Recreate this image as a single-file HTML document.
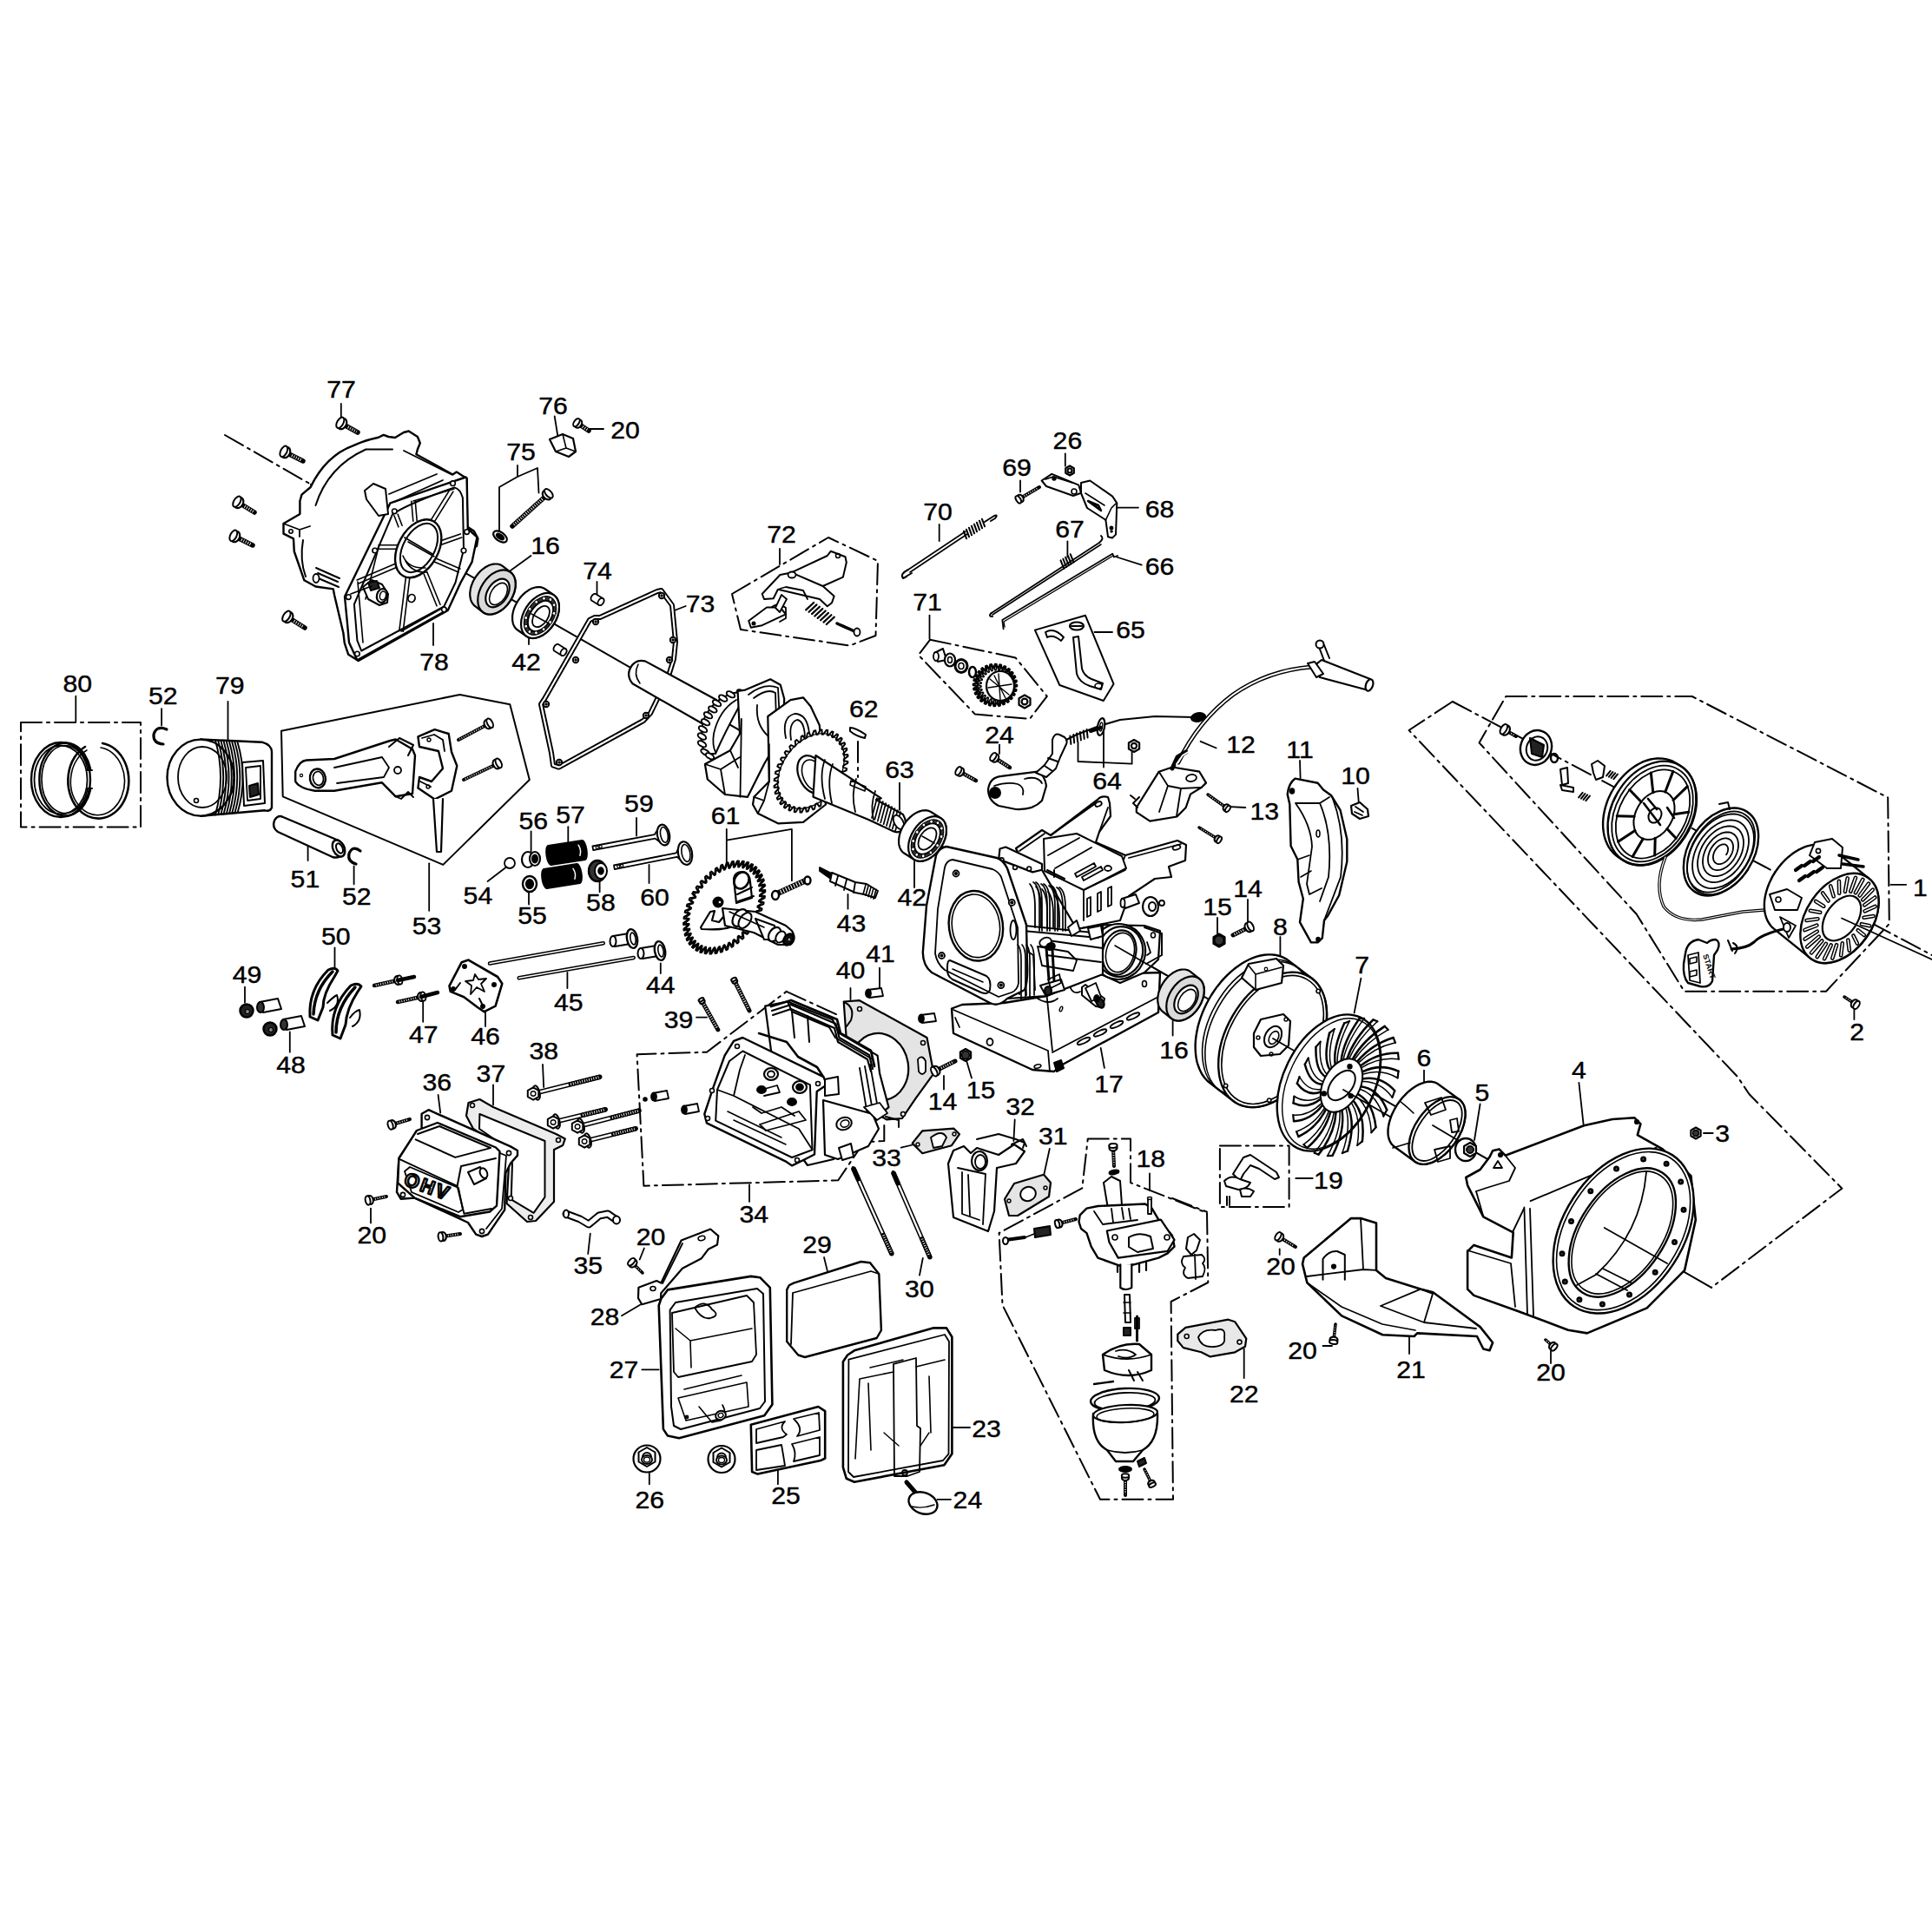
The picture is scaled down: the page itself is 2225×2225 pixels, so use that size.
<!DOCTYPE html>
<html><head><meta charset="utf-8"><style>
html,body{margin:0;padding:0;background:#fff;}
svg{display:block;}
text{font-family:"Liberation Sans",sans-serif;font-size:27px;text-anchor:middle;fill:#000;stroke:none;}
.dd{stroke-dasharray:24,6,3,6;}
.lb{stroke:#000;stroke-width:0.4px;}
</style></head><body>
<svg xmlns="http://www.w3.org/2000/svg" width="2225" height="2225" viewBox="0 0 2225 2225" stroke="#000" fill="none" stroke-linecap="round" stroke-linejoin="round">
<text class="lb" transform="translate(393,458.1) scale(1.12,1)">77</text>
<text class="lb" transform="translate(637,476.6) scale(1.12,1)">76</text>
<text class="lb" transform="translate(600,529.6) scale(1.12,1)">75</text>
<text class="lb" transform="translate(628,637.6) scale(1.12,1)">16</text>
<text class="lb" transform="translate(500,771.6) scale(1.12,1)">78</text>
<text class="lb" transform="translate(606,771.6) scale(1.12,1)">42</text>
<text class="lb" transform="translate(688,666.6) scale(1.12,1)">74</text>
<text class="lb" transform="translate(720,504.6) scale(1.12,1)">20</text>
<text class="lb" transform="translate(900,624.6) scale(1.12,1)">72</text>
<text class="lb" transform="translate(1080,598.6) scale(1.12,1)">70</text>
<text class="lb" transform="translate(806.6,705.2) scale(1.12,1)">73</text>
<text class="lb" transform="translate(1068,702.6) scale(1.12,1)">71</text>
<text class="lb" transform="translate(1229.4,516.6) scale(1.12,1)">26</text>
<text class="lb" transform="translate(1171,547.6) scale(1.12,1)">69</text>
<text class="lb" transform="translate(1335.5,595.6) scale(1.12,1)">68</text>
<text class="lb" transform="translate(1232,618.6) scale(1.12,1)">67</text>
<text class="lb" transform="translate(1335.5,661.6) scale(1.12,1)">66</text>
<text class="lb" transform="translate(1302,735.2) scale(1.12,1)">65</text>
<text class="lb" transform="translate(2211.4,1031.6) scale(1.12,1)">1</text>
<text class="lb" transform="translate(2138.6,1198.2) scale(1.12,1)">2</text>
<text class="lb" transform="translate(994.7,825.9) scale(1.12,1)">62</text>
<text class="lb" transform="translate(1036,895.6) scale(1.12,1)">63</text>
<text class="lb" transform="translate(1050.3,1043.3) scale(1.12,1)">42</text>
<text class="lb" transform="translate(980.4,1073.1) scale(1.12,1)">43</text>
<text class="lb" transform="translate(835.5,948.9) scale(1.12,1)">61</text>
<text class="lb" transform="translate(735.9,934.6) scale(1.12,1)">59</text>
<text class="lb" transform="translate(754,1043.3) scale(1.12,1)">60</text>
<text class="lb" transform="translate(657,947.6) scale(1.12,1)">57</text>
<text class="lb" transform="translate(614.2,955.3) scale(1.12,1)">56</text>
<text class="lb" transform="translate(613,1064) scale(1.12,1)">55</text>
<text class="lb" transform="translate(691.9,1048.6) scale(1.12,1)">58</text>
<text class="lb" transform="translate(1014,1108) scale(1.12,1)">41</text>
<text class="lb" transform="translate(979.5,1126.6) scale(1.12,1)">40</text>
<text class="lb" transform="translate(1151,855.6) scale(1.12,1)">24</text>
<text class="lb" transform="translate(1275,908.6) scale(1.12,1)">64</text>
<text class="lb" transform="translate(1429,867.2) scale(1.12,1)">12</text>
<text class="lb" transform="translate(1456.3,943.6) scale(1.12,1)">13</text>
<text class="lb" transform="translate(1497,872.6) scale(1.12,1)">11</text>
<text class="lb" transform="translate(1561,902.9) scale(1.12,1)">10</text>
<text class="lb" transform="translate(1437,1032.6) scale(1.12,1)">14</text>
<text class="lb" transform="translate(1402,1053.6) scale(1.12,1)">15</text>
<text class="lb" transform="translate(1474.4,1076.9) scale(1.12,1)">8</text>
<text class="lb" transform="translate(1568.7,1120.6) scale(1.12,1)">7</text>
<text class="lb" transform="translate(1640,1228.1) scale(1.12,1)">6</text>
<text class="lb" transform="translate(1707,1268.2) scale(1.12,1)">5</text>
<text class="lb" transform="translate(1818.4,1242.3) scale(1.12,1)">4</text>
<text class="lb" transform="translate(1529.9,1369.1) scale(1.12,1)">19</text>
<text class="lb" transform="translate(1983.6,1314.9) scale(1.12,1)">3</text>
<text class="lb" transform="translate(1625,1586.6) scale(1.12,1)">21</text>
<text class="lb" transform="translate(1500,1564.9) scale(1.12,1)">20</text>
<text class="lb" transform="translate(1786,1590.3) scale(1.12,1)">20</text>
<text class="lb" transform="translate(1475,1467.6) scale(1.12,1)">20</text>
<text class="lb" transform="translate(1325.3,1344.3) scale(1.12,1)">18</text>
<text class="lb" transform="translate(1212.7,1318.4) scale(1.12,1)">31</text>
<text class="lb" transform="translate(1175,1283.6) scale(1.12,1)">32</text>
<text class="lb" transform="translate(1432.7,1614.6) scale(1.12,1)">22</text>
<text class="lb" transform="translate(1136,1654.6) scale(1.12,1)">23</text>
<text class="lb" transform="translate(1114.4,1736.6) scale(1.12,1)">24</text>
<text class="lb" transform="translate(760.8,1143.6) scale(1.12,1)">44</text>
<text class="lb" transform="translate(781.5,1183.8) scale(1.12,1)">39</text>
<text class="lb" transform="translate(1085.6,1278.3) scale(1.12,1)">14</text>
<text class="lb" transform="translate(1129.6,1265.3) scale(1.12,1)">15</text>
<text class="lb" transform="translate(1021,1343) scale(1.12,1)">33</text>
<text class="lb" transform="translate(868.2,1407.6) scale(1.12,1)">34</text>
<text class="lb" transform="translate(491.6,1076.4) scale(1.12,1)">53</text>
<text class="lb" transform="translate(386.8,1088.1) scale(1.12,1)">50</text>
<text class="lb" transform="translate(284.6,1132.1) scale(1.12,1)">49</text>
<text class="lb" transform="translate(335,1235.6) scale(1.12,1)">48</text>
<text class="lb" transform="translate(487.7,1200.6) scale(1.12,1)">47</text>
<text class="lb" transform="translate(559,1203.2) scale(1.12,1)">46</text>
<text class="lb" transform="translate(654.7,1164.4) scale(1.12,1)">45</text>
<text class="lb" transform="translate(626.2,1220.1) scale(1.12,1)">38</text>
<text class="lb" transform="translate(503.3,1256.3) scale(1.12,1)">36</text>
<text class="lb" transform="translate(565.4,1245.9) scale(1.12,1)">37</text>
<text class="lb" transform="translate(428.2,1432.3) scale(1.12,1)">20</text>
<text class="lb" transform="translate(89.2,796.9) scale(1.12,1)">80</text>
<text class="lb" transform="translate(187.7,811.3) scale(1.12,1)">52</text>
<text class="lb" transform="translate(264.8,798.5) scale(1.12,1)">79</text>
<text class="lb" transform="translate(351.4,1021.6) scale(1.12,1)">51</text>
<text class="lb" transform="translate(410.8,1042.4) scale(1.12,1)">52</text>
<text class="lb" transform="translate(550.4,1040.8) scale(1.12,1)">54</text>
<text class="lb" transform="translate(677.2,1466.6) scale(1.12,1)">35</text>
<text class="lb" transform="translate(749.6,1434.2) scale(1.12,1)">20</text>
<text class="lb" transform="translate(696.6,1526.1) scale(1.12,1)">28</text>
<text class="lb" transform="translate(718.6,1586.9) scale(1.12,1)">27</text>
<text class="lb" transform="translate(941,1443.2) scale(1.12,1)">29</text>
<text class="lb" transform="translate(1058.9,1493.6) scale(1.12,1)">30</text>
<text class="lb" transform="translate(905,1731.8) scale(1.12,1)">25</text>
<text class="lb" transform="translate(748.3,1737) scale(1.12,1)">26</text>
<text class="lb" transform="translate(1277,1258.1) scale(1.12,1)">17</text>
<text class="lb" transform="translate(1352,1218.6) scale(1.12,1)">16</text>
<line x1="392.8" y1="465" x2="392.8" y2="482" stroke-width="1.8"/>
<line x1="638.7" y1="479.5" x2="642.5" y2="503" stroke-width="1.8"/>
<line x1="678.5" y1="494" x2="695" y2="494" stroke-width="1.8"/>
<line x1="611.5" y1="640" x2="588" y2="657" stroke-width="1.8"/>
<line x1="499" y1="718" x2="499" y2="743" stroke-width="1.8"/>
<line x1="609" y1="733" x2="609" y2="742" stroke-width="1.8"/>
<line x1="687.5" y1="670" x2="687.5" y2="686.6" stroke-width="1.8"/>
<line x1="898" y1="632" x2="898" y2="650" stroke-width="1.8"/>
<line x1="1081.7" y1="604" x2="1081.7" y2="623" stroke-width="1.8"/>
<line x1="789.7" y1="698" x2="776.8" y2="703" stroke-width="1.8"/>
<line x1="1070.5" y1="708.6" x2="1070.5" y2="735.7" stroke-width="1.8"/>
<line x1="1226.8" y1="522.5" x2="1226.8" y2="536.7" stroke-width="1.8"/>
<line x1="1175" y1="553.5" x2="1175" y2="566.5" stroke-width="1.8"/>
<line x1="1287.6" y1="584.6" x2="1311" y2="584.6" stroke-width="1.8"/>
<line x1="1229.4" y1="623.4" x2="1229.4" y2="641.5" stroke-width="1.8"/>
<line x1="1286" y1="641.5" x2="1314.8" y2="650.6" stroke-width="1.8"/>
<line x1="1260.5" y1="728" x2="1281" y2="728" stroke-width="1.8"/>
<line x1="2177.4" y1="1018.8" x2="2195.2" y2="1018.8" stroke-width="1.8"/>
<line x1="2135.4" y1="1161" x2="2135.4" y2="1174" stroke-width="1.8"/>
<line x1="1036" y1="901.7" x2="1036" y2="932.8" stroke-width="1.8"/>
<line x1="1053" y1="992" x2="1053" y2="1022" stroke-width="1.8"/>
<line x1="976.5" y1="1030" x2="976.5" y2="1046.7" stroke-width="1.8"/>
<line x1="733" y1="942" x2="733" y2="962.6" stroke-width="1.8"/>
<line x1="747.5" y1="996" x2="747.5" y2="1017" stroke-width="1.8"/>
<line x1="654.3" y1="952.2" x2="654.3" y2="970.3" stroke-width="1.8"/>
<line x1="611.6" y1="957.4" x2="611.6" y2="980.7" stroke-width="1.8"/>
<line x1="609" y1="1027" x2="609" y2="1041.5" stroke-width="1.8"/>
<line x1="690.6" y1="1014.3" x2="690.6" y2="1027.3" stroke-width="1.8"/>
<line x1="1151" y1="857.6" x2="1151" y2="868" stroke-width="1.8"/>
<line x1="1382.6" y1="853.8" x2="1400.7" y2="861.5" stroke-width="1.8"/>
<line x1="1412.3" y1="928.8" x2="1434.3" y2="930" stroke-width="1.8"/>
<line x1="1497" y1="876" x2="1497.6" y2="896" stroke-width="1.8"/>
<line x1="1563.5" y1="908" x2="1564.8" y2="924.4" stroke-width="1.8"/>
<line x1="1437" y1="1036" x2="1437" y2="1062" stroke-width="1.8"/>
<line x1="1402" y1="1057" x2="1402" y2="1075" stroke-width="1.8"/>
<line x1="1474.4" y1="1079" x2="1474.4" y2="1106" stroke-width="1.8"/>
<line x1="1567.4" y1="1126.6" x2="1559.6" y2="1166.7" stroke-width="1.8"/>
<line x1="1640" y1="1232.7" x2="1640" y2="1256" stroke-width="1.8"/>
<line x1="1704.6" y1="1271.5" x2="1698" y2="1313" stroke-width="1.8"/>
<line x1="1818.4" y1="1247" x2="1823.6" y2="1294.8" stroke-width="1.8"/>
<line x1="1492.3" y1="1357" x2="1511.7" y2="1357" stroke-width="1.8"/>
<line x1="1962" y1="1305" x2="1972.7" y2="1305" stroke-width="1.8"/>
<line x1="1623" y1="1539" x2="1623" y2="1559" stroke-width="1.8"/>
<line x1="1523.5" y1="1550" x2="1534" y2="1550" stroke-width="1.8"/>
<line x1="1786" y1="1555" x2="1786" y2="1570" stroke-width="1.8"/>
<line x1="1473.7" y1="1438.4" x2="1473.7" y2="1445" stroke-width="1.8"/>
<line x1="1324" y1="1351.5" x2="1324" y2="1371" stroke-width="1.8"/>
<line x1="1208.8" y1="1323" x2="1202.3" y2="1352.8" stroke-width="1.8"/>
<line x1="1168.7" y1="1289.4" x2="1167.4" y2="1314" stroke-width="1.8"/>
<line x1="1432.7" y1="1553.4" x2="1432.7" y2="1587" stroke-width="1.8"/>
<line x1="1097.5" y1="1644" x2="1117" y2="1644" stroke-width="1.8"/>
<line x1="1079.4" y1="1726.8" x2="1095" y2="1726.8" stroke-width="1.8"/>
<line x1="760.8" y1="1109.5" x2="760.8" y2="1121" stroke-width="1.8"/>
<line x1="802" y1="1171.6" x2="814" y2="1171.6" stroke-width="1.8"/>
<line x1="979.5" y1="1138" x2="979.5" y2="1151" stroke-width="1.8"/>
<line x1="1013" y1="1114.7" x2="1013" y2="1138" stroke-width="1.8"/>
<line x1="1087" y1="1239" x2="1087" y2="1254.5" stroke-width="1.8"/>
<line x1="1112.8" y1="1220.8" x2="1119" y2="1241.5" stroke-width="1.8"/>
<line x1="1037.7" y1="1321.7" x2="1053" y2="1318" stroke-width="1.8"/>
<line x1="863" y1="1364.4" x2="863" y2="1383.9" stroke-width="1.8"/>
<line x1="385.5" y1="1091.4" x2="385.5" y2="1113.4" stroke-width="1.8"/>
<line x1="282" y1="1136.7" x2="282" y2="1154.8" stroke-width="1.8"/>
<line x1="333.8" y1="1188.5" x2="333.8" y2="1211.7" stroke-width="1.8"/>
<line x1="487.2" y1="1148.3" x2="487.2" y2="1176.8" stroke-width="1.8"/>
<line x1="559" y1="1165.2" x2="559" y2="1182" stroke-width="1.8"/>
<line x1="653.4" y1="1119.9" x2="653.4" y2="1138" stroke-width="1.8"/>
<line x1="625" y1="1226" x2="626.2" y2="1252" stroke-width="1.8"/>
<line x1="504.6" y1="1261" x2="507.2" y2="1281.6" stroke-width="1.8"/>
<line x1="568" y1="1249.3" x2="568" y2="1272.6" stroke-width="1.8"/>
<line x1="427" y1="1391.6" x2="427" y2="1408.4" stroke-width="1.8"/>
<line x1="87.3" y1="801.7" x2="87.3" y2="831.2" stroke-width="1.8"/>
<line x1="186.1" y1="816.2" x2="186.1" y2="835.4" stroke-width="1.8"/>
<line x1="262.5" y1="808" x2="262.5" y2="851.5" stroke-width="1.8"/>
<line x1="494.2" y1="994.3" x2="494.2" y2="1048.8" stroke-width="1.8"/>
<line x1="354.6" y1="968.6" x2="354.6" y2="991" stroke-width="1.8"/>
<line x1="407.6" y1="997.5" x2="407.6" y2="1018.3" stroke-width="1.8"/>
<line x1="561.6" y1="1015" x2="582.5" y2="999" stroke-width="1.8"/>
<line x1="679.8" y1="1420.7" x2="677.2" y2="1444" stroke-width="1.8"/>
<line x1="741.9" y1="1437.5" x2="736.7" y2="1450.5" stroke-width="1.8"/>
<line x1="716" y1="1515.2" x2="738" y2="1502.2" stroke-width="1.8"/>
<line x1="739.3" y1="1577.3" x2="758.7" y2="1577.3" stroke-width="1.8"/>
<line x1="949" y1="1448" x2="952.8" y2="1463.4" stroke-width="1.8"/>
<line x1="1062.8" y1="1449" x2="1059" y2="1468.6" stroke-width="1.8"/>
<line x1="895.9" y1="1692.4" x2="895.9" y2="1709.3" stroke-width="1.8"/>
<line x1="747.8" y1="1695" x2="747.8" y2="1709.3" stroke-width="1.8"/>
<line x1="1267.7" y1="1207" x2="1271.9" y2="1229.9" stroke-width="1.8"/>
<line x1="1350.6" y1="1176" x2="1350.6" y2="1192.6" stroke-width="1.8"/>
<polyline points="575,611 575,561 596,549 619,539 620.5,567.5" stroke-width="1.8" fill="none"/>
<line x1="596" y1="536" x2="596" y2="549" stroke-width="1.8"/>
<polyline points="836.8,993.6 836.8,954.8" stroke-width="1.8" fill="none"/>
<polyline points="836.8,967.7 911.9,954.8 911.9,1014.3" stroke-width="1.8" fill="none"/>
<polyline points="1241.5,855 1241.5,877 1303.6,879.6 1303.6,865" stroke-width="1.8" fill="none"/>
<line x1="1271" y1="842" x2="1271" y2="883.5" stroke-width="1.8"/>
<polyline class="dd" points="259,501 358,557.8" stroke-width="2.0" fill="none"/>
<line x1="358" y1="557.8" x2="1971" y2="1482.8" stroke-width="2.0"/>
<polygon class="dd" points="24,832 162,832 162,952.6 24,952.6" stroke-width="2.0" fill="none"/>
<polygon points="324,841.8 529.5,800 587.3,811.3 609.8,898 510.3,995.9 325.7,917.3" stroke-width="2.0" fill="none"/>
<polygon class="dd" points="843,684 954,619 1011,646 1008.5,732 978.7,743.5 853,725" stroke-width="2.0" fill="none"/>
<polygon class="dd" points="1071.2,736.7 1169.5,757.4 1205.8,801.9 1186,827.8 1123,822.6 1057.7,754.3" stroke-width="2.0" fill="none"/>
<polygon points="1191.9,725.6 1250,708.8 1282.5,787.7 1270.8,807 1220.3,789" stroke-width="2.0" fill="none"/>
<polygon class="dd" points="1734.3,802 1948.7,802 2174.2,918.5 2175.8,1064 2103,1141.7 1939.7,1141.7 1884.7,1052.8 1703.5,855.4" stroke-width="2.0" fill="none"/>
<polyline class="dd" points="1672.8,808 1622.6,841 2001,1240 2014.4,1260 2121.3,1368.7 1971,1482.8" stroke-width="2.0" fill="none"/>
<polyline class="dd" points="1672.8,808 2225,1100" stroke-width="2.0" fill="none"/>
<polyline class="dd" points="905.7,1141.9 967.9,1170.3" stroke-width="2.0" fill="none"/>
<polyline class="dd" points="1018.3,1295.9 1018.3,1314 995,1315.3 965.3,1359.3 741.4,1365.7 733.6,1214.3 813.9,1211.7 905.7,1141.9" stroke-width="2.0" fill="none"/>
<polygon class="dd" points="1252.8,1311.4 1302,1311.4 1302,1362 1390,1396.8 1391.3,1477 1348.6,1499 1351,1726.8 1267,1726.8 1154.5,1503 1150.6,1420 1246.3,1368.3" stroke-width="2.0" fill="none"/>
<polygon class="dd" points="1404.9,1319.4 1484.6,1319.4 1484.6,1390 1404.9,1390" stroke-width="2.0" fill="none"/>
<polyline class="dd" points="1350,1380 1390,1395.7" stroke-width="2.0" fill="none"/>
<path d="M435.9,503.8 L441.7,500.9 L447.5,503 L455,504 L464.9,498 L470.7,496.5 L480.9,503 L483.8,510.3 L480.9,517.5 L479.4,523.3 L521.4,546.5 L525.8,543.6 L537.4,550.9 L537.4,606 L546,611.7 L550.4,620.4 L549,629 L540.3,633.5 L538.8,642.2 L530.1,661 L517,695.8 L515.7,703 L412.8,761 L401.2,753.8 L396.8,740.7 L395.4,729 L385.2,685.7 L383.8,678.4 L363.5,675.5 L350.4,668.3 L338.8,635 L338,620.4 L326.5,614.6 L326.5,603 L345.4,592 L345.4,577 L347.5,569.7 L357.7,561 Q375,525 407,513.2 Q420,507 435.9,503.8 Z" stroke-width="2.4" fill="#fff" />
<path d="M363.5,582 Q378,537 421.4,517.5 L452,517.5" stroke-width="2" fill="none" />
<path d="M349,622 Q345,645 352,664" stroke-width="2" fill="none" />
<path d="M326.5,603 L345,610 L357,606 M345,610 L345,618" stroke-width="1.8" fill="none" />
<circle cx="335" cy="612" r="2.2" stroke-width="1.6" fill="none"/>
<path d="M397,687 L449.5,579.3 L536.4,549.5 L537.6,550.7 L538.8,609 L549.5,618.6 L543.6,647.1 L530.5,671 L516.2,702 L411.4,760.2 L402,740 L400,718 Z" stroke-width="2.4" fill="#fff" />
<path d="M452,592.4 Q470,580 523.3,561.4 Q530,563 532.9,573.3 L534,632.9 L524.5,671 L511.4,698.3 L416.2,749.5 L411.4,737.6 L407.9,696 Z" stroke-width="2" fill="none" />
<path d="M420,565 L430,557 L444,563 L447,592 L436,594 L422,575 Z" stroke-width="2" fill="#fff" />
<path d="M465,519 L520,546.5 M448,569 L503,546 M454,578 L510,553" stroke-width="1.8" fill="none" />
<path d="M463.1,605.2 L458.1,592.2 M458.9,606.8 L453.9,593.8" stroke-width="1.6" fill="none" />
<path d="M480.2,599.8 L478.2,576.8 M475.8,600.2 L473.8,577.2" stroke-width="1.6" fill="none" />
<path d="M498.9,603.2 L521.9,566.2 M495.1,600.8 L518.1,563.8" stroke-width="1.6" fill="none" />
<path d="M505.7,628.1 L531.7,619.1 M504.3,623.9 L530.3,614.9" stroke-width="1.6" fill="none" />
<path d="M500.1,647.0 L528.1,659.0 M501.9,643.0 L529.9,655.0" stroke-width="1.6" fill="none" />
<path d="M488.0,660.8 L503.0,697.8 M492.0,659.2 L507.0,696.2" stroke-width="1.6" fill="none" />
<path d="M467.8,661.7 L459.8,726.7 M472.2,662.3 L464.2,727.3" stroke-width="1.6" fill="none" />
<path d="M458.1,648.0 L411.1,668.0 M459.9,652.0 L412.9,672.0" stroke-width="1.6" fill="none" />
<path d="M458.0,627.8 L436.0,627.8 M458.0,632.2 L436.0,632.2" stroke-width="1.6" fill="none" />
<path d="M462,727 L510,700 M412,670 L418,740 M436,630 L421,690 M476,577 L523,563" stroke-width="1.6" fill="none" />
<ellipse cx="481.7" cy="631.7" rx="23" ry="36" stroke-width="2.4" fill="#fff" transform="rotate(29 481.7 631.7)"/>
<ellipse cx="482.5" cy="631" rx="18" ry="30.5" stroke-width="2" fill="none" transform="rotate(29 482.5 631)"/>
<path d="M464,640 Q470,655 490,654 M467,646 Q475,660 492,659" stroke-width="1.6" fill="none" />
<line x1="470" y1="624" x2="500" y2="641" stroke-width="1.6"/>
<circle cx="454.3" cy="588.8" r="2.8" stroke-width="1.6" fill="#fff"/>
<circle cx="521.5" cy="556.7" r="2.8" stroke-width="1.6" fill="#fff"/>
<circle cx="537.6" cy="612.6" r="2.8" stroke-width="1.6" fill="#fff"/>
<circle cx="534" cy="634" r="2.8" stroke-width="1.6" fill="#fff"/>
<circle cx="511.4" cy="701.9" r="2.8" stroke-width="1.6" fill="#fff"/>
<circle cx="411.4" cy="753" r="2.8" stroke-width="1.6" fill="#fff"/>
<circle cx="401.3" cy="687.6" r="2.8" stroke-width="1.6" fill="#fff"/>
<circle cx="431.7" cy="634" r="2.8" stroke-width="1.6" fill="#fff"/>
<ellipse cx="474" cy="689" rx="4" ry="4.5" stroke-width="1.8" fill="none" transform="rotate(20 474 689)"/>
<path d="M364,654 L391,666 M362,664 L390,676 M366,660 L389,670" stroke-width="2" fill="none" />
<ellipse cx="364" cy="666" rx="3.5" ry="5" stroke-width="1.8" fill="#fff"/>
<path d="M418,676 L428,668 L440,673 L447,684 L446,694 L437,697 L424,690 Z" stroke-width="2" fill="#fff" />
<ellipse cx="440" cy="686" rx="6" ry="8" stroke-width="2.2" fill="#fff" transform="rotate(15 440 686)"/>
<ellipse cx="441" cy="686" rx="3.5" ry="5" stroke-width="1.6" fill="none" transform="rotate(15 441 686)"/>
<path d="M424,671 L434,669 L437,677 L427,680 Z" stroke-width="2" fill="#222" />
<path d="M404,684 L428,675" stroke-width="1.8" fill="none" />
<line x1="466" y1="619" x2="498" y2="638" stroke-width="1.8"/>
<line x1="394" y1="488" x2="412" y2="498" stroke-width="5.5"/>
<line x1="400.8" y1="491.8" x2="410.7" y2="497.3" stroke-width="3.3" stroke="#fff" stroke-linecap="butt" stroke-dasharray="0.9,1.8"/>
<ellipse cx="394" cy="488" rx="4.9" ry="6.5" stroke-width="2.2" fill="#fff" transform="rotate(29.1 394 488)"/>
<ellipse cx="391.8" cy="486.8" rx="3.6" ry="6.8" stroke-width="2.0" fill="#fff" transform="rotate(29.1 391.8 486.8)"/>
<line x1="329" y1="521" x2="349" y2="531" stroke-width="5.5"/>
<line x1="336" y1="524.5" x2="347.7" y2="530.3" stroke-width="3.3" stroke="#fff" stroke-linecap="butt" stroke-dasharray="0.9,1.8"/>
<ellipse cx="329" cy="521" rx="4.9" ry="6.5" stroke-width="2.2" fill="#fff" transform="rotate(26.6 329 521)"/>
<ellipse cx="326.8" cy="519.9" rx="3.6" ry="6.8" stroke-width="2.0" fill="#fff" transform="rotate(26.6 326.8 519.9)"/>
<line x1="275" y1="579" x2="293" y2="590" stroke-width="5.5"/>
<line x1="281.7" y1="583.1" x2="291.7" y2="589.2" stroke-width="3.3" stroke="#fff" stroke-linecap="butt" stroke-dasharray="0.9,1.8"/>
<ellipse cx="275" cy="579" rx="4.9" ry="6.5" stroke-width="2.2" fill="#fff" transform="rotate(31.4 275 579)"/>
<ellipse cx="272.9" cy="577.7" rx="3.6" ry="6.8" stroke-width="2.0" fill="#fff" transform="rotate(31.4 272.9 577.7)"/>
<line x1="271" y1="618" x2="291" y2="628" stroke-width="5.5"/>
<line x1="278" y1="621.5" x2="289.7" y2="627.3" stroke-width="3.3" stroke="#fff" stroke-linecap="butt" stroke-dasharray="0.9,1.8"/>
<ellipse cx="271" cy="618" rx="4.9" ry="6.5" stroke-width="2.2" fill="#fff" transform="rotate(26.6 271 618)"/>
<ellipse cx="268.8" cy="616.9" rx="3.6" ry="6.8" stroke-width="2.0" fill="#fff" transform="rotate(26.6 268.8 616.9)"/>
<line x1="332" y1="711" x2="351" y2="723" stroke-width="5.5"/>
<line x1="338.6" y1="715.2" x2="349.7" y2="722.2" stroke-width="3.3" stroke="#fff" stroke-linecap="butt" stroke-dasharray="0.9,1.8"/>
<ellipse cx="332" cy="711" rx="4.9" ry="6.5" stroke-width="2.2" fill="#fff" transform="rotate(32.3 332 711)"/>
<ellipse cx="329.9" cy="709.7" rx="3.6" ry="6.8" stroke-width="2.0" fill="#fff" transform="rotate(32.3 329.9 709.7)"/>
<line x1="630" y1="570" x2="590" y2="606" stroke-width="5.5"/>
<line x1="624.6" y1="574.8" x2="591.1" y2="605" stroke-width="3.3" stroke="#fff" stroke-linecap="butt" stroke-dasharray="0.9,1.8"/>
<ellipse cx="630" cy="570" rx="4.5" ry="6" stroke-width="2.2" fill="#fff" transform="rotate(138 630 570)"/>
<ellipse cx="631.9" cy="568.3" rx="3.3" ry="6.3" stroke-width="2.0" fill="#fff" transform="rotate(138 631.9 568.3)"/>
<ellipse cx="576" cy="618" rx="9" ry="5" stroke-width="2.2" fill="#fff" transform="rotate(35 576 618)"/>
<ellipse cx="576" cy="618" rx="5" ry="2.5" stroke-width="1.6" fill="#000" transform="rotate(35 576 618)"/>
<path d="M633,506 L648,500 L660,505 L663,520 L655,526 L640,520 Z" stroke-width="2.2" fill="#fff" />
<path d="M648,500 L652,516 L663,520 M640,520 L652,516" stroke-width="1.6" fill="none" />
<line x1="666" y1="488" x2="678" y2="496" stroke-width="5.5"/>
<line x1="671" y1="491.3" x2="676.8" y2="495.2" stroke-width="3.3" stroke="#fff" stroke-linecap="butt" stroke-dasharray="0.9,1.8"/>
<ellipse cx="666" cy="488" rx="3.8" ry="5" stroke-width="2.2" fill="#fff" transform="rotate(33.7 666 488)"/>
<ellipse cx="663.9" cy="486.6" rx="2.8" ry="5.2" stroke-width="2.0" fill="#fff" transform="rotate(33.7 663.9 486.6)"/>
<polygon points="541.2,684.1 541.3,682.4 541.5,680.6 541.8,678.9 542.1,677.1 542.6,675.4 543.2,673.6 543.9,671.8 544.6,670 545.5,668.3 546.5,666.6 547.5,664.9 548.6,663.3 549.8,661.8 551,660.3 552.3,658.8 553.6,657.5 555,656.2 556.5,655.1 557.9,654 559.4,653 560.9,652.2 562.4,651.4 564,650.8 565.5,650.3 567,649.9 568.5,649.6 569.9,649.5 571.3,649.5 572.7,649.5 574,649.8 575.3,650.1 576.5,650.6 577.7,651.2 578.8,651.9 587.8,658.9 588.8,659.7 589.7,660.6 590.5,661.6 591.3,662.8 592,664 592.5,665.3 593,666.7 593.3,668.2 593.6,669.7 593.7,671.3 593.8,672.9 593.7,674.6 593.5,676.4 593.2,678.1 592.9,679.9 592.4,681.6 591.8,683.4 591.1,685.2 590.4,687 589.5,688.7 588.5,690.4 587.5,692.1 586.4,693.7 585.2,695.2 584,696.7 582.7,698.2 581.4,699.5 580,700.8 578.5,701.9 577.1,703 575.6,704 574.1,704.8 572.6,705.6 571,706.2 569.5,706.7 568,707.1 566.5,707.4 565.1,707.5 563.7,707.5 562.3,707.5 561,707.2 559.7,706.9 558.5,706.4 557.3,705.8 556.2,705.1 547.2,698.1 546.2,697.3 545.3,696.4 544.5,695.4 543.7,694.2 543,693 542.5,691.7 542,690.3 541.7,688.8 541.4,687.3 541.3,685.7" stroke-width="2.2" fill="#e4e4e4"/>
<ellipse cx="572" cy="682" rx="18.5" ry="28" stroke-width="2.2" fill="#dadada" transform="rotate(33 572 682)"/>
<ellipse cx="573" cy="683" rx="11.5" ry="18" stroke-width="2.2" fill="#fff" transform="rotate(33 573 683)"/>
<ellipse cx="574" cy="684" rx="8.5" ry="14" stroke-width="1.6" fill="none" transform="rotate(33 574 684)"/>
<polygon points="590.1,711.4 590.1,709.6 590.3,707.9 590.6,706.1 591,704.3 591.5,702.5 592.1,700.7 592.8,698.9 593.6,697.1 594.5,695.4 595.4,693.6 596.5,691.9 597.6,690.3 598.8,688.7 600,687.2 601.4,685.7 602.7,684.4 604.1,683.1 605.6,681.9 607.1,680.8 608.6,679.8 610.1,678.9 611.6,678.1 613.1,677.5 614.7,677 616.2,676.5 617.7,676.3 619.1,676.1 620.6,676.1 622,676.1 623.3,676.4 624.6,676.7 625.8,677.2 627,677.8 628,678.5 638,685.5 639.1,686.3 640,687.2 640.8,688.2 641.6,689.4 642.2,690.6 642.8,691.9 643.2,693.3 643.5,694.8 643.8,696.4 643.9,698 643.9,699.6 643.9,701.4 643.7,703.1 643.4,704.9 643,706.7 642.5,708.5 641.9,710.3 641.2,712.1 640.4,713.9 639.5,715.6 638.6,717.4 637.5,719.1 636.4,720.7 635.2,722.3 634,723.8 632.6,725.3 631.3,726.6 629.9,727.9 628.4,729.1 626.9,730.2 625.4,731.2 623.9,732.1 622.4,732.9 620.9,733.5 619.3,734 617.8,734.5 616.3,734.7 614.9,734.9 613.4,734.9 612,734.9 610.7,734.6 609.4,734.3 608.2,733.8 607,733.2 606,732.5 596,725.5 594.9,724.7 594,723.8 593.2,722.8 592.4,721.6 591.8,720.4 591.2,719.1 590.8,717.7 590.5,716.2 590.2,714.6 590.1,713" stroke-width="2.2" fill="#fff"/>
<ellipse cx="622" cy="709" rx="18.5" ry="28.5" stroke-width="2.2" fill="#fff" transform="rotate(33 622 709)"/>
<ellipse cx="622" cy="709" rx="15.5" ry="24.5" stroke-width="1.2" fill="#333" transform="rotate(33 622 709)"/>
<ellipse cx="622.5" cy="709.5" rx="12" ry="19.5" stroke-width="2" fill="#fff" transform="rotate(33 622.5 709.5)"/>
<ellipse cx="623" cy="710" rx="8" ry="13.5" stroke-width="1.8" fill="none" transform="rotate(33 623 710)"/>
<circle cx="633.7" cy="716.6" r="2" stroke-width="1" fill="#fff"/>
<circle cx="626.2" cy="724.8" r="2" stroke-width="1" fill="#fff"/>
<circle cx="617.5" cy="728.8" r="2" stroke-width="1" fill="#fff"/>
<circle cx="610" cy="727.5" r="2" stroke-width="1" fill="#fff"/>
<circle cx="605.8" cy="721.2" r="2" stroke-width="1" fill="#fff"/>
<circle cx="605.8" cy="711.6" r="2" stroke-width="1" fill="#fff"/>
<circle cx="610.3" cy="701.4" r="2" stroke-width="1" fill="#fff"/>
<circle cx="617.8" cy="693.2" r="2" stroke-width="1" fill="#fff"/>
<circle cx="626.5" cy="689.2" r="2" stroke-width="1" fill="#fff"/>
<circle cx="634" cy="690.5" r="2" stroke-width="1" fill="#fff"/>
<circle cx="638.2" cy="696.8" r="2" stroke-width="1" fill="#fff"/>
<circle cx="638.2" cy="706.4" r="2" stroke-width="1" fill="#fff"/>
<line x1="612" y1="707" x2="632" y2="718" stroke-width="1.6"/>
<polygon points="680.5,689.5 680.5,689.2 680.5,688.9 680.6,688.6 680.6,688.3 680.7,688 680.8,687.8 680.9,687.5 681,687.2 681.2,686.9 681.3,686.6 681.5,686.4 681.7,686.1 681.9,685.9 682,685.6 682.3,685.4 682.5,685.2 682.7,685 682.9,684.8 683.2,684.6 683.4,684.5 683.6,684.3 683.9,684.2 684.1,684.1 684.4,684 684.6,684 684.9,683.9 685.1,683.9 685.3,683.9 685.5,683.9 685.8,683.9 686,684 686.2,684.1 686.4,684.2 694.4,689.2 694.5,689.3 694.7,689.4 694.9,689.6 695,689.7 695.1,689.9 695.2,690.1 695.3,690.3 695.4,690.5 695.4,690.8 695.5,691 695.5,691.3 695.5,691.5 695.5,691.8 695.5,692.1 695.4,692.4 695.4,692.7 695.3,693 695.2,693.2 695.1,693.5 695,693.8 694.8,694.1 694.7,694.4 694.5,694.6 694.3,694.9 694.1,695.1 694,695.4 693.7,695.6 693.5,695.8 693.3,696 693.1,696.2 692.8,696.4 692.6,696.5 692.4,696.7 692.1,696.8 691.9,696.9 691.6,697 691.4,697 691.1,697.1 690.9,697.1 690.7,697.1 690.5,697.1 690.2,697.1 690,697 689.8,696.9 689.6,696.8 681.6,691.8 681.5,691.7 681.3,691.6 681.1,691.4 681,691.3 680.9,691.1 680.8,690.9 680.7,690.7 680.6,690.5 680.6,690.2 680.5,690 680.5,689.7" stroke-width="1.8" fill="#fff"/>
<ellipse cx="692" cy="693" rx="3" ry="4.5" stroke-width="1.8" fill="#fff" transform="rotate(33 692 693)"/>
<polygon points="637.5,747.5 637.5,747.2 637.5,746.9 637.6,746.6 637.6,746.3 637.7,746 637.8,745.8 637.9,745.5 638,745.2 638.2,744.9 638.3,744.6 638.5,744.4 638.7,744.1 638.9,743.9 639,743.6 639.3,743.4 639.5,743.2 639.7,743 639.9,742.8 640.2,742.6 640.4,742.5 640.6,742.3 640.9,742.2 641.1,742.1 641.4,742 641.6,742 641.9,741.9 642.1,741.9 642.3,741.9 642.5,741.9 642.8,741.9 643,742 643.2,742.1 643.4,742.2 651.4,747.2 651.5,747.3 651.7,747.4 651.9,747.6 652,747.7 652.1,747.9 652.2,748.1 652.3,748.3 652.4,748.5 652.4,748.8 652.5,749 652.5,749.3 652.5,749.5 652.5,749.8 652.5,750.1 652.4,750.4 652.4,750.7 652.3,751 652.2,751.2 652.1,751.5 652,751.8 651.8,752.1 651.7,752.4 651.5,752.6 651.3,752.9 651.1,753.1 651,753.4 650.7,753.6 650.5,753.8 650.3,754 650.1,754.2 649.8,754.4 649.6,754.5 649.4,754.7 649.1,754.8 648.9,754.9 648.6,755 648.4,755 648.1,755.1 647.9,755.1 647.7,755.1 647.5,755.1 647.2,755.1 647,755 646.8,754.9 646.6,754.8 638.6,749.8 638.5,749.7 638.3,749.6 638.1,749.4 638,749.3 637.9,749.1 637.8,748.9 637.7,748.7 637.6,748.5 637.6,748.2 637.5,748 637.5,747.7" stroke-width="1.8" fill="#fff"/>
<ellipse cx="649" cy="751" rx="3" ry="4.5" stroke-width="1.8" fill="#fff" transform="rotate(33 649 751)"/>
<polygon points="761.5,680 774,697 778,739 776,759 771,775 766,790 757,805 749,821.5 741,830 643.5,883.6 637,881.5 635,867 623,811 627,805 679,714 685,711 691,711 757,681" stroke-width="6" fill="none"/>
<polygon points="761.5,680 774,697 778,739 776,759 771,775 766,790 757,805 749,821.5 741,830 643.5,883.6 637,881.5 635,867 623,811 627,805 679,714 685,711 691,711 757,681" stroke-width="2.2" stroke="#fff" fill="none" stroke-dasharray="5,1.2"/>
<circle cx="762" cy="686" r="3.2" stroke-width="2" fill="#fff"/>
<circle cx="762" cy="686" r="1.2" stroke-width="1" fill="#000"/>
<circle cx="775" cy="737" r="3.2" stroke-width="2" fill="#fff"/>
<circle cx="775" cy="737" r="1.2" stroke-width="1" fill="#000"/>
<circle cx="771" cy="760" r="3.2" stroke-width="2" fill="#fff"/>
<circle cx="771" cy="760" r="1.2" stroke-width="1" fill="#000"/>
<circle cx="744" cy="824" r="3.2" stroke-width="2" fill="#fff"/>
<circle cx="744" cy="824" r="1.2" stroke-width="1" fill="#000"/>
<circle cx="644" cy="878" r="3.2" stroke-width="2" fill="#fff"/>
<circle cx="644" cy="878" r="1.2" stroke-width="1" fill="#000"/>
<circle cx="629" cy="811" r="3.2" stroke-width="2" fill="#fff"/>
<circle cx="629" cy="811" r="1.2" stroke-width="1" fill="#000"/>
<circle cx="686" cy="716" r="3.2" stroke-width="2" fill="#fff"/>
<circle cx="686" cy="716" r="1.2" stroke-width="1" fill="#000"/>
<circle cx="663" cy="760" r="3.2" stroke-width="2" fill="#fff"/>
<circle cx="663" cy="760" r="1.2" stroke-width="1" fill="#000"/>
<path d="M742.9,761.4 L825,806 L810,834 L728.4,787.3 Q720,777 728,766 Q734,759 742.9,761.4 Z" stroke-width="2.2" fill="#fff" stroke-dasharray="0"/>
<path d="M735,765 Q729,777 737,787" stroke-width="1.6" fill="none" />
<path d="M852,797 Q826,800 812,825 Q803,848 812,868 L824,868 Q834,845 852,812 Z" stroke-width="2" fill="#fff" />
<path d="M848,806 Q828,818 822,845 Q820,858 824,866" stroke-width="1.8" fill="none" />
<ellipse cx="853.5" cy="797.8" rx="5.2" ry="2.8" stroke-width="2" fill="#fff" transform="rotate(30 853.5 797.8)"/>
<ellipse cx="841.5" cy="799.8" rx="5.2" ry="2.8" stroke-width="2" fill="#fff" transform="rotate(30 841.5 799.8)"/>
<ellipse cx="832.7" cy="804.1" rx="5.2" ry="2.8" stroke-width="2" fill="#fff" transform="rotate(30 832.7 804.1)"/>
<ellipse cx="825.5" cy="809.8" rx="5.2" ry="2.8" stroke-width="2" fill="#fff" transform="rotate(30 825.5 809.8)"/>
<ellipse cx="820.8" cy="817" rx="5.2" ry="2.8" stroke-width="2" fill="#fff" transform="rotate(30 820.8 817)"/>
<ellipse cx="815.5" cy="823.8" rx="5.2" ry="2.8" stroke-width="2" fill="#fff" transform="rotate(30 815.5 823.8)"/>
<ellipse cx="812.5" cy="831.8" rx="5.2" ry="2.8" stroke-width="2" fill="#fff" transform="rotate(30 812.5 831.8)"/>
<ellipse cx="809.5" cy="839.8" rx="5.2" ry="2.8" stroke-width="2" fill="#fff" transform="rotate(30 809.5 839.8)"/>
<ellipse cx="808.4" cy="848.1" rx="5.2" ry="2.8" stroke-width="2" fill="#fff" transform="rotate(30 808.4 848.1)"/>
<ellipse cx="808.5" cy="856.8" rx="5.2" ry="2.8" stroke-width="2" fill="#fff" transform="rotate(30 808.5 856.8)"/>
<ellipse cx="812" cy="866.2" rx="5.2" ry="2.8" stroke-width="2" fill="#fff" transform="rotate(30 812 866.2)"/>
<ellipse cx="817.5" cy="870.8" rx="5.2" ry="2.8" stroke-width="2" fill="#fff" transform="rotate(30 817.5 870.8)"/>
<path d="M849.6,796 L858.3,794.6 L887.2,782.3 L898.8,788.8 L903.2,804.8 L901.7,842.5 L880,880 L861,917.8 L835,915 L814.8,897.5 L811.9,880 L840.9,864.2 L852,845 Z" stroke-width="2.2" fill="#fff" />
<path d="M811.9,880 L830,886 L852,872 M830,886 L835,915 M840.9,864.2 L850,884 M853.9,828 L852.5,917.8" stroke-width="1.8" fill="none" />
<path d="M862,800 Q880,786 896,792 L898,830 M868,804 Q884,792 893,798 L894,830 M872,812 Q870,835 885,848" stroke-width="1.8" fill="none" />
<path d="M884.3,825 L910.4,806.2 L925,803.3 L933.6,813.5 L943.8,835.2 L951,926.5 L925,946.8 L896,948.3 L872.8,936.7 L867,926.5 L868.4,917.8 L885.8,900 Z" stroke-width="2.2" fill="#fff" />
<path d="M868.4,917.8 L880,922 L885.8,900 M880,922 L872.8,936.7 M885.8,857 L885.8,900" stroke-width="1.8" fill="none" />
<path d="M905,850 Q900,826 915,822 Q930,822 932,845 M911,852 Q908,832 918,829 Q926,830 927,848" stroke-width="1.8" fill="none" />
<polygon points="964.3,909.2 963,911.1 958.6,910.1 957.3,911.7 958.7,916.3 957.1,917.9 953.2,916.1 951.7,917.4 952.3,922.5 950.6,923.9 947.2,921.1 945.7,922.3 945.3,927.7 943.5,928.8 940.9,925.2 939.2,926.1 938,931.6 936.2,932.4 934.3,928.2 932.7,928.7 930.6,934.3 928.8,934.7 927.7,929.9 926.1,930.1 923.3,935.5 921.5,935.6 921.3,930.3 919.8,930.3 916.3,935.3 914.7,935 915.3,929.5 913.9,929.1 909.9,933.6 908.4,933 909.9,927.4 908.7,926.7 904.2,930.6 902.9,929.6 905.2,924.1 904.2,923.1 899.4,926.3 898.3,925 901.4,919.7 900.6,918.5 895.6,920.8 894.8,919.2 898.5,914.4 898,912.9 893,914.3 892.6,912.5 896.8,908.2 896.5,906.6 891.7,907 891.5,905.1 896.2,901.5 896.2,899.7 891.6,899.1 891.8,897.1 896.7,894.3 897,892.4 892.8,890.9 893.3,888.8 898.3,886.9 898.9,885.1 895.3,882.6 896.1,880.6 901.1,879.6 901.9,877.8 899,874.5 900.1,872.5 904.8,872.5 905.9,870.8 903.7,866.8 905,864.9 909.4,865.9 910.7,864.3 909.3,859.7 910.9,858.1 914.8,859.9 916.3,858.6 915.7,853.5 917.4,852.1 920.8,854.9 922.3,853.7 922.7,848.3 924.5,847.2 927.1,850.8 928.8,849.9 930,844.4 931.8,843.6 933.7,847.8 935.3,847.3 937.4,841.7 939.2,841.3 940.3,846.1 941.9,845.9 944.7,840.5 946.5,840.4 946.7,845.7 948.2,845.7 951.7,840.7 953.3,841 952.7,846.5 954.1,846.9 958.1,842.4 959.6,843 958.1,848.6 959.3,849.3 963.8,845.4 965.1,846.4 962.8,851.9 963.8,852.9 968.6,849.7 969.7,851 966.6,856.3 967.4,857.5 972.4,855.2 973.2,856.8 969.5,861.6 970,863.1 975,861.7 975.4,863.5 971.2,867.8 971.5,869.4 976.3,869 976.5,870.9 971.8,874.5 971.8,876.3 976.4,876.9 976.2,878.9 971.3,881.7 971,883.6 975.2,885.1 974.7,887.2 969.7,889.1 969.1,890.9 972.7,893.4 971.9,895.4 966.9,896.4 966.1,898.2 969,901.5 967.9,903.5 963.2,903.5 962.1,905.2" stroke-width="2" fill="#fff"/>
<ellipse cx="934" cy="888" rx="33" ry="47.5" stroke-width="1.3" fill="none" transform="rotate(35 934 888)"/>
<ellipse cx="935" cy="892" rx="15" ry="23" stroke-width="2.2" fill="#fff" transform="rotate(-25 935 892)"/>
<ellipse cx="937" cy="893" rx="12" ry="19" stroke-width="1.6" fill="#fff" transform="rotate(-25 937 893)"/>
<path d="M939.4,870 L1014.8,919.3 L1009,921 L1040,938 Q1046,948 1040,956 Q1034,960 1028,957 L1000.3,944 L936.5,917.8 Z" stroke-width="2.2" fill="#fff" />
<path d="M950,875 Q943,893 950,920 M959,880 Q952,898 958,925 M986,897 Q980,915 985,935 M1008,911 Q1002,928 1006,944" stroke-width="1.8" fill="none" />
<path d="M1010.0,919.0 L1004.0,942.0" stroke-width="1.7" fill="none" />
<path d="M1013.4,921.0 L1007.4,943.8" stroke-width="1.7" fill="none" />
<path d="M1016.8,923.0 L1010.8,945.6" stroke-width="1.7" fill="none" />
<path d="M1020.2,925.0 L1014.2,947.4" stroke-width="1.7" fill="none" />
<path d="M1023.6,927.0 L1017.6,949.2" stroke-width="1.7" fill="none" />
<path d="M1027.0,929.0 L1021.0,951.0" stroke-width="1.7" fill="none" />
<path d="M1030.4,931.0 L1024.4,952.8" stroke-width="1.7" fill="none" />
<path d="M1033.8,933.0 L1027.8,954.6" stroke-width="1.7" fill="none" />
<path d="M1037.2,935.0 L1031.2,956.4" stroke-width="1.7" fill="none" />
<ellipse cx="1035" cy="947" rx="5" ry="9" stroke-width="1.8" fill="#fff" transform="rotate(-30 1035 947)"/>
<path d="M980,899 L997,906 L996,911 L979,904 Z" stroke-width="1.6" fill="none" />
<path d="M979,838 Q985,838 997,846 L996,850 Q986,848 979,842 Z" stroke-width="2" fill="#fff" />
<polyline class="dd" points="988,854 988,895" stroke-width="2.0" fill="none"/>
<polygon points="683.2,979.1 754.6,965.7 764,972.6 760,951.4 753.7,961.2 682.4,974.5" stroke-width="1.8" fill="#fff"/>
<ellipse cx="764" cy="961.6" rx="7" ry="12" stroke-width="2.2" fill="#fff" transform="rotate(-10.6 764 961.6)"/>
<ellipse cx="764.9" cy="961.4" rx="4.2" ry="9" stroke-width="1.6" fill="none" transform="rotate(-10.6 764.9 961.4)"/>
<circle cx="687.7" cy="975.9" r="1.6" stroke-width="1.2" fill="none"/>
<circle cx="691.6" cy="975.1" r="1.6" stroke-width="1.2" fill="none"/>
<polygon points="707.8,1001.1 779.6,986.8 789.4,994.9 784.6,971.1 778.7,982.3 707,996.5" stroke-width="1.8" fill="#fff"/>
<ellipse cx="789" cy="982.6" rx="8" ry="13.5" stroke-width="2.2" fill="#fff" transform="rotate(-11.2 789 982.6)"/>
<ellipse cx="789.9" cy="982.4" rx="4.8" ry="10.1" stroke-width="1.6" fill="none" transform="rotate(-11.2 789.9 982.4)"/>
<circle cx="712.3" cy="997.8" r="1.6" stroke-width="1.2" fill="none"/>
<circle cx="716.2" cy="997" r="1.6" stroke-width="1.2" fill="none"/>
<polygon points="634.7,995.9 673.7,989.9 670.3,968.1 631.3,974.1" stroke-width="2" fill="#000"/>
<ellipse cx="633" cy="985" rx="3.5" ry="11" stroke-width="2" fill="#000" transform="rotate(-8.7 633 985)"/>
<ellipse cx="672" cy="979" rx="3.5" ry="11" stroke-width="2" fill="#000" transform="rotate(-8.7 672 979)"/>
<path d="M666.1,973.2 Q670.0,979.3 667.9,985.2" stroke-width="1.5" fill="none" stroke="#fff"/>
<polygon points="629.7,1022.9 667.7,1016.9 664.3,995.1 626.3,1001.1" stroke-width="2" fill="#000"/>
<ellipse cx="628" cy="1012" rx="3.5" ry="11" stroke-width="2" fill="#000" transform="rotate(-9 628 1012)"/>
<ellipse cx="666" cy="1006" rx="3.5" ry="11" stroke-width="2" fill="#000" transform="rotate(-9 666 1006)"/>
<path d="M660.0,1000.3 Q664.0,1006.3 661.9,1012.2" stroke-width="1.5" fill="none" stroke="#fff"/>
<ellipse cx="608" cy="990" rx="7" ry="9" stroke-width="2.2" fill="#fff"/>
<ellipse cx="616" cy="989" rx="6" ry="8" stroke-width="2.2" fill="#fff"/>
<ellipse cx="616" cy="989" rx="3" ry="4.5" stroke-width="2" fill="#000"/>
<ellipse cx="610" cy="1018" rx="8" ry="9" stroke-width="2.4" fill="#fff"/>
<ellipse cx="610" cy="1018" rx="4" ry="5" stroke-width="2.2" fill="#000"/>
<ellipse cx="688" cy="1003" rx="10" ry="12" stroke-width="2.4" fill="#333"/>
<ellipse cx="692" cy="1003" rx="7" ry="9" stroke-width="2" fill="#fff"/>
<ellipse cx="692" cy="1003" rx="3" ry="4" stroke-width="1.6" fill="#000"/>
<circle cx="587" cy="994" r="6" stroke-width="1.8" fill="#fff"/>
<polygon points="866.6,1067.7 865.5,1069.4 861.2,1068.4 860.1,1069.8 861.7,1074.1 860.4,1075.6 856.6,1073.9 855.4,1075.2 856.3,1079.9 854.9,1081.3 851.5,1078.8 850.2,1080 850.5,1085.1 849,1086.3 846.1,1083.2 844.7,1084.1 844.3,1089.5 842.8,1090.5 840.5,1086.8 839.1,1087.6 838,1093.1 836.4,1093.9 834.7,1089.6 833.3,1090.2 831.6,1095.8 830,1096.4 829,1091.6 827.6,1092 825.3,1097.6 823.7,1097.9 823.3,1092.8 822,1092.9 819.1,1098.4 817.6,1098.4 817.9,1093 816.6,1093 813.2,1098.1 811.8,1097.9 812.7,1092.4 811.5,1092.1 807.7,1096.9 806.4,1096.5 808,1090.9 806.9,1090.4 802.7,1094.8 801.5,1094.1 803.7,1088.5 802.8,1087.8 798.2,1091.7 797.2,1090.8 800.1,1085.3 799.2,1084.4 794.5,1087.7 793.6,1086.6 797,1081.4 796.3,1080.3 791.4,1082.9 790.8,1081.6 794.6,1076.8 794.2,1075.5 789.2,1077.5 788.8,1076 793,1071.5 792.7,1070.2 787.8,1071.4 787.6,1069.8 792.1,1065.8 792.1,1064.3 787.3,1064.8 787.3,1063.1 792.1,1059.7 792.2,1058.2 787.7,1057.9 787.9,1056.1 792.8,1053.4 793.1,1051.8 788.9,1050.7 789.3,1048.9 794.3,1046.9 794.8,1045.2 791,1043.4 791.6,1041.6 796.5,1040.3 797.2,1038.7 793.8,1036.2 794.7,1034.4 799.4,1033.8 800.3,1032.2 797.5,1029.1 798.5,1027.3 803,1027.6 804,1026.1 801.8,1022.3 802.9,1020.6 807.2,1021.6 808.3,1020.2 806.7,1015.9 808,1014.4 811.8,1016.1 813,1014.8 812.1,1010.1 813.5,1008.7 816.9,1011.2 818.2,1010 817.9,1004.9 819.4,1003.7 822.3,1006.8 823.7,1005.9 824.1,1000.5 825.6,999.5 827.9,1003.2 829.3,1002.4 830.4,996.9 832,996.1 833.7,1000.4 835.1,999.8 836.8,994.2 838.4,993.6 839.4,998.4 840.8,998 843.1,992.4 844.7,992.1 845.1,997.2 846.4,997.1 849.3,991.6 850.8,991.6 850.5,997 851.8,997 855.2,991.9 856.6,992.1 855.7,997.6 856.9,997.9 860.7,993.1 862,993.5 860.4,999.1 861.5,999.6 865.7,995.2 866.9,995.9 864.7,1001.5 865.6,1002.2 870.2,998.3 871.2,999.2 868.3,1004.7 869.2,1005.6 873.9,1002.3 874.8,1003.4 871.4,1008.6 872.1,1009.7 877,1007.1 877.6,1008.4 873.8,1013.2 874.2,1014.5 879.2,1012.5 879.6,1014 875.4,1018.5 875.7,1019.8 880.6,1018.6 880.8,1020.2 876.3,1024.2 876.3,1025.7 881.1,1025.2 881.1,1026.9 876.3,1030.3 876.2,1031.8 880.7,1032.1 880.5,1033.9 875.6,1036.6 875.3,1038.2 879.5,1039.3 879.1,1041.1 874.1,1043.1 873.6,1044.8 877.4,1046.6 876.8,1048.4 871.9,1049.7 871.2,1051.3 874.6,1053.8 873.7,1055.6 869,1056.2 868.1,1057.8 870.9,1060.9 869.9,1062.7 865.4,1062.4 864.4,1063.9" stroke-width="2.4" fill="#fff"/>
<polygon points="864.5,1066.2 863.4,1067.8 860,1067.3 858.9,1068.7 859.9,1072.2 858.7,1073.6 855.5,1072.6 854.4,1073.9 854.8,1077.7 853.5,1079 850.7,1077.4 849.4,1078.5 849.3,1082.6 847.9,1083.7 845.5,1081.6 844.2,1082.5 843.6,1086.8 842.1,1087.7 840.1,1085.1 838.7,1085.8 837.6,1090.2 836.1,1090.9 834.6,1087.8 833.2,1088.4 831.6,1092.7 830.1,1093.2 829.1,1089.8 827.7,1090.1 825.7,1094.4 824.2,1094.7 823.7,1090.9 822.3,1091 819.9,1095.1 818.5,1095.2 818.4,1091.1 817.2,1091.1 814.4,1094.9 813,1094.8 813.5,1090.5 812.3,1090.3 809.2,1093.8 808,1093.4 809,1089.1 807.9,1088.6 804.5,1091.8 803.4,1091.2 804.9,1086.8 804,1086.1 800.4,1088.9 799.4,1088.1 801.4,1083.8 800.6,1082.9 796.9,1085.2 796.1,1084.1 798.5,1080 797.9,1079 794.1,1080.7 793.5,1079.5 796.2,1075.6 795.8,1074.4 792,1075.6 791.6,1074.2 794.7,1070.6 794.4,1069.3 790.7,1069.9 790.5,1068.4 793.9,1065.1 793.8,1063.7 790.2,1063.7 790.3,1062.1 793.8,1059.3 793.9,1057.8 790.6,1057.2 790.8,1055.6 794.5,1053.2 794.8,1051.6 791.8,1050.5 792.2,1048.8 796,1046.9 796.4,1045.3 793.7,1043.6 794.3,1041.9 798.1,1040.6 798.8,1039 796.4,1036.8 797.2,1035.1 800.9,1034.4 801.7,1032.9 799.8,1030.2 800.8,1028.5 804.4,1028.4 805.3,1026.9 803.9,1023.8 805,1022.2 808.4,1022.7 809.5,1021.3 808.5,1017.8 809.7,1016.4 812.9,1017.4 814,1016.1 813.6,1012.3 814.9,1011 817.7,1012.6 819,1011.5 819.1,1007.4 820.5,1006.3 822.9,1008.4 824.2,1007.5 824.8,1003.2 826.3,1002.3 828.3,1004.9 829.7,1004.2 830.8,999.8 832.3,999.1 833.8,1002.2 835.2,1001.6 836.8,997.3 838.3,996.8 839.3,1000.2 840.7,999.9 842.7,995.6 844.2,995.3 844.7,999.1 846.1,999 848.5,994.9 849.9,994.8 850,998.9 851.2,998.9 854,995.1 855.4,995.2 854.9,999.5 856.1,999.7 859.2,996.2 860.4,996.6 859.4,1000.9 860.5,1001.4 863.9,998.2 865,998.8 863.5,1003.2 864.4,1003.9 868,1001.1 869,1001.9 867,1006.2 867.8,1007.1 871.5,1004.8 872.3,1005.9 869.9,1010 870.5,1011 874.3,1009.3 874.9,1010.5 872.2,1014.4 872.6,1015.6 876.4,1014.4 876.8,1015.8 873.7,1019.4 874,1020.7 877.7,1020.1 877.9,1021.6 874.5,1024.9 874.6,1026.3 878.2,1026.3 878.1,1027.9 874.6,1030.7 874.5,1032.2 877.8,1032.8 877.6,1034.4 873.9,1036.8 873.6,1038.4 876.6,1039.5 876.2,1041.2 872.4,1043.1 872,1044.7 874.7,1046.4 874.1,1048.1 870.3,1049.4 869.6,1051 872,1053.2 871.2,1054.9 867.5,1055.6 866.7,1057.1 868.6,1059.8 867.6,1061.5 864,1061.6 863.1,1063.1" stroke-width="1.4" fill="none"/>
<path d="M845,1012 Q846,1004 855,1004 Q864,1006 864,1016 L866,1034 L848,1040 Z" stroke-width="2.2" fill="#fff" />
<ellipse cx="854" cy="1014" rx="8" ry="10" stroke-width="2.6" fill="#fff" transform="rotate(30 854 1014)"/>
<path d="M849,1030 L866,1022 M850,1038 L868,1032" stroke-width="2" fill="none" />
<ellipse cx="827" cy="1039" rx="5" ry="5" stroke-width="3" fill="#000"/>
<circle cx="829" cy="1039" r="1.8" stroke-width="0.8" fill="#fff"/>
<path d="M807,1068 L818,1050 L823,1049 L820,1060 L828,1062 L833,1056 L846,1064 Q840,1072 808,1070 Z" stroke-width="2.2" fill="#fff" />
<path d="M832,1046 L870,1050 L905,1066 L912,1072 Q918,1082 910,1088 L896,1088 L868,1074 L835,1066 Z" stroke-width="2.2" fill="#fff" />
<ellipse cx="852" cy="1057" rx="7" ry="11" stroke-width="2.2" fill="#fff" transform="rotate(35 852 1057)"/>
<ellipse cx="858" cy="1060" rx="6" ry="10" stroke-width="2" fill="#fff" transform="rotate(35 858 1060)"/>
<path d="M870,1058 L892,1066 L896,1082 L880,1082 Z" stroke-width="2" fill="#fff" />
<ellipse cx="892" cy="1076" rx="6" ry="9" stroke-width="2.2" fill="#fff" transform="rotate(35 892 1076)"/>
<ellipse cx="899" cy="1079" rx="5" ry="7" stroke-width="2" fill="#fff" transform="rotate(35 899 1079)"/>
<ellipse cx="908" cy="1082" rx="5" ry="7" stroke-width="2.6" fill="#111" transform="rotate(35 908 1082)"/>
<circle cx="909" cy="1082" r="1.5" stroke-width="0.8" fill="#fff"/>
<path d="M840,1050 L880,1068" stroke-width="1.6" fill="none" />
<path d="M893,1030 L928,1014" stroke-width="6.5" fill="none" />
<path d="M893,1030 L928,1014" stroke-width="5" fill="none" stroke="#fff" stroke-dasharray="1.1,2.2" stroke-linecap="butt"/>
<ellipse cx="893" cy="1031" rx="4" ry="5" stroke-width="2.4" fill="#fff"/>
<ellipse cx="930" cy="1014" rx="3.5" ry="4.5" stroke-width="2.4" fill="#fff"/>
<path d="M944,999 L960,1007 L958,1013 L944,1003 Z" stroke-width="1.8" fill="#000" />
<path d="M958,1005 L985,1016 L998,1018 L1011,1026 L1008,1034 L995,1030 L985,1028 L956,1015 Z" stroke-width="2" fill="#fff" />
<path d="M965,1009 L962,1020 M975,1013 L972,1025 M985,1016 L983,1028" stroke-width="1.8" fill="none" />
<path d="M997,1019.0 L994,1030.0" stroke-width="1.6" fill="none" />
<path d="M1000,1020.3 L997,1031.3" stroke-width="1.6" fill="none" />
<path d="M1003,1021.6 L1000,1032.6" stroke-width="1.6" fill="none" />
<path d="M1006,1022.9 L1003,1033.9" stroke-width="1.6" fill="none" />
<path d="M1009,1024.2 L1006,1035.2" stroke-width="1.6" fill="none" />
<polygon points="1035.1,968.1 1035.2,966.4 1035.4,964.7 1035.7,962.9 1036.1,961.1 1036.6,959.4 1037.2,957.6 1037.9,955.8 1038.7,954 1039.6,952.2 1040.6,950.5 1041.7,948.8 1042.8,947.2 1044,945.6 1045.2,944.1 1046.6,942.7 1047.9,941.4 1049.4,940.1 1050.8,938.9 1052.3,937.8 1053.8,936.9 1055.3,936 1056.8,935.2 1058.4,934.6 1059.9,934.1 1061.4,933.7 1062.9,933.4 1064.4,933.3 1065.8,933.2 1067.2,933.3 1068.5,933.6 1069.8,933.9 1071,934.4 1072.1,935 1083.1,942 1084.2,942.7 1085.2,943.5 1086.1,944.4 1086.9,945.5 1087.7,946.6 1088.3,947.9 1088.8,949.2 1089.2,950.6 1089.6,952 1089.8,953.6 1089.9,955.2 1089.9,956.9 1089.8,958.6 1089.6,960.3 1089.3,962.1 1088.9,963.9 1088.4,965.6 1087.8,967.4 1087.1,969.2 1086.3,971 1085.4,972.8 1084.4,974.5 1083.3,976.2 1082.2,977.8 1081,979.4 1079.8,980.9 1078.4,982.3 1077.1,983.6 1075.6,984.9 1074.2,986.1 1072.7,987.2 1071.2,988.1 1069.7,989 1068.2,989.8 1066.6,990.4 1065.1,990.9 1063.6,991.3 1062.1,991.6 1060.6,991.7 1059.2,991.8 1057.8,991.7 1056.5,991.4 1055.2,991.1 1054,990.6 1052.9,990 1041.9,983 1040.8,982.3 1039.8,981.5 1038.9,980.6 1038.1,979.5 1037.3,978.4 1036.7,977.1 1036.2,975.8 1035.8,974.4 1035.4,973 1035.2,971.4 1035.1,969.8" stroke-width="2.2" fill="#fff"/>
<ellipse cx="1068" cy="966" rx="18.4" ry="28.4" stroke-width="2.2" fill="#fff" transform="rotate(33.5 1068 966)"/>
<ellipse cx="1068" cy="966" rx="15.5" ry="24.5" stroke-width="1.2" fill="#333" transform="rotate(33.5 1068 966)"/>
<ellipse cx="1068" cy="966" rx="12.3" ry="19.5" stroke-width="2" fill="#fff" transform="rotate(33.5 1068 966)"/>
<ellipse cx="1068" cy="966" rx="8.5" ry="14" stroke-width="1.8" fill="none" transform="rotate(33.5 1068 966)"/>
<circle cx="1079.7" cy="973.7" r="2" stroke-width="1" fill="#fff"/>
<circle cx="1072" cy="981.9" r="2" stroke-width="1" fill="#fff"/>
<circle cx="1063.3" cy="985.8" r="2" stroke-width="1" fill="#fff"/>
<circle cx="1055.9" cy="984.3" r="2" stroke-width="1" fill="#fff"/>
<circle cx="1051.6" cy="978" r="2" stroke-width="1" fill="#fff"/>
<circle cx="1051.8" cy="968.5" r="2" stroke-width="1" fill="#fff"/>
<circle cx="1056.3" cy="958.3" r="2" stroke-width="1" fill="#fff"/>
<circle cx="1064" cy="950.1" r="2" stroke-width="1" fill="#fff"/>
<circle cx="1072.7" cy="946.2" r="2" stroke-width="1" fill="#fff"/>
<circle cx="1080.1" cy="947.7" r="2" stroke-width="1" fill="#fff"/>
<circle cx="1084.4" cy="954" r="2" stroke-width="1" fill="#fff"/>
<circle cx="1084.2" cy="963.5" r="2" stroke-width="1" fill="#fff"/>
<line x1="1062" y1="963" x2="1076" y2="971" stroke-width="1.6"/>
<path d="M564,1109.5 L694.8,1086.2" stroke-width="4.5" fill="none" />
<path d="M564,1109.5 L694.8,1086.2" stroke-width="1.5" fill="none" stroke="#fff"/>
<path d="M597.7,1126.3 L729.7,1103" stroke-width="4.5" fill="none" />
<path d="M597.7,1126.3 L729.7,1103" stroke-width="1.5" fill="none" stroke="#fff"/>
<path d="M706,1078 L724,1075 L726,1087 L708,1090 Z" stroke-width="2" fill="#fff" />
<ellipse cx="706" cy="1084" rx="3.5" ry="6" stroke-width="2" fill="#fff"/>
<ellipse cx="728" cy="1081" rx="6" ry="11" stroke-width="2.4" fill="#fff" transform="rotate(-10 728 1081)"/>
<ellipse cx="729" cy="1081" rx="3" ry="7" stroke-width="1.6" fill="none" transform="rotate(-10 729 1081)"/>
<path d="M738,1092 L756,1089 L758,1101 L740,1104 Z" stroke-width="2" fill="#fff" />
<ellipse cx="738" cy="1098" rx="3.5" ry="6" stroke-width="2" fill="#fff"/>
<ellipse cx="760" cy="1095" rx="6" ry="11" stroke-width="2.4" fill="#fff" transform="rotate(-10 760 1095)"/>
<ellipse cx="761" cy="1095" rx="3" ry="7" stroke-width="1.6" fill="none" transform="rotate(-10 761 1095)"/>
<path d="M911.4,659.4 L952.8,640 L956.7,634.8 L973.5,641.3 L974.8,647.7 L970.9,664.6 L947.6,675" stroke-width="2" fill="none" />
<path d="M877.7,684 L898.4,662 L911.4,659.4 L947.6,675 L960.6,686.6 L958,694.3 L952.8,698.2 L944,690 L895.9,678.8 L890.7,689.2 L880,690 Z" stroke-width="2" fill="#fff" />
<circle cx="965" cy="640" r="2.5" stroke-width="1.6" fill="none"/>
<ellipse cx="912" cy="662" rx="4.5" ry="3.5" stroke-width="1.8" fill="#fff"/>
<path d="M898,678 L905,676 L925,680 L930,690 M888,700 Q895,693 905,700 L905,712 L898,716" stroke-width="1.8" fill="none" />
<path d="M862.2,715 L883,699.5 L898.4,699.5 L905,707.3 L877.7,720.2 L864.8,722.8 Z" stroke-width="2" fill="#fff" />
<circle cx="868" cy="718" r="1.8" stroke-width="1.4" fill="#000"/>
<path d="M893,700 L900,685 L906,690 L898,705 Z" stroke-width="1.8" fill="#fff" />
<path d="M928.2,702.4L937.2,694M931.6,704.8L940.5,696.4M935,707.1L943.9,698.7M938.3,709.5L947.3,701.1M941.7,711.9L950.7,703.5M945.1,714.3L954,705.9M948.5,716.6L957.4,708.2M951.8,719L960.8,710.6" stroke-width="2.2" fill="none" />
<path d="M964,718 L984,727" stroke-width="3.5" fill="none" stroke-dasharray="1.5,1.5"/>
<ellipse cx="987" cy="728" rx="3.5" ry="4.5" stroke-width="1.8" fill="#fff"/>
<path d="M1046,656 L1112,612" stroke-width="1.6" fill="none" />
<path d="M1048,659 L1114,615" stroke-width="1.6" fill="none" />
<path d="M1046,656 Q1036,661 1040,666 L1044,664 M1040,666 L1050,660" stroke-width="2" fill="none" />
<path d="M1113.1,620.3L1109.9,611.7M1116.1,618.3L1112.9,609.7M1119.1,616.3L1115.9,607.7M1122.1,614.3L1118.9,605.7M1125.1,612.3L1121.9,603.7M1128.1,610.3L1124.9,601.7M1131.1,608.3L1127.9,599.7M1134.1,606.3L1130.9,597.7" stroke-width="2" fill="none" />
<path d="M1134,601 L1145,594 Q1150,592 1146,597 L1141,600" stroke-width="2" fill="none" />
<line x1="1175" y1="574" x2="1197" y2="561" stroke-width="4"/>
<line x1="1179.6" y1="571.3" x2="1195.7" y2="561.8" stroke-width="1.7999999999999998" stroke="#fff" stroke-linecap="butt" stroke-dasharray="0.9,1.8"/>
<ellipse cx="1175" cy="574" rx="3.4" ry="4.5" stroke-width="2.2" fill="#fff" transform="rotate(-30.6 1175 574)"/>
<ellipse cx="1172.8" cy="575.3" rx="2.5" ry="4.7" stroke-width="2.0" fill="#fff" transform="rotate(-30.6 1172.8 575.3)"/>
<polygon points="1236.8,544.8 1232,547.5 1227.2,544.8 1227.2,539.2 1232,536.5 1236.8,539.2" stroke-width="2.2" fill="#fff"/>
<circle cx="1232" cy="542" r="2.5" stroke-width="2.2" fill="none"/>
<path d="M1199.6,553.5 L1211.3,545.8 L1242.3,558.7 L1245,567.8 L1236,571 L1205,560 Z" stroke-width="2" fill="#fff" />
<path d="M1204,552 L1213,549 L1235,556" stroke-width="1.6" fill="none" />
<circle cx="1214" cy="551" r="2" stroke-width="1.4" fill="#000"/>
<circle cx="1237" cy="566" r="3" stroke-width="1.6" fill="#fff"/>
<path d="M1245,556 L1255.3,553.5 L1281.2,571.6 L1286.3,579.4 L1285,615.6 L1281,619.5 L1276,618.2 L1273.4,598.8 L1252,585 L1245,568 Z" stroke-width="2" fill="#fff" />
<path d="M1273.4,598.8 L1280,585 L1285,580 M1250,568 L1272,582" stroke-width="1.6" fill="none" />
<circle cx="1280" cy="608" r="1.8" stroke-width="1.4" fill="#000"/>
<circle cx="1280" cy="612" r="1.2" stroke-width="1" fill="#000"/>
<path d="M1253,577 L1268,588 L1265,582 Z" stroke-width="2.5" fill="none" />
<path d="M1141.4,706.2 L1266,625" stroke-width="1.8" fill="none" />
<path d="M1143,708 L1268,627" stroke-width="1.5" fill="none" />
<path d="M1141.4,706.2 Q1138,710 1143,710 M1266,625 Q1272,620 1268,617" stroke-width="2" fill="none" />
<path d="M1225.3,654.8L1221.5,645.4M1228.1,653L1224.3,643.6M1230.9,651.2L1227.1,641.8M1233.7,649.4L1229.9,640M1236.5,647.6L1232.7,638.2" stroke-width="2" fill="none" />
<path d="M1155.6,724.3 L1154.3,714 L1281.2,637.7 L1283,641.5 L1287,640" stroke-width="1.8" fill="none" />
<path d="M1157,722 L1156,716 L1282,640" stroke-width="1.4" fill="none" />
<path d="M1236,734 L1240,776 Q1243,786 1255,790 L1268,794 L1270,787 L1257,782 Q1248,778 1246,770 L1242,733 Z" stroke-width="2" fill="#fff" />
<ellipse cx="1265" cy="790" rx="4" ry="3" stroke-width="1.6" fill="none"/>
<path d="M1204,728 Q1214,722 1225,734 L1222,738 Q1213,730 1206,734 Z" stroke-width="2" fill="#fff" />
<ellipse cx="1240" cy="721" rx="8" ry="4.5" stroke-width="2.2" fill="#fff"/>
<line x1="1234" y1="721" x2="1246" y2="721" stroke-width="2"/>
<path d="M1076,752 L1086,747 L1090,760 L1080,762 Z" stroke-width="2" fill="#fff" />
<ellipse cx="1078" cy="756" rx="3" ry="5" stroke-width="1.8" fill="#fff"/>
<ellipse cx="1094" cy="760" rx="6" ry="7.5" stroke-width="2.2" fill="#fff"/>
<ellipse cx="1094" cy="760" rx="2.5" ry="3.5" stroke-width="1.6" fill="none"/>
<ellipse cx="1107" cy="767" rx="7" ry="7.5" stroke-width="3" fill="#fff"/>
<ellipse cx="1107" cy="767" rx="3" ry="3.5" stroke-width="1.6" fill="none"/>
<ellipse cx="1120" cy="774" rx="4" ry="6" stroke-width="2.5" fill="#fff"/>
<polygon points="1171,789 1171,790.3 1166.4,791.2 1166.2,792.3 1170.4,794.3 1170,795.6 1165.3,795.5 1164.9,796.5 1168.5,799.4 1167.9,800.6 1163.4,799.5 1162.7,800.4 1165.5,804 1164.6,805 1160.5,802.9 1159.7,803.7 1161.6,807.8 1160.5,808.6 1156.9,805.7 1155.9,806.2 1156.8,810.6 1155.6,811.2 1152.8,807.6 1151.7,807.9 1151.6,812.4 1150.2,812.7 1148.3,808.6 1147.1,808.6 1146,813 1144.6,813 1143.7,808.6 1142.6,808.4 1140.4,812.4 1139.1,812.1 1139.2,807.6 1138.2,807.2 1135.2,810.6 1133.9,810 1135.1,805.7 1134.1,805.1 1130.4,807.8 1129.3,806.9 1131.5,802.9 1130.7,802.1 1126.5,804 1125.6,802.9 1128.6,799.5 1128.1,798.5 1123.5,799.4 1122.9,798.2 1126.7,795.5 1126.3,794.4 1121.6,794.3 1121.4,793 1125.6,791.2 1125.5,790.1 1121,789 1121,787.7 1125.6,786.8 1125.8,785.7 1121.6,783.7 1122,782.4 1126.7,782.5 1127.1,781.5 1123.5,778.6 1124.1,777.4 1128.6,778.5 1129.3,777.6 1126.5,774 1127.4,773 1131.5,775.1 1132.3,774.3 1130.4,770.2 1131.5,769.4 1135.1,772.3 1136.1,771.8 1135.2,767.4 1136.4,766.8 1139.2,770.4 1140.3,770.1 1140.4,765.6 1141.8,765.3 1143.7,769.4 1144.9,769.4 1146,765 1147.4,765 1148.3,769.4 1149.4,769.6 1151.6,765.6 1152.9,765.9 1152.8,770.4 1153.8,770.8 1156.8,767.4 1158.1,768 1156.9,772.3 1157.9,772.9 1161.6,770.2 1162.7,771.1 1160.5,775.1 1161.3,775.9 1165.5,774 1166.4,775.1 1163.4,778.5 1163.9,779.5 1168.5,778.6 1169.1,779.8 1165.3,782.5 1165.7,783.6 1170.4,783.7 1170.6,785 1166.4,786.8 1166.5,787.9" stroke-width="2.6" fill="#fff"/>
<polygon points="1170,789 1170,790.2 1165.9,790.9 1165.8,791.9 1169.4,793.7 1169.1,794.8 1165,794.7 1164.7,795.6 1167.8,798.1 1167.3,799.2 1163.3,798.2 1162.7,799 1165.2,802.1 1164.4,803 1160.8,801.2 1160,801.8 1161.7,805.4 1160.7,806.1 1157.6,803.6 1156.7,804.1 1157.5,807.9 1156.4,808.4 1154,805.3 1153,805.5 1152.9,809.5 1151.7,809.7 1150,806.1 1149,806.2 1148,810 1146.8,810 1146,806.1 1145,806 1143.1,809.5 1141.9,809.2 1142,805.3 1141.1,804.9 1138.5,807.9 1137.4,807.4 1138.4,803.6 1137.6,803 1134.3,805.4 1133.3,804.7 1135.2,801.2 1134.5,800.5 1130.8,802.1 1130.1,801.2 1132.7,798.2 1132.2,797.3 1128.2,798.1 1127.7,797 1131,794.7 1130.7,793.8 1126.6,793.7 1126.3,792.5 1130.1,790.9 1130,790 1126,789 1126,787.8 1130.1,787.1 1130.2,786.1 1126.6,784.3 1126.9,783.2 1131,783.3 1131.3,782.4 1128.2,779.9 1128.7,778.8 1132.7,779.8 1133.3,779 1130.8,775.9 1131.6,775 1135.2,776.8 1136,776.2 1134.3,772.6 1135.3,771.9 1138.4,774.4 1139.3,773.9 1138.5,770.1 1139.6,769.6 1142,772.7 1143,772.5 1143.1,768.5 1144.3,768.3 1146,771.9 1147,771.8 1148,768 1149.2,768 1150,771.9 1151,772 1152.9,768.5 1154.1,768.8 1154,772.7 1154.9,773.1 1157.5,770.1 1158.6,770.6 1157.6,774.4 1158.4,775 1161.7,772.6 1162.7,773.3 1160.8,776.8 1161.5,777.5 1165.2,775.9 1165.9,776.8 1163.3,779.8 1163.8,780.7 1167.8,779.9 1168.3,781 1165,783.3 1165.3,784.2 1169.4,784.3 1169.7,785.5 1165.9,787.1 1166,788" stroke-width="1.6" fill="#fff"/>
<ellipse cx="1152" cy="790" rx="16" ry="17" stroke-width="2.2" fill="#fff"/>
<path d="M1140,782 L1162,800 M1145,778 L1158,804 M1138,792 L1165,788 M1150,776 L1152,806" stroke-width="1.4" fill="none" />
<polygon points="1186.5,811.8 1180,815.5 1173.5,811.8 1173.5,804.2 1180,800.5 1186.5,804.2" stroke-width="2.2" fill="#fff"/>
<circle cx="1180" cy="808" r="3.4" stroke-width="2.2" fill="none"/>
<line x1="1146" y1="873" x2="1163" y2="884" stroke-width="4.5"/>
<line x1="1151" y1="876.3" x2="1161.7" y2="883.2" stroke-width="2.3" stroke="#fff" stroke-linecap="butt" stroke-dasharray="0.9,1.8"/>
<ellipse cx="1146" cy="873" rx="3.8" ry="5" stroke-width="2.2" fill="#fff" transform="rotate(32.9 1146 873)"/>
<ellipse cx="1143.9" cy="871.6" rx="2.8" ry="5.2" stroke-width="2.0" fill="#fff" transform="rotate(32.9 1143.9 871.6)"/>
<line x1="1106" y1="889" x2="1124" y2="899" stroke-width="4.5"/>
<line x1="1111.2" y1="891.9" x2="1122.7" y2="898.3" stroke-width="2.3" stroke="#fff" stroke-linecap="butt" stroke-dasharray="0.9,1.8"/>
<ellipse cx="1106" cy="889" rx="3.8" ry="5" stroke-width="2.2" fill="#fff" transform="rotate(29.1 1106 889)"/>
<ellipse cx="1103.8" cy="887.8" rx="2.8" ry="5.2" stroke-width="2.0" fill="#fff" transform="rotate(29.1 1103.8 887.8)"/>
<path d="M1138,909 Q1140,895 1153.5,893.9 L1195,888.7 Q1203,892 1205,905 L1200,922 Q1190,933 1170,932 L1150,928 Q1138,922 1138,909 Z" stroke-width="2.2" fill="#fff" />
<path d="M1145,905 Q1160,900 1172,903 Q1180,906 1178,915 M1180,897 Q1195,893 1200,902" stroke-width="1.8" fill="none" />
<ellipse cx="1146" cy="913" rx="6" ry="6" stroke-width="2" fill="#000"/>
<path d="M1193,890 L1203,881 L1212,868 L1212,852 Q1214,844 1220,846 L1226,849 Q1230,853 1228,857 L1221,872 L1216,885 L1205,895 Z" stroke-width="2" fill="#fff" />
<path d="M1207,873 L1218,877 M1203,882 L1212,888" stroke-width="2" fill="none" />
<path d="M1228,852 L1240,846 L1266,836 L1290,829 L1330,825 L1376,826" stroke-width="2.2" fill="none" />
<path d="M1233.4,856.9L1232.4,847.6M1237.2,855.4L1236.3,846.1M1241.1,853.9L1240.1,844.6M1244.9,852.4L1243.9,843.1M1248.7,850.9L1247.8,841.6M1252.6,849.4L1251.6,840.1" stroke-width="2" fill="none" />
<ellipse cx="1268" cy="837" rx="4" ry="10" stroke-width="2.2" fill="#fff" transform="rotate(10 1268 837)"/>
<ellipse cx="1268" cy="837" rx="1.5" ry="5" stroke-width="1.4" fill="none" transform="rotate(10 1268 837)"/>
<path d="M1256,842 L1268,838" stroke-width="4" fill="none" />
<ellipse cx="1380" cy="826" rx="8" ry="4.5" stroke-width="2.5" fill="#000" transform="rotate(-10 1380 826)"/>
<polygon points="1312.1,862.5 1306,866 1299.9,862.5 1299.9,855.5 1306,852 1312.1,855.5" stroke-width="2.2" fill="#fff"/>
<circle cx="1306" cy="859" r="3.1" stroke-width="2.2" fill="none"/>
<path d="M1357,878 Q1380,830 1420,800 Q1460,772 1511,768" stroke-width="5" fill="none" />
<path d="M1357,878 Q1380,830 1420,800 Q1460,772 1511,768" stroke-width="2" fill="none" stroke="#fff"/>
<path d="M1308.8,930 L1321.7,909.4 L1334.7,888.7 L1350.2,883.5 L1381.3,888.7 L1389,901.6 L1383.8,906.8 L1371,914.6 L1365.7,930 L1355.4,940.5 L1324.3,945.6 L1308.8,935.3 Z" stroke-width="2.2" fill="#fff" />
<path d="M1334.7,888.7 L1345,905 L1360,908 L1383.8,906.8 M1345,905 L1335,935 M1360,908 L1355,940" stroke-width="1.8" fill="none" />
<ellipse cx="1372" cy="896" rx="6" ry="4" stroke-width="1.8" fill="none" transform="rotate(-10 1372 896)"/>
<path d="M1350,885 L1356,872 L1366,866" stroke-width="5" fill="none" />
<path d="M1355,880 L1362,870 L1370,865" stroke-width="2" fill="none" stroke="#fff"/>
<path d="M1312,918 L1305,925 L1310,930 M1307,920 L1302,916" stroke-width="2" fill="none" />
<path d="M1511.5,768.3 L1522,760 L1578,782 Q1582,790 1576,795 L1520,780 Z" stroke-width="2.2" fill="#fff" />
<ellipse cx="1577" cy="789" rx="4" ry="7" stroke-width="2.2" fill="#fff" transform="rotate(20 1577 789)"/>
<path d="M1525,761 L1519,745 M1531,758 L1525,743" stroke-width="2" fill="none" />
<circle cx="1520" cy="742" r="4.5" stroke-width="2" fill="#fff"/>
<path d="M1506,764 L1516,780 L1524,776 L1514,762 Z" stroke-width="2" fill="#fff" />
<line x1="1412" y1="930" x2="1391" y2="915" stroke-width="3.5"/>
<line x1="1408.1" y1="927.2" x2="1392.2" y2="915.9" stroke-width="1.2999999999999998" stroke="#fff" stroke-linecap="butt" stroke-dasharray="0.9,1.8"/>
<ellipse cx="1412" cy="930" rx="3" ry="4" stroke-width="2.2" fill="#fff" transform="rotate(-144.5 1412 930)"/>
<ellipse cx="1414" cy="931.5" rx="2.2" ry="4.2" stroke-width="2.0" fill="#fff" transform="rotate(-144.5 1414 931.5)"/>
<line x1="1402" y1="966" x2="1381" y2="953" stroke-width="3.5"/>
<line x1="1397.9" y1="963.5" x2="1382.3" y2="953.8" stroke-width="1.2999999999999998" stroke="#fff" stroke-linecap="butt" stroke-dasharray="0.9,1.8"/>
<ellipse cx="1402" cy="966" rx="3" ry="4" stroke-width="2.2" fill="#fff" transform="rotate(-148.2 1402 966)"/>
<ellipse cx="1404.1" cy="967.3" rx="2.2" ry="4.2" stroke-width="2.0" fill="#fff" transform="rotate(-148.2 1404.1 967.3)"/>
<path d="M1482.7,914.7 Q1484,902 1491.7,896.6 L1517.6,901.7 L1524,909.5 L1533,916 L1543.5,932.8 L1551.3,966.4 L1551.3,992.3 L1542.2,1031 L1529.3,1054.4 L1525,1060 L1522.8,1080.3 L1517.6,1085.4 L1509.9,1085.4 L1497,1062.2 L1498,1055 L1500.8,1035 L1495.6,1015.6 L1494.3,989.7 L1486.6,974.2 L1485.3,926.3 Z" stroke-width="2.4" fill="#fff" />
<path d="M1492,925 L1520,925 L1531,918 M1492,925 Q1510,950 1511,975 L1505,1018 L1508,1030 L1522,1023 M1520,925 Q1535,960 1530,1010 L1520,1038 M1535,920 Q1550,960 1544,1010 L1525,1060" stroke-width="1.8" fill="none" />
<path d="M1494,990 L1508,985 M1498,1010 L1510,1003" stroke-width="1.6" fill="none" />
<ellipse cx="1488" cy="911" rx="2.5" ry="3" stroke-width="1.6" fill="#000"/>
<ellipse cx="1518" cy="1082" rx="2" ry="2.5" stroke-width="1.6" fill="#000"/>
<ellipse cx="1518" cy="960" rx="2" ry="4" stroke-width="1.6" fill="none"/>
<path d="M1556,928 L1566,924 L1575,932 L1576,940 L1566,943 L1557,937 Z" stroke-width="2.2" fill="#fff" />
<path d="M1561,929 L1570,935 M1560,935 L1569,939" stroke-width="1.8" fill="none" />
<path d="M1170,977 L1200,956 L1210,962 L1264,921 Q1268,916 1276,918 L1278,925 L1279,940 L1266,958 L1262,970 L1296,985 L1356,968 L1366,973 L1365,991 L1346,998 L1349,1010 L1330,1012 L1300,1032 L1290,1060 L1240,1070 L1200,1060 L1185,1010 Z" stroke-width="2.2" fill="#fff" />
<path d="M1174,980 L1203,960 M1210,962 L1262,925 M1266,958 L1276,930 M1296,985 L1290,1000 M1300,988 L1360,972" stroke-width="1.8" fill="none" />
<ellipse cx="1265" cy="926" rx="4" ry="2.5" stroke-width="1.8" fill="none" transform="rotate(-25 1265 926)"/>
<ellipse cx="1355" cy="976" rx="4.5" ry="2.5" stroke-width="1.8" fill="none" transform="rotate(-15 1355 976)"/>
<path d="M1202,966 L1240,960 L1292,986 L1297,1000 L1248,1025 L1203,1003 Z" stroke-width="2" fill="#fff" />
<path d="M1207,985 L1243,965 M1215,1000 L1257,976 M1248,1025 L1248,1060 M1250,1024 L1296,1002" stroke-width="1.8" fill="none" />
<path d="M1238,1006 L1260,994 L1262,998 L1240,1010 Z M1246,1010 L1268,998 L1270,1002 L1248,1014 Z" stroke-width="1.8" fill="#fff" />
<path d="M1252,1035 L1252,1056 L1256,1054 L1256,1033 Z" stroke-width="1.8" fill="none" />
<path d="M1264,1029 L1264,1050 L1268,1048 L1268,1027 Z" stroke-width="1.8" fill="none" />
<path d="M1276,1023 L1276,1044 L1280,1042 L1280,1021 Z" stroke-width="1.8" fill="none" />
<ellipse cx="1276" cy="1000" rx="4" ry="3" stroke-width="1.8" fill="#fff"/>
<path d="M1292,1035 L1308,1030 L1312,1040 L1296,1046 Z" stroke-width="2" fill="#fff" />
<ellipse cx="1293" cy="1040" rx="2.5" ry="5" stroke-width="1.8" fill="#fff"/>
<ellipse cx="1325" cy="1044" rx="9" ry="11" stroke-width="2.2" fill="#fff"/>
<ellipse cx="1327" cy="1044" rx="4" ry="5" stroke-width="2" fill="#fff"/>
<circle cx="1338" cy="1040" r="3" stroke-width="1.8" fill="#fff"/>
<path d="M1096,1161.5 L1108,1157 L1156,1155 L1205.6,1147 L1268,1122 L1336,1120 L1334,1166 L1220,1228 L1214,1234 L1189,1232 L1098,1190 Z" stroke-width="2.4" fill="#fff" />
<path d="M1098,1163 L1207,1210 L1209,1234 M1205.6,1147 L1212,1210 M1100,1172 L1105,1183 M1212,1212 L1334,1148" stroke-width="1.8" fill="none" />
<ellipse cx="1248" cy="1199" rx="8" ry="2.5" stroke-width="1.8" fill="none" transform="rotate(-25 1248 1199)"/>
<ellipse cx="1267" cy="1189.5" rx="8" ry="2.5" stroke-width="1.8" fill="none" transform="rotate(-25 1267 1189.5)"/>
<ellipse cx="1286" cy="1180" rx="8" ry="2.5" stroke-width="1.8" fill="none" transform="rotate(-25 1286 1180)"/>
<ellipse cx="1305" cy="1170.5" rx="8" ry="2.5" stroke-width="1.8" fill="none" transform="rotate(-25 1305 1170.5)"/>
<ellipse cx="1140" cy="1200" rx="3.5" ry="4" stroke-width="1.8" fill="none"/>
<ellipse cx="1195" cy="1228" rx="4" ry="2" stroke-width="1.6" fill="none" transform="rotate(-15 1195 1228)"/>
<path d="M1246,1137 L1250,1134 L1272,1150 L1270,1160 L1262,1159 L1246,1146 Z" stroke-width="2" fill="#fff" />
<ellipse cx="1267" cy="1155" rx="4" ry="6" stroke-width="2.2" fill="#222" transform="rotate(-30 1267 1155)"/>
<path d="M1232,1136 Q1236,1146 1244,1142" stroke-width="1.8" fill="none" />
<path d="M1214,1224 L1222,1221 L1225,1230 L1217,1234 Z" stroke-width="2" fill="#000" />
<path d="M1250,1138 L1262,1132 L1268,1148 L1257,1153 Z" stroke-width="1.8" fill="#fff" />
<ellipse cx="1263" cy="1150" rx="3" ry="4" stroke-width="1.8" fill="#000"/>
<ellipse cx="1318" cy="1133" rx="2.5" ry="3.5" stroke-width="1.6" fill="none"/>
<ellipse cx="1222" cy="1162" rx="1.5" ry="3" stroke-width="1.4" fill="none" transform="rotate(20 1222 1162)"/>
<path d="M1195,1150 Q1208,1158 1218,1150" stroke-width="1.8" fill="none" />
<path d="M1268,1065 L1318,1066 L1336,1072 L1334,1105 L1318,1120 L1290,1132 L1268,1122 Z" stroke-width="2.2" fill="#fff" />
<ellipse cx="1288" cy="1096" rx="31" ry="32" stroke-width="2.2" fill="#fff" transform="rotate(15 1288 1096)"/>
<ellipse cx="1290" cy="1096" rx="26" ry="29" stroke-width="2.2" fill="#fff" transform="rotate(15 1290 1096)"/>
<ellipse cx="1289" cy="1097" rx="19" ry="26" stroke-width="2.2" fill="#fff" transform="rotate(15 1289 1097)"/>
<ellipse cx="1290" cy="1097" rx="16" ry="23" stroke-width="1.6" fill="none" transform="rotate(15 1290 1097)"/>
<path d="M1318,1068 L1338,1075 L1338,1100 L1320,1110" stroke-width="2" fill="none" />
<ellipse cx="1328" cy="1077" rx="2.5" ry="3" stroke-width="1.6" fill="none"/>
<path d="M1321,1085 L1325,1097 L1321,1100" stroke-width="1.8" fill="none" />
<line x1="1284" y1="1089" x2="1343" y2="1123" stroke-width="1.6"/>
<path d="M1150,990 L1200,1002 L1240,1070 L1270,1065 L1270,1122 L1205,1147 L1160,1150 L1150,1100 Z" stroke-width="2.2" fill="#fff" />
<path d="M1186,1018 Q1192,1025 1192,1045 L1192,1068" stroke-width="1.8" fill="none" />
<path d="M1193,1021 Q1199,1028 1199,1048 L1199,1068" stroke-width="1.8" fill="none" />
<path d="M1200,1024 Q1206,1031 1206,1051 L1206,1068" stroke-width="1.8" fill="none" />
<path d="M1207,1027 Q1213,1034 1213,1054 L1213,1068" stroke-width="1.8" fill="none" />
<path d="M1214,1030 Q1220,1037 1220,1057 L1220,1068" stroke-width="1.8" fill="none" />
<path d="M1180,1066 L1268,1075 M1178,1072 L1265,1080 M1200,1082 L1270,1092 M1205,1100 L1268,1108" stroke-width="1.8" fill="none" />
<path d="M1160,1100 L1175,1090 L1190,1100 L1192,1140 M1172,1092 L1174,1145 M1180,1094 L1182,1146" stroke-width="1.8" fill="none" />
<ellipse cx="1204" cy="1085" rx="7" ry="5" stroke-width="1.8" fill="#fff" transform="rotate(-20 1204 1085)"/>
<ellipse cx="1210" cy="1090" rx="5" ry="4" stroke-width="1.8" fill="#000" transform="rotate(-20 1210 1090)"/>
<path d="M1195,1090 L1230,1096 L1240,1106 L1236,1118 L1200,1112 Z" stroke-width="1.8" fill="none" />
<path d="M1205,1092 L1208,1128 M1212,1094 L1214,1130" stroke-width="3" fill="none" />
<path d="M1198,1135 L1222,1128 L1226,1140 L1204,1146 Z" stroke-width="2" fill="#fff" />
<ellipse cx="1207" cy="1141" rx="4" ry="5" stroke-width="2" fill="#222"/>
<path d="M1207,1128 L1220,1122 L1222,1132 L1210,1138 Z" stroke-width="1.8" fill="none" />
<path d="M1151.5,977.5 L1158.3,975.5 L1200,995 L1200,1001.7 L1189.2,1004.4 L1150.2,989.6 Z" stroke-width="2.2" fill="#fff" />
<circle cx="1153.6" cy="990.3" r="2.4" stroke-width="1.6" fill="#fff"/>
<circle cx="1169" cy="999" r="2.4" stroke-width="1.6" fill="#fff"/>
<circle cx="1185.2" cy="1000.4" r="2.4" stroke-width="1.6" fill="#fff"/>
<path d="M1090,975 Q1082,976 1078,985 L1067,1043 L1062.8,1097 Q1063,1112 1073,1120 L1140,1155 Q1150,1160 1160,1150 L1180,1140 Q1184,1130 1183,1110 L1182,1065 L1160,1000 Q1155,990 1148,988 Z" stroke-width="2.4" fill="#fff" />
<path d="M1097,990 L1143,1001 Q1150,1004 1153,1010 L1172,1068 L1173,1132 Q1172,1140 1165,1143 L1150,1148 L1088,1117 Q1079,1110 1077,1098 L1080,1047 L1088,999 Q1090,991 1097,990 Z" stroke-width="1.8" fill="none" />
<ellipse cx="1123.9" cy="1066.3" rx="31" ry="40.4" stroke-width="2.4" fill="#fff" transform="rotate(-8 1123.9 1066.3)"/>
<ellipse cx="1123.9" cy="1066.3" rx="27.5" ry="36.5" stroke-width="1.6" fill="none" transform="rotate(-8 1123.9 1066.3)"/>
<circle cx="1101" cy="1006" r="3.5" stroke-width="1.8" fill="#fff"/>
<circle cx="1101" cy="1006" r="1.5" stroke-width="1.2" fill="#000"/>
<circle cx="1165.3" cy="1039.4" r="3.5" stroke-width="1.8" fill="#fff"/>
<circle cx="1165.3" cy="1039.4" r="1.5" stroke-width="1.2" fill="#000"/>
<circle cx="1152.8" cy="1134.6" r="3.5" stroke-width="1.8" fill="#fff"/>
<circle cx="1152.8" cy="1134.6" r="1.5" stroke-width="1.2" fill="#000"/>
<circle cx="1084.5" cy="1100.5" r="3.5" stroke-width="1.8" fill="#fff"/>
<circle cx="1084.5" cy="1100.5" r="1.5" stroke-width="1.2" fill="#000"/>
<path d="M1094,1106 L1136,1124 Q1142,1128 1140,1140 Q1138,1146 1130,1143 L1097,1128 Q1090,1124 1091,1114 Q1091,1106 1094,1106 Z" stroke-width="2" fill="none" />
<line x1="1097" y1="1116" x2="1132" y2="1131" stroke-width="1.6"/>
<ellipse cx="1167" cy="1071" rx="3.5" ry="11" stroke-width="1.8" fill="none"/>
<polygon points="1333.2,1151.1 1333.3,1149.4 1333.5,1147.7 1333.8,1145.9 1334.1,1144.1 1334.6,1142.3 1335.2,1140.6 1335.9,1138.8 1336.7,1137 1337.5,1135.3 1338.5,1133.6 1339.5,1131.9 1340.6,1130.3 1341.8,1128.8 1343,1127.3 1344.3,1125.8 1345.6,1124.5 1347,1123.2 1348.5,1122.1 1349.9,1121 1351.4,1120 1352.9,1119.2 1354.4,1118.4 1356,1117.8 1357.5,1117.3 1359,1116.9 1360.5,1116.6 1361.9,1116.5 1363.3,1116.5 1364.7,1116.5 1366,1116.8 1367.3,1117.1 1368.5,1117.6 1369.7,1118.2 1370.8,1118.9 1380.8,1126.9 1381.8,1127.7 1382.7,1128.6 1383.5,1129.7 1384.3,1130.8 1385,1132 1385.5,1133.3 1386,1134.7 1386.3,1136.2 1386.6,1137.7 1386.7,1139.3 1386.8,1140.9 1386.7,1142.6 1386.5,1144.3 1386.2,1146.1 1385.9,1147.9 1385.4,1149.7 1384.8,1151.4 1384.1,1153.2 1383.3,1155 1382.5,1156.7 1381.5,1158.4 1380.5,1160.1 1379.4,1161.7 1378.2,1163.2 1377,1164.7 1375.7,1166.2 1374.4,1167.5 1373,1168.8 1371.5,1169.9 1370.1,1171 1368.6,1172 1367.1,1172.8 1365.6,1173.6 1364,1174.2 1362.5,1174.7 1361,1175.1 1359.5,1175.4 1358.1,1175.5 1356.7,1175.5 1355.3,1175.5 1354,1175.2 1352.7,1174.9 1351.5,1174.4 1350.3,1173.8 1349.2,1173.1 1339.2,1165.1 1338.2,1164.3 1337.3,1163.4 1336.5,1162.3 1335.7,1161.2 1335,1160 1334.5,1158.7 1334,1157.3 1333.7,1155.8 1333.4,1154.3 1333.3,1152.7" stroke-width="2.2" fill="#e4e4e4"/>
<ellipse cx="1365" cy="1150" rx="18.5" ry="28" stroke-width="2.2" fill="#dadada" transform="rotate(33 1365 1150)"/>
<ellipse cx="1366" cy="1151" rx="11.5" ry="18" stroke-width="2.2" fill="#fff" transform="rotate(33 1366 1151)"/>
<ellipse cx="1367" cy="1152" rx="8.5" ry="14" stroke-width="1.6" fill="none" transform="rotate(33 1367 1152)"/>
<polygon points="1410.5,1086.8 1404,1090.5 1397.5,1086.8 1397.5,1079.2 1404,1075.5 1410.5,1079.2" stroke-width="2.2" fill="#fff"/>
<circle cx="1404" cy="1083" r="3.4" stroke-width="2.2" fill="none"/>
<circle cx="1404" cy="1083" r="5.5" stroke-width="2" fill="#333"/>
<line x1="1438" y1="1068" x2="1420" y2="1077" stroke-width="5"/>
<line x1="1432.1" y1="1071" x2="1421.3" y2="1076.3" stroke-width="2.8" stroke="#fff" stroke-linecap="butt" stroke-dasharray="0.9,1.8"/>
<ellipse cx="1438" cy="1068" rx="4.1" ry="5.5" stroke-width="2.2" fill="#fff" transform="rotate(153.4 1438 1068)"/>
<ellipse cx="1440.2" cy="1066.9" rx="3" ry="5.8" stroke-width="2.0" fill="#fff" transform="rotate(153.4 1440.2 1066.9)"/>
<path d="M971.7,1153.5 L989.9,1152.2 L1067.5,1195 L1075.3,1236.3 L1054.6,1264.8 L1039,1288 L1020.9,1289.4 L990,1270 L975,1200 Z" stroke-width="2.2" fill="#e4e4e4" />
<ellipse cx="1013" cy="1228.6" rx="33" ry="38.8" stroke-width="2.2" fill="#fff" transform="rotate(-10 1013 1228.6)"/>
<path d="M1057,1220 Q1062,1214 1066,1222 L1066,1234 Q1062,1240 1058,1234 Z" stroke-width="1.8" fill="#fff" />
<circle cx="990" cy="1162" r="2.5" stroke-width="1.6" fill="#fff"/>
<circle cx="1063" cy="1201" r="2.5" stroke-width="1.6" fill="#fff"/>
<circle cx="1040" cy="1283" r="2.5" stroke-width="1.6" fill="#fff"/>
<path d="M972,1154 Q985,1160 980,1175 L975,1182" stroke-width="2" fill="none" />
<path d="M999,1140 L1015,1138 L1017,1147 L1001,1149 Z" stroke-width="1.8" fill="#fff" />
<ellipse cx="1000" cy="1144" rx="3" ry="4.5" stroke-width="1.8" fill="#000"/>
<path d="M1060,1169 L1076,1167 L1078,1176 L1062,1178 Z" stroke-width="1.8" fill="#fff" />
<ellipse cx="1061" cy="1173" rx="3" ry="4.5" stroke-width="1.8" fill="#000"/>
<path d="M881.2,1158.7 L907,1153.5 L958.8,1174.2 L966.6,1189.8 L1010.6,1215.6 L1013.1,1236.3 L1023.5,1275.2 L1005,1290 L960,1335 L930,1342 L900,1300 Z" stroke-width="2.2" fill="#fff" />
<path d="M907,1153.5 L912,1165 L955,1183 L962,1195 L1005,1220 M912,1165 L915,1195 M930,1170 L932,1200" stroke-width="2" fill="none" />
<path d="M888.0,1159 L911,1152 L964.0,1174 L968.0,1190 L1003.0,1210 L1007.0,1228.0" stroke-width="2.8" fill="none" />
<path d="M889.0,1164 L911,1157 L962.5,1179 L966.5,1195 L1001.0,1215 L1005.0,1231.0" stroke-width="2.2" fill="none" />
<path d="M890.0,1169 L911,1162 L961.0,1184 L965.0,1200 L999.0,1220 L1003.0,1234.0" stroke-width="2.2" fill="none" />
<path d="M874,1190 L906,1200 L919,1217 L941,1229 L948,1240" stroke-width="2.6" fill="none" />
<path d="M990,1230 L1000,1290 M996,1228 L1006,1285 M1002,1226 L1012,1282" stroke-width="1.8" fill="none" />
<path d="M948,1267 L1005,1283 L1012,1300 L1000,1320 L965,1335 L950,1330 Z" stroke-width="2.2" fill="#fff" />
<ellipse cx="972" cy="1294" rx="9" ry="7" stroke-width="2" fill="#fff" transform="rotate(-20 972 1294)"/>
<ellipse cx="973" cy="1294" rx="5" ry="4" stroke-width="1.6" fill="none" transform="rotate(-20 973 1294)"/>
<path d="M995,1275 L1013,1270 L1022,1282 L1010,1290 Z" stroke-width="1.8" fill="#fff" />
<path d="M966,1322 L980,1317 L983,1332 L970,1336 Z" stroke-width="2" fill="#fff" />
<path d="M1020,1286 L1035,1290 L1035,1298" stroke-width="2" fill="none" />
<path d="M845,1198.8 L855.3,1195 L948.4,1240.2 L952.3,1249.3 L940.7,1257 L938,1329.5 L927.7,1334.7 L912.2,1342.4 L904.5,1337.3 L813.9,1293.3 L811.3,1283 L821.6,1251.9 L834.6,1215.6 Z" stroke-width="2.4" fill="#fff" />
<path d="M855.3,1210.5 L932.9,1249.3 L935.5,1324.3 L912,1333 L824.2,1290.7 L826,1255 L840,1222 Z" stroke-width="2" fill="none" />
<path d="M826,1255 L845,1262 L920,1300 L935.5,1324 M845,1262 L852,1232 L858,1215" stroke-width="1.8" fill="none" />
<path d="M838,1280 L900,1310 M845,1290 L905,1318" stroke-width="1.6" fill="none" />
<circle cx="849" cy="1205" r="2.5" stroke-width="1.6" fill="#fff"/>
<circle cx="942" cy="1248" r="2.5" stroke-width="1.6" fill="#fff"/>
<circle cx="918" cy="1336" r="2.5" stroke-width="1.6" fill="#fff"/>
<circle cx="815" cy="1288" r="2.5" stroke-width="1.6" fill="#fff"/>
<circle cx="820" cy="1256" r="2.5" stroke-width="1.6" fill="#fff"/>
<ellipse cx="888" cy="1237" rx="8" ry="7" stroke-width="2.2" fill="#fff"/>
<ellipse cx="888" cy="1237" rx="4" ry="3.5" stroke-width="1.8" fill="none"/>
<ellipse cx="921" cy="1252" rx="8" ry="7" stroke-width="2.2" fill="#fff"/>
<ellipse cx="921" cy="1252" rx="4" ry="3.5" stroke-width="1.8" fill="#000"/>
<ellipse cx="877" cy="1255" rx="5" ry="4" stroke-width="2" fill="#000"/>
<ellipse cx="912" cy="1269" rx="5" ry="4" stroke-width="2" fill="#000"/>
<path d="M877,1255 L895,1250 L898,1258 L880,1262 M867,1275 L877,1282 L900,1275 L915,1285 M875,1295 L920,1280 L928,1290 L882,1302 Z" stroke-width="1.8" fill="none" />
<path d="M950,1243 L965,1240 L966,1260 L950,1262 Z" stroke-width="2" fill="#fff" />
<line x1="808.7" y1="1153.5" x2="826.8" y2="1185.9" stroke-width="5"/>
<line x1="810.5" y1="1156.6" x2="826.1" y2="1184.6" stroke-width="2.8" stroke="#fff" stroke-linecap="butt" stroke-dasharray="0.9,1.8"/>
<ellipse cx="808.7" cy="1153.5" rx="2.2" ry="3" stroke-width="2.2" fill="#fff" transform="rotate(60.8 808.7 1153.5)"/>
<ellipse cx="807.5" cy="1151.3" rx="1.7" ry="3.2" stroke-width="2.0" fill="#fff" transform="rotate(60.8 807.5 1151.3)"/>
<line x1="846.2" y1="1130.2" x2="863" y2="1163.9" stroke-width="5"/>
<line x1="847.8" y1="1133.4" x2="862.3" y2="1162.6" stroke-width="2.8" stroke="#fff" stroke-linecap="butt" stroke-dasharray="0.9,1.8"/>
<ellipse cx="846.2" cy="1130.2" rx="2.2" ry="3" stroke-width="2.2" fill="#fff" transform="rotate(63.5 846.2 1130.2)"/>
<ellipse cx="845.1" cy="1128" rx="1.7" ry="3.2" stroke-width="2.0" fill="#fff" transform="rotate(63.5 845.1 1128)"/>
<path d="M752,1259 L768,1256 L770,1265 L754,1268 Z" stroke-width="1.8" fill="#fff" />
<ellipse cx="753" cy="1263" rx="3" ry="4.5" stroke-width="1.8" fill="#000"/>
<path d="M787,1274 L803,1271 L805,1280 L789,1283 Z" stroke-width="1.8" fill="#fff" />
<ellipse cx="788" cy="1278" rx="3" ry="4.5" stroke-width="1.8" fill="#000"/>
<circle cx="743" cy="1266" r="2" stroke-width="1.6" fill="#000"/>
<line x1="1078" y1="1233" x2="1100" y2="1222" stroke-width="5"/>
<line x1="1083.9" y1="1230" x2="1098.7" y2="1222.7" stroke-width="2.8" stroke="#fff" stroke-linecap="butt" stroke-dasharray="0.9,1.8"/>
<ellipse cx="1078" cy="1233" rx="4.1" ry="5.5" stroke-width="2.2" fill="#fff" transform="rotate(-26.6 1078 1233)"/>
<ellipse cx="1075.8" cy="1234.1" rx="3" ry="5.8" stroke-width="2.0" fill="#fff" transform="rotate(-26.6 1075.8 1234.1)"/>
<polygon points="1118.1,1218.5 1112,1222 1105.9,1218.5 1105.9,1211.5 1112,1208 1118.1,1211.5" stroke-width="2.2" fill="#fff"/>
<circle cx="1112" cy="1215" r="3.1" stroke-width="2.2" fill="none"/>
<circle cx="1112" cy="1215" r="4.5" stroke-width="1.6" fill="#333"/>
<path d="M1050.7,1316.6 L1062.3,1302.3 L1098.5,1299.7 L1105,1306.2 L1096,1319.2 L1062.3,1328.2 Z" stroke-width="2.2" fill="#e4e4e4" />
<path d="M1072,1310 Q1085,1300 1090,1310 L1085,1320 L1075,1322 Z" stroke-width="1.8" fill="#fff" />
<circle cx="1057" cy="1318" r="2" stroke-width="1.4" fill="none"/>
<circle cx="1099" cy="1306" r="2" stroke-width="1.4" fill="none"/>
<polygon points="981.2,1346.8 1025.2,1444.8 1028.8,1443.2 984.8,1345.2" stroke-width="1.6" fill="#fff"/>
<line x1="1017.3" y1="1422.4" x2="1027" y2="1444" stroke-width="5"/>
<line x1="1017.3" y1="1422.4" x2="1026.4" y2="1442.6" stroke-width="2.8" stroke="#fff" stroke-linecap="butt" stroke-dasharray="0.9,1.8"/>
<ellipse cx="983.8" cy="1347.8" rx="0" ry="0.1" stroke-width="2" fill="#fff" transform="rotate(65.8 983.8 1347.8)"/>
<polygon points="982.3,1344.2 982.2,1344.3 982.1,1344.2 982.1,1344.1 982.2,1344.1 982.3,1344.1" stroke-width="2" fill="#fff"/>
<circle cx="982.2" cy="1344.2" r="0" stroke-width="1.4" fill="none"/>
<line x1="983" y1="1346" x2="988.3" y2="1357.8" stroke-width="5.5"/>
<polygon points="1027.2,1351.8 1069.2,1448.8 1072.8,1447.2 1030.8,1350.2" stroke-width="1.6" fill="#fff"/>
<line x1="1061.8" y1="1426.7" x2="1071" y2="1448" stroke-width="5"/>
<line x1="1061.8" y1="1426.7" x2="1070.4" y2="1446.6" stroke-width="2.8" stroke="#fff" stroke-linecap="butt" stroke-dasharray="0.9,1.8"/>
<ellipse cx="1029.8" cy="1352.8" rx="0" ry="0.1" stroke-width="2" fill="#fff" transform="rotate(66.6 1029.8 1352.8)"/>
<polygon points="1028.3,1349.2 1028.2,1349.3 1028.1,1349.2 1028.1,1349.1 1028.2,1349.1 1028.3,1349.1" stroke-width="2" fill="#fff"/>
<circle cx="1028.2" cy="1349.2" r="0" stroke-width="1.4" fill="none"/>
<line x1="1029" y1="1351" x2="1034" y2="1362.6" stroke-width="5.5"/>
<path d="M1098,1325 L1110,1320 L1118,1328 L1125,1322 L1150,1330 L1168,1318 L1180,1326 L1170,1340 L1148,1345 L1145,1395 L1138,1418 L1098,1402 L1092,1340 Z" stroke-width="2.2" fill="#fff" />
<path d="M1103,1345 L1135,1352 L1132,1410 M1108,1350 L1108,1398 L1128,1405 M1115,1353 L1117,1400" stroke-width="1.8" fill="none" />
<ellipse cx="1128" cy="1337" rx="9" ry="11" stroke-width="2.2" fill="#fff"/>
<ellipse cx="1129" cy="1338" rx="6" ry="8" stroke-width="1.8" fill="none"/>
<path d="M1125,1312 L1150,1306 L1170,1312 L1180,1316 L1178,1322" stroke-width="2" fill="none" />
<path d="M1165,1318 L1178,1312 L1182,1320" stroke-width="2" fill="none" />
<path d="M1157,1381 L1168,1363 L1202,1352.8 L1210,1362 L1208,1378 L1172,1400 L1162,1400 Z" stroke-width="2.2" fill="#e4e4e4" />
<ellipse cx="1184" cy="1375" rx="9" ry="8" stroke-width="2" fill="#fff" transform="rotate(-20 1184 1375)"/>
<circle cx="1162" cy="1383" r="2" stroke-width="1.4" fill="none"/>
<circle cx="1204" cy="1368" r="2" stroke-width="1.4" fill="none"/>
<polygon points="539.5,1270 552.4,1266 568,1275 640.4,1306 650.8,1311.4 648.2,1319 638,1324 638,1384 617,1406 607,1407 583.5,1386 586,1342 575,1320 545,1300 537,1285" stroke-width="2.2" fill="#ececec"/>
<polygon points="552.4,1283 627.5,1314 627.5,1378.7 614.6,1396.8 588.7,1381.3 590,1340 578,1318 552,1300" stroke-width="2" fill="#fff"/>
<circle cx="544" cy="1273" r="2.5" stroke-width="1.6" fill="#fff"/>
<circle cx="643" cy="1313" r="2.5" stroke-width="1.6" fill="#fff"/>
<circle cx="611" cy="1402" r="2.5" stroke-width="1.6" fill="#fff"/>
<circle cx="588" cy="1380" r="2.5" stroke-width="1.6" fill="#fff"/>
<path d="M485.6,1282.8 L493.5,1278.2 L503.8,1282.8 L588,1320.4 L596,1325 L596,1330.6 L588,1339.7 L582.4,1351 L581.2,1393.3 L561.9,1421.7 L555,1424 L548.2,1421.7 L539,1408 L477.6,1379.6 L461.6,1380.7 L457,1372.8 L459.4,1334 L479.9,1303.3 L485.6,1301 Z" stroke-width="2.4" fill="#fff" />
<path d="M485.6,1301 L501,1296 L583,1331 L578,1392 L560,1415" stroke-width="1.8" fill="none" />
<path d="M459.4,1334 L479.9,1302 L503.8,1293 L571,1321.5 L575.5,1326 L572,1388.7 L564,1395.5 L530,1401.2 L477.6,1379.6 L458.2,1362.5 Z" stroke-width="2.4" fill="#fff" />
<path d="M478.7,1312.4 L524.3,1332.9 L563,1322.6 M481,1306 L506,1297 L565,1322 M460.5,1335.2 L526.6,1366 L534.5,1397.8 M531,1343 L571,1334 M526.6,1366 L531,1343 M534.5,1397.8 L566,1392" stroke-width="2" fill="none" />
<path d="M466,1349 L472,1344 L528,1368 L533,1393 L528,1396 L474,1373 Z" stroke-width="1.8" fill="none" />
<circle cx="492" cy="1287" r="2.6" stroke-width="1.6" fill="#fff"/>
<circle cx="586" cy="1328" r="2.6" stroke-width="1.6" fill="#fff"/>
<circle cx="555" cy="1418" r="2.6" stroke-width="1.6" fill="#fff"/>
<circle cx="464" cy="1376" r="2.6" stroke-width="1.6" fill="#fff"/>
<path d="M539,1350 L553,1344 L560,1357 L546,1364 Z" stroke-width="2" fill="#fff" />
<ellipse cx="557" cy="1351" rx="4" ry="6" stroke-width="2" fill="#fff" transform="rotate(-25 557 1351)"/>
<text x="0" y="0" transform="translate(464,1364) rotate(20)" style="text-anchor:start;font-size:22px;font-weight:bold;fill:#fff;stroke:#000;stroke-width:2.4px;letter-spacing:2.5px;stroke-linejoin:round">OHV</text>
<polygon points="616.5,1261 691.4,1242.2 690.4,1238.2 615.5,1257" stroke-width="1.6" fill="#fff"/>
<line x1="657.2" y1="1248.7" x2="690.9" y2="1240.2" stroke-width="5.2"/>
<line x1="657.2" y1="1248.7" x2="689.4" y2="1240.6" stroke-width="3.0" stroke="#fff" stroke-linecap="butt" stroke-dasharray="0.9,1.8"/>
<ellipse cx="617.9" cy="1258.5" rx="3.6" ry="8.4" stroke-width="2" fill="#fff" transform="rotate(-14.1 617.9 1258.5)"/>
<polygon points="620.3,1263.1 614.1,1266.7 607.8,1263.1 607.8,1255.9 614.1,1252.3 620.3,1255.9" stroke-width="2" fill="#fff"/>
<circle cx="614.1" cy="1259.5" r="2.8" stroke-width="1.4" fill="none"/>
<polygon points="639.5,1294 697.9,1279.7 696.9,1275.7 638.5,1290" stroke-width="1.6" fill="#fff"/>
<line x1="671.1" y1="1284.1" x2="697.4" y2="1277.7" stroke-width="5.2"/>
<line x1="671.1" y1="1284.1" x2="695.9" y2="1278.1" stroke-width="3.0" stroke="#fff" stroke-linecap="butt" stroke-dasharray="0.9,1.8"/>
<ellipse cx="640.9" cy="1291.5" rx="3.6" ry="8.4" stroke-width="2" fill="#fff" transform="rotate(-13.8 640.9 1291.5)"/>
<polygon points="643.3,1296.1 637.1,1299.7 630.8,1296.1 630.8,1288.9 637.1,1285.3 643.3,1288.9" stroke-width="2" fill="#fff"/>
<circle cx="637.1" cy="1292.5" r="2.8" stroke-width="1.4" fill="none"/>
<polygon points="667.5,1299 736.7,1281 735.7,1277 666.5,1295" stroke-width="1.6" fill="#fff"/>
<line x1="705.1" y1="1287.1" x2="736.2" y2="1279" stroke-width="5.2"/>
<line x1="705.1" y1="1287.1" x2="734.7" y2="1279.4" stroke-width="3.0" stroke="#fff" stroke-linecap="butt" stroke-dasharray="0.9,1.8"/>
<ellipse cx="668.9" cy="1296.5" rx="3.6" ry="8.4" stroke-width="2" fill="#fff" transform="rotate(-14.6 668.9 1296.5)"/>
<polygon points="671.3,1301.1 665.1,1304.7 658.8,1301.1 658.8,1293.9 665.1,1290.3 671.3,1293.9" stroke-width="2" fill="#fff"/>
<circle cx="665.1" cy="1297.5" r="2.8" stroke-width="1.4" fill="none"/>
<polygon points="675.5,1316 732.8,1301.7 731.8,1297.7 674.5,1312" stroke-width="1.6" fill="#fff"/>
<line x1="706.5" y1="1306.1" x2="732.3" y2="1299.7" stroke-width="5.2"/>
<line x1="706.5" y1="1306.1" x2="730.8" y2="1300.1" stroke-width="3.0" stroke="#fff" stroke-linecap="butt" stroke-dasharray="0.9,1.8"/>
<ellipse cx="676.9" cy="1313.5" rx="3.6" ry="8.4" stroke-width="2" fill="#fff" transform="rotate(-14 676.9 1313.5)"/>
<polygon points="679.3,1318.1 673.1,1321.7 666.8,1318.1 666.8,1310.9 673.1,1307.3 679.3,1310.9" stroke-width="2" fill="#fff"/>
<circle cx="673.1" cy="1314.5" r="2.8" stroke-width="1.4" fill="none"/>
<line x1="452" y1="1295" x2="472" y2="1289" stroke-width="4"/>
<line x1="457.7" y1="1293.3" x2="470.6" y2="1289.4" stroke-width="1.7999999999999998" stroke="#fff" stroke-linecap="butt" stroke-dasharray="0.9,1.8"/>
<ellipse cx="452" cy="1295" rx="3.8" ry="5" stroke-width="2.2" fill="#fff" transform="rotate(-16.7 452 1295)"/>
<ellipse cx="449.6" cy="1295.7" rx="2.8" ry="5.2" stroke-width="2.0" fill="#fff" transform="rotate(-16.7 449.6 1295.7)"/>
<line x1="426" y1="1382" x2="445" y2="1378" stroke-width="4"/>
<line x1="431.9" y1="1380.8" x2="443.5" y2="1378.3" stroke-width="1.7999999999999998" stroke="#fff" stroke-linecap="butt" stroke-dasharray="0.9,1.8"/>
<ellipse cx="426" cy="1382" rx="3.8" ry="5" stroke-width="2.2" fill="#fff" transform="rotate(-11.9 426 1382)"/>
<ellipse cx="423.6" cy="1382.5" rx="2.8" ry="5.2" stroke-width="2.0" fill="#fff" transform="rotate(-11.9 423.6 1382.5)"/>
<line x1="510" y1="1424" x2="530" y2="1421" stroke-width="4"/>
<line x1="515.9" y1="1423.1" x2="528.5" y2="1421.2" stroke-width="1.7999999999999998" stroke="#fff" stroke-linecap="butt" stroke-dasharray="0.9,1.8"/>
<ellipse cx="510" cy="1424" rx="3.8" ry="5" stroke-width="2.2" fill="#fff" transform="rotate(-8.5 510 1424)"/>
<ellipse cx="507.5" cy="1424.4" rx="2.8" ry="5.2" stroke-width="2.0" fill="#fff" transform="rotate(-8.5 507.5 1424.4)"/>
<path d="M652,1398 L668,1404 L678,1410 L690,1400 L700,1398 L710,1405" stroke-width="9" fill="none" />
<path d="M652,1398 L668,1404 L678,1410 L690,1400 L700,1398 L710,1405" stroke-width="5" fill="none" stroke="#fff"/>
<ellipse cx="652" cy="1398" rx="3" ry="4.5" stroke-width="2" fill="#fff"/>
<ellipse cx="710" cy="1405" rx="4" ry="4.5" stroke-width="2" fill="#fff"/>
<path d="M357,1171 Q355,1140 378,1117 Q386,1113 389,1118 L385,1125 Q372,1145 372,1160 L366,1175 Z" stroke-width="3" fill="#fff" />
<path d="M361,1168 Q362,1140 383,1119" stroke-width="3.5" fill="none" />
<path d="M377,1155 Q384,1148 388,1146 Q392,1158 380,1164" stroke-width="2" fill="none" />
<path d="M383,1192 Q380,1160 404,1135 Q412,1131 416,1136 L412,1142 Q399,1162 398,1180 L392,1196 Z" stroke-width="3" fill="#fff" />
<path d="M387,1189 Q387,1160 409,1137" stroke-width="3.5" fill="none" />
<path d="M403,1172 Q409,1164 414,1163 Q417,1176 406,1182" stroke-width="2" fill="none" />
<circle cx="284" cy="1164" r="7.5" stroke-width="2.5" fill="#222"/>
<circle cx="285" cy="1165" r="2.5" stroke-width="1.2" fill="#888"/>
<path d="M299,1154 L320,1150 L324,1162 L303,1166 Z" stroke-width="2" fill="#fff" />
<ellipse cx="300" cy="1160" rx="4" ry="6" stroke-width="2" fill="#333"/>
<circle cx="311" cy="1185" r="7.5" stroke-width="2.5" fill="#222"/>
<circle cx="312" cy="1186" r="2.5" stroke-width="1.2" fill="#888"/>
<path d="M326,1174 L347,1170 L351,1182 L330,1186 Z" stroke-width="2" fill="#fff" />
<ellipse cx="327" cy="1180" rx="4" ry="6" stroke-width="2" fill="#333"/>
<line x1="458" y1="1129" x2="431" y2="1135" stroke-width="4.5"/>
<line x1="452.1" y1="1130.3" x2="432.5" y2="1134.7" stroke-width="2.3" stroke="#fff" stroke-linecap="butt" stroke-dasharray="0.9,1.8"/>
<ellipse cx="458" cy="1129" rx="3.8" ry="5" stroke-width="2.2" fill="#fff" transform="rotate(167.5 458 1129)"/>
<ellipse cx="460.4" cy="1128.5" rx="2.8" ry="5.2" stroke-width="2.0" fill="#fff" transform="rotate(167.5 460.4 1128.5)"/>
<line x1="458" y1="1129" x2="477" y2="1125" stroke-width="4.5"/>
<line x1="485" y1="1148" x2="458" y2="1154" stroke-width="4.5"/>
<line x1="479.1" y1="1149.3" x2="459.5" y2="1153.7" stroke-width="2.3" stroke="#fff" stroke-linecap="butt" stroke-dasharray="0.9,1.8"/>
<ellipse cx="485" cy="1148" rx="3.8" ry="5" stroke-width="2.2" fill="#fff" transform="rotate(167.5 485 1148)"/>
<ellipse cx="487.4" cy="1147.5" rx="2.8" ry="5.2" stroke-width="2.0" fill="#fff" transform="rotate(167.5 487.4 1147.5)"/>
<line x1="485" y1="1148" x2="504" y2="1143" stroke-width="4.5"/>
<path d="M531.7,1108.2 L539.5,1105.6 L573.1,1125 L578.3,1132.8 L570.6,1158.7 L557.6,1165.2 L549.9,1160 L534.3,1148.3 L518.8,1141.9 L517.5,1135.4 Z" stroke-width="2.6" fill="#fff" />
<path d="M547,1122 L551,1128 L560,1127 L554,1133 L558,1142 L549,1137 L542,1145 L543,1135 L536,1130 L545,1129 Z" stroke-width="1.8" fill="none" />
<circle cx="535" cy="1113" r="2.2" stroke-width="1.6" fill="#000"/>
<circle cx="569" cy="1134" r="2.2" stroke-width="1.6" fill="#000"/>
<circle cx="522" cy="1139" r="2.2" stroke-width="1.6" fill="#000"/>
<circle cx="556" cy="1159" r="2.2" stroke-width="1.6" fill="#000"/>
<path d="M524,1140 L530,1132 M552,1150 L556,1158" stroke-width="2" fill="none" />
<ellipse cx="70" cy="898" rx="34" ry="43" stroke-width="2.4" fill="none"/>
<ellipse cx="70" cy="898" rx="30.5" ry="39.5" stroke-width="1.8" fill="none"/>
<path d="M104,885 A30,42 0 1 0 104,910" stroke-width="2.4" fill="none" />
<path d="M101,887 A27,39 0 1 0 101,908" stroke-width="1.6" fill="none" />
<path d="M100,887 L106,887 M100,908 L106,908" stroke-width="2" fill="none" />
<path d="M118,856 A35,43.5 0 1 1 98,860" stroke-width="2.6" fill="none" />
<path d="M116,861 A31,39 0 1 1 100,864" stroke-width="1.6" fill="none" />
<path d="M192,840 Q180,835 177,846 Q176,856 188,857" stroke-width="3.2" fill="none" />
<path d="M231,851.5 L301.7,854.7 Q313,858 313,866 L313,930 Q311,935 305,933.3 L231,939.7 Z" stroke-width="2.4" fill="#fff" />
<ellipse cx="231" cy="895.6" rx="38.5" ry="44" stroke-width="2.4" fill="#fff"/>
<ellipse cx="233" cy="895" rx="28" ry="35" stroke-width="1.8" fill="none"/>
<path d="M248.0,852.5 Q260.0,895 248.0,938.5" stroke-width="1.9" fill="none" />
<path d="M251.2,852.8 Q263.2,895 251.2,938.2" stroke-width="1.9" fill="none" />
<path d="M254.4,853.1 Q266.4,895 254.4,937.9" stroke-width="1.9" fill="none" />
<path d="M257.6,853.4 Q269.6,895 257.6,937.6" stroke-width="1.9" fill="none" />
<path d="M260.8,853.7 Q272.8,895 260.8,937.3" stroke-width="1.9" fill="none" />
<path d="M264.0,854.0 Q276.0,895 264.0,937.0" stroke-width="1.9" fill="none" />
<path d="M267.2,854.3 Q279.2,895 267.2,936.7" stroke-width="1.9" fill="none" />
<path d="M270.4,854.6 Q282.4,895 270.4,936.4" stroke-width="1.9" fill="none" />
<path d="M273.6,854.9 Q285.6,895 273.6,936.1" stroke-width="1.9" fill="none" />
<path d="M279,878 L303,876 L305,925 L281,928 Z" stroke-width="2" fill="#fff" />
<path d="M283,884 L300,882 L300,920 L285,922 Z" stroke-width="1.8" fill="none" />
<path d="M287,905 L297,902 L298,915 L288,918 Z" stroke-width="2" fill="#222" />
<circle cx="226" cy="922" r="2.5" stroke-width="1.6" fill="none"/>
<path d="M326,941 L390,968 Q400,975 395,984 Q390,989 383,987 L320,958 Q313,953 316,945 Q320,938 326,941 Z" stroke-width="2.4" fill="#fff" />
<ellipse cx="390" cy="977" rx="6.5" ry="10" stroke-width="2.4" fill="#fff" transform="rotate(-25 390 977)"/>
<ellipse cx="391" cy="977" rx="3.5" ry="6" stroke-width="2" fill="none" transform="rotate(-25 391 977)"/>
<path d="M415,980 Q406,973 402,983 Q400,992 410,995" stroke-width="3.2" fill="none" />
<path d="M340.2,888.4 Q345,876 353,875.5 L385,874 L449.3,853 L455.7,851.5 L475,862.7 L478,870 L475,914 L455.7,917.3 L439.7,901.2 L385,910.8 L362.6,910.8 Q345,908 340.2,900 Z" stroke-width="2.4" fill="#fff" />
<ellipse cx="365.9" cy="896.4" rx="9" ry="11" stroke-width="2.4" fill="#fff" transform="rotate(-10 365.9 896.4)"/>
<ellipse cx="366.5" cy="896.4" rx="6" ry="8" stroke-width="1.8" fill="none" transform="rotate(-10 366.5 896.4)"/>
<path d="M385,884 L440,872 L448,884 L442,895 L388,902" stroke-width="1.8" fill="none" />
<path d="M448,860 L460,850 L476,858 L470,870" stroke-width="2" fill="none" />
<circle cx="458" cy="887" r="4" stroke-width="1.8" fill="#fff"/>
<circle cx="347" cy="893" r="1.6" stroke-width="1.2" fill="none"/>
<path d="M455,917 L462,920 L470,912 L476,918" stroke-width="1.8" fill="none" />
<path d="M481.4,848.3 L500.6,840.2 L516.7,845 L520,866 L526.3,882 L520,910.8 L500.6,920.5 L481.4,907.6 L483,895 L497,900 L510,885 L505,865 L483,860 Z" stroke-width="2.4" fill="#fff" />
<path d="M486,850 L500,846 L510,852 L512,865 M484,900 L496,906" stroke-width="1.8" fill="none" />
<circle cx="494" cy="852" r="2" stroke-width="1.4" fill="none"/>
<circle cx="493" cy="906" r="2" stroke-width="1.4" fill="none"/>
<path d="M499,920 L503,981 L508,981 L510,920" stroke-width="2.2" fill="#fff" />
<line x1="562" y1="834" x2="528" y2="852" stroke-width="4"/>
<line x1="556.2" y1="837.1" x2="529.3" y2="851.3" stroke-width="1.7999999999999998" stroke="#fff" stroke-linecap="butt" stroke-dasharray="0.9,1.8"/>
<ellipse cx="562" cy="834" rx="4.1" ry="5.5" stroke-width="2.2" fill="#fff" transform="rotate(152.1 562 834)"/>
<ellipse cx="564.2" cy="832.8" rx="3" ry="5.8" stroke-width="2.0" fill="#fff" transform="rotate(152.1 564.2 832.8)"/>
<line x1="572" y1="880" x2="534" y2="898" stroke-width="4"/>
<line x1="566" y1="882.8" x2="535.4" y2="897.4" stroke-width="1.7999999999999998" stroke="#fff" stroke-linecap="butt" stroke-dasharray="0.9,1.8"/>
<ellipse cx="572" cy="880" rx="4.1" ry="5.5" stroke-width="2.2" fill="#fff" transform="rotate(154.7 572 880)"/>
<ellipse cx="574.3" cy="878.9" rx="3" ry="5.8" stroke-width="2.0" fill="#fff" transform="rotate(154.7 574.3 878.9)"/>
<path d="M735.4,1482.8 L756.1,1475 L761.3,1477.6 L784.6,1428.5 L818.2,1415.5 L827.3,1423.3 L826,1433.6 L815.6,1438.8 L807.9,1449.2 L785.9,1460.8 L761.3,1489.3 L761,1496 L739.3,1502.2 L735,1495 Z" stroke-width="2.2" fill="#fff" />
<ellipse cx="752" cy="1484" rx="3" ry="2.5" stroke-width="1.6" fill="none"/>
<ellipse cx="808" cy="1426" rx="4" ry="2.5" stroke-width="1.6" fill="none" transform="rotate(-15 808 1426)"/>
<line x1="763" y1="1478" x2="786" y2="1432" stroke-width="1.8"/>
<line x1="729" y1="1455" x2="740" y2="1466" stroke-width="3.5"/>
<line x1="733.2" y1="1459.2" x2="738.9" y2="1464.9" stroke-width="1.2999999999999998" stroke="#fff" stroke-linecap="butt" stroke-dasharray="0.9,1.8"/>
<ellipse cx="729" cy="1455" rx="3.8" ry="5" stroke-width="2.2" fill="#fff" transform="rotate(45 729 1455)"/>
<ellipse cx="727.2" cy="1453.2" rx="2.8" ry="5.2" stroke-width="2.0" fill="#fff" transform="rotate(45 727.2 1453.2)"/>
<path d="M761.3,1495.8 L769,1485.4 L864.8,1469.9 L875.2,1471.2 L886.8,1482.8 L889.4,1617.4 L880.3,1630.3 L782,1656.2 L769,1653.6 L763.9,1645.9 L758.7,1503.5 Z" stroke-width="2.6" fill="#fff" />
<path d="M771.6,1508.7 L778,1500 L872,1484 L879,1490 L881,1614 L875,1622 L784,1646 L776,1642 L773,1620 Z" stroke-width="2" fill="none" />
<path d="M774,1512 L860,1492 L868,1500 L871,1560 L866,1568 L781,1586 L776,1580 Z" stroke-width="1.8" fill="none" />
<path d="M778,1530 L795,1544 L866,1530 M795,1544 L796,1575 M781,1610 L860,1592 L862,1620 L790,1636 Z" stroke-width="1.6" fill="none" />
<path d="M788,1600 L854,1584 M805,1620 L820,1638 L830,1636 Q838,1628 832,1618" stroke-width="1.6" fill="none" />
<ellipse cx="830" cy="1630" rx="6" ry="5" stroke-width="2" fill="#fff" transform="rotate(-20 830 1630)"/>
<ellipse cx="830" cy="1630" rx="3" ry="2.5" stroke-width="1.4" fill="none" transform="rotate(-20 830 1630)"/>
<path d="M800,1506 Q812,1496 820,1508 Q830,1515 818,1518 Q808,1520 800,1506 Z" stroke-width="1.8" fill="none" />
<circle cx="791" cy="1632" r="1.8" stroke-width="1.2" fill="#000"/>
<path d="M908.8,1480.2 L914,1477.6 L991.6,1453 L1002,1454.3 L1012.3,1467.3 L1014.9,1532 L1009.7,1541 L926.9,1563 L919.2,1560.5 L906.2,1545 L906.2,1485.4 Z" stroke-width="2.4" fill="#fff" />
<path d="M913,1489 L1003,1464 L1012,1467 M913,1489 L911,1548" stroke-width="1.8" fill="none" />
<path d="M976.1,1560.5 L983.9,1555.3 L1074.4,1529.4 L1090,1529.4 L1096.4,1539.8 L1096.4,1674.3 L1087.4,1687.3 L983.9,1706.7 L974.8,1702.8 L970.9,1689.9 L970.9,1568.2 Z" stroke-width="2.6" fill="#fff" />
<path d="M977.4,1565.6 L1088,1537 L1093,1545 L1092.5,1674.3 L1086,1682 L983,1701 L977,1695 Z" stroke-width="1.8" fill="none" />
<path d="M1029,1570.8 L1055,1564 L1056,1642 L1060,1645 L1059,1695 L1045,1700 L1030,1700 Z" stroke-width="1.8" fill="none" />
<path d="M1029,1580 L990,1588 L985,1680 M1055,1574 L1088,1566 M1000,1593 L1003,1670 M1070,1585 L1072,1650" stroke-width="1.6" fill="none" />
<path d="M1002,1575 L1040,1566 M1018,1650 L1035,1665 M1070,1650 L1060,1665" stroke-width="1.4" fill="none" />
<circle cx="1042" cy="1696" r="3" stroke-width="1.8" fill="none"/>
<path d="M1044,1707 L1058,1723" stroke-width="5" fill="none" />
<ellipse cx="1063" cy="1731" rx="17" ry="12" stroke-width="2.4" fill="#fff" transform="rotate(20 1063 1731)"/>
<path d="M1050,1735 Q1062,1738 1076,1733" stroke-width="1.4" fill="none" />
<path d="M864.8,1640.7 L942.4,1620 L950.2,1625.2 L950.2,1679.5 L945,1682.1 L872.6,1697.6 L866.1,1695 Z" stroke-width="2.6" fill="#fff" />
<path d="M871,1646 L904,1637 Q896,1645 906,1652 L902,1655 L871,1662 Z M914,1634 L943,1627 L944,1647 L918,1654 Q926,1645 914,1634 Z M871,1670 L900,1664 Q902,1675 904,1688 L871,1693 Z M912,1663 L944,1655 L944,1676 L914,1683 Q918,1673 912,1663 Z" stroke-width="1.8" fill="none" />
<circle cx="745" cy="1680" r="15.5" stroke-width="2.2" fill="#fff"/>
<polygon points="754.5,1683.5 745,1689 735.5,1683.5 735.5,1672.5 745,1667 754.5,1672.5" stroke-width="2" fill="#fff"/>
<circle cx="745" cy="1678" r="5" stroke-width="2" fill="none"/>
<ellipse cx="745" cy="1681" rx="6" ry="5" stroke-width="2" fill="#fff"/>
<ellipse cx="745" cy="1681" rx="3.5" ry="3" stroke-width="1.4" fill="none"/>
<circle cx="831" cy="1680.5" r="15.5" stroke-width="2.2" fill="#fff"/>
<polygon points="840.5,1684 831,1689.5 821.5,1684 821.5,1673 831,1667.5 840.5,1673" stroke-width="2" fill="#fff"/>
<circle cx="831" cy="1678.5" r="5" stroke-width="2" fill="none"/>
<ellipse cx="831" cy="1681.5" rx="6" ry="5" stroke-width="2" fill="#fff"/>
<ellipse cx="831" cy="1681.5" rx="3.5" ry="3" stroke-width="1.4" fill="none"/>
<line x1="1282" y1="1322" x2="1283" y2="1343" stroke-width="4"/>
<line x1="1282.3" y1="1327.4" x2="1282.9" y2="1341.5" stroke-width="1.7999999999999998" stroke="#fff" stroke-linecap="butt" stroke-dasharray="0.9,1.8"/>
<ellipse cx="1282" cy="1322" rx="3.4" ry="4.5" stroke-width="2.2" fill="#fff" transform="rotate(87.3 1282 1322)"/>
<ellipse cx="1281.9" cy="1319.5" rx="2.5" ry="4.7" stroke-width="2.0" fill="#fff" transform="rotate(87.3 1281.9 1319.5)"/>
<ellipse cx="1283" cy="1350" rx="5.5" ry="2.2" stroke-width="2" fill="#000" transform="rotate(-10 1283 1350)"/>
<path d="M1271,1362 L1280,1355 L1290,1360 L1292,1388 L1276,1392 Z" stroke-width="2" fill="#fff" />
<path d="M1243.7,1399.4 L1251.5,1391.6 L1264.4,1389 L1318.8,1386.5 L1326.6,1391.6 L1334.3,1404.6 L1349.9,1422.7 L1352.5,1435.6 L1344.7,1443.4 L1334.3,1448.6 L1305.9,1456.3 L1292.9,1458.9 L1264.4,1448.6 L1256.7,1435.6 L1251.5,1420.1 L1245,1415 L1242.5,1407.2 Z" stroke-width="2.4" fill="#fff" />
<path d="M1274.8,1417.5 L1336.9,1404.6 L1352.5,1427.9 L1344.7,1440.8 L1287.7,1448.6 L1277.4,1430.5 Z" stroke-width="2.2" fill="#fff" />
<path d="M1300,1425 Q1312,1418 1325,1424 L1328,1438 L1310,1442 L1300,1436 Z" stroke-width="2" fill="#fff" />
<circle cx="1284" cy="1425" r="3" stroke-width="1.6" fill="#fff"/>
<circle cx="1344" cy="1425" r="3" stroke-width="1.6" fill="#fff"/>
<path d="M1260,1395 L1270,1410 L1310,1405 M1280,1392 L1282,1408 M1292,1391 L1294,1404 M1300,1392 L1302,1404" stroke-width="1.8" fill="none" />
<path d="M1322,1380 L1326,1380 L1326,1398 L1322,1398 Z" stroke-width="1.8" fill="#fff" />
<ellipse cx="1324" cy="1380" rx="2.5" ry="1.5" stroke-width="1.4" fill="#fff"/>
<path d="M1290.3,1456.3 L1290.3,1483 Q1296,1487 1303.3,1483 L1303.3,1456.3" stroke-width="2.2" fill="#fff" />
<path d="M1287,1458 L1287,1465 M1312,1456 L1312,1465 M1320,1454 L1320,1463" stroke-width="2.2" fill="none" />
<line x1="1220" y1="1409" x2="1239" y2="1404" stroke-width="4"/>
<line x1="1225.2" y1="1407.6" x2="1237.5" y2="1404.4" stroke-width="1.7999999999999998" stroke="#fff" stroke-linecap="butt" stroke-dasharray="0.9,1.8"/>
<ellipse cx="1220" cy="1409" rx="3.4" ry="4.5" stroke-width="2.2" fill="#fff" transform="rotate(-14.7 1220 1409)"/>
<ellipse cx="1217.6" cy="1409.6" rx="2.5" ry="4.7" stroke-width="2.0" fill="#fff" transform="rotate(-14.7 1217.6 1409.6)"/>
<path d="M1158,1428 L1180,1425" stroke-width="4" fill="none" />
<ellipse cx="1158" cy="1429" rx="3" ry="4" stroke-width="2" fill="#fff"/>
<path d="M1191,1415 L1209,1412 L1210,1422 L1192,1425 Z" stroke-width="2" fill="#222" />
<line x1="1181" y1="1425" x2="1191" y2="1421" stroke-width="1.5"/>
<path d="M1368,1425 L1375,1421 L1382,1428 L1378,1440 L1372,1445 L1366,1438 Z" stroke-width="2" fill="#fff" />
<path d="M1376,1445 L1377,1473 M1363,1447 Q1358,1455 1365,1460 Q1360,1468 1368,1472 L1385,1470 Q1390,1460 1385,1455 Q1390,1450 1384,1445 Z" stroke-width="1.8" fill="none" />
<path d="M1295,1491 L1301,1491 L1302,1523 L1296,1523 Z" stroke-width="2" fill="#fff" />
<path d="M1294,1500 L1302,1500 M1294,1512 L1302,1512" stroke-width="1.6" fill="none" />
<path d="M1307,1518 L1312,1518 L1312,1530 L1307,1530 Z" stroke-width="1.8" fill="#fff" />
<line x1="1309.5" y1="1516" x2="1309.5" y2="1544" stroke-width="3"/>
<path d="M1294,1529 L1302,1529 L1302,1538 L1294,1538 Z" stroke-width="2" fill="#222" />
<path d="M1270,1560 Q1290,1546 1312,1548 L1326,1560 L1326,1578 Q1300,1590 1272,1578 Z" stroke-width="2.4" fill="#fff" />
<path d="M1270,1560 Q1298,1570 1326,1560 M1285,1556 Q1298,1552 1308,1560 Q1300,1566 1288,1562" stroke-width="1.8" fill="none" />
<path d="M1300,1578 L1306,1590 M1310,1580 L1316,1590" stroke-width="2" fill="none" />
<line x1="1260" y1="1594" x2="1282" y2="1591" stroke-width="2.4"/>
<ellipse cx="1295.5" cy="1612" rx="39.5" ry="13" stroke-width="2.4" fill="#fff" transform="rotate(-3 1295.5 1612)"/>
<ellipse cx="1295.5" cy="1614" rx="35" ry="10" stroke-width="1.8" fill="none" transform="rotate(-3 1295.5 1614)"/>
<path d="M1259,1628 Q1257,1660 1275,1670 L1285,1683 L1305,1683 L1316,1670 Q1334,1660 1333,1628" stroke-width="2.4" fill="#fff" />
<ellipse cx="1296" cy="1628" rx="37" ry="10" stroke-width="2.2" fill="#fff" transform="rotate(-3 1296 1628)"/>
<ellipse cx="1296" cy="1630" rx="33" ry="8" stroke-width="1.6" fill="none" transform="rotate(-3 1296 1630)"/>
<path d="M1275,1670 Q1296,1676 1316,1670" stroke-width="1.8" fill="none" />
<ellipse cx="1296" cy="1692" rx="7" ry="3" stroke-width="2" fill="#000"/>
<line x1="1296" y1="1702" x2="1296" y2="1722" stroke-width="4"/>
<line x1="1296" y1="1706.8" x2="1296" y2="1720.5" stroke-width="1.7999999999999998" stroke="#fff" stroke-linecap="butt" stroke-dasharray="0.9,1.8"/>
<ellipse cx="1296" cy="1702" rx="3" ry="4" stroke-width="2.2" fill="#fff" transform="rotate(90 1296 1702)"/>
<ellipse cx="1296" cy="1699.5" rx="2.2" ry="4.2" stroke-width="2.0" fill="#fff" transform="rotate(90 1296 1699.5)"/>
<path d="M1310,1683 L1318,1679 L1320,1685 L1312,1689 Z" stroke-width="2" fill="#222" />
<line x1="1326" y1="1708" x2="1318" y2="1692" stroke-width="3.5"/>
<line x1="1323.9" y1="1703.7" x2="1318.7" y2="1693.3" stroke-width="1.2999999999999998" stroke="#fff" stroke-linecap="butt" stroke-dasharray="0.9,1.8"/>
<ellipse cx="1326" cy="1708" rx="3" ry="4" stroke-width="2.2" fill="#fff" transform="rotate(-116.6 1326 1708)"/>
<ellipse cx="1327.1" cy="1710.2" rx="2.2" ry="4.2" stroke-width="2.0" fill="#fff" transform="rotate(-116.6 1327.1 1710.2)"/>
<path d="M1356.3,1536.6 L1365.4,1528.8 L1414.6,1519.7 L1422.3,1522.3 L1435.3,1541.7 L1434,1550.8 L1422.3,1557.3 L1393.8,1562.4 L1383.5,1557.3 L1362.8,1552.1 L1356.3,1544.3 Z" stroke-width="2.2" fill="#e8e8e8" />
<path d="M1380,1540 Q1385,1530 1400,1532 Q1412,1528 1410,1540 Q1412,1550 1398,1551 Q1383,1552 1380,1540 Z" stroke-width="1.8" fill="#fff" />
<circle cx="1366.7" cy="1539" r="2.5" stroke-width="1.6" fill="#fff"/>
<circle cx="1427.5" cy="1545.6" r="2.5" stroke-width="1.6" fill="#fff"/>
<path d="M1420,1352 L1432,1333 L1440,1330 L1455,1340 L1470,1350 L1473,1356 L1468,1358 L1450,1346 L1440,1342 L1432,1352 L1428,1360 Z" stroke-width="2" fill="#fff" />
<path d="M1410,1360 Q1418,1352 1428,1358 L1440,1362 Q1436,1370 1426,1370 L1412,1366 Z" stroke-width="2" fill="#fff" />
<path d="M1428,1370 Q1436,1366 1444,1372 L1440,1378 L1430,1378 Z" stroke-width="2" fill="#fff" />
<path d="M1413,1378 L1413,1388 M1416,1378 L1416,1388" stroke-width="2" fill="none" />
<line x1="1474" y1="1425" x2="1492" y2="1436" stroke-width="4"/>
<line x1="1479.1" y1="1428.1" x2="1490.7" y2="1435.2" stroke-width="1.7999999999999998" stroke="#fff" stroke-linecap="butt" stroke-dasharray="0.9,1.8"/>
<ellipse cx="1474" cy="1425" rx="3.8" ry="5" stroke-width="2.2" fill="#fff" transform="rotate(31.4 1474 1425)"/>
<ellipse cx="1471.9" cy="1423.7" rx="2.8" ry="5.2" stroke-width="2.0" fill="#fff" transform="rotate(31.4 1471.9 1423.7)"/>
<polygon points="1376.6,1203.7 1376.9,1198.5 1377.5,1193.2 1378.4,1187.9 1379.5,1182.5 1381,1177.1 1382.8,1171.7 1384.8,1166.3 1387.1,1161 1389.6,1155.7 1392.4,1150.5 1395.4,1145.5 1398.6,1140.6 1402,1135.9 1405.6,1131.4 1409.4,1127.1 1413.3,1123.1 1417.3,1119.3 1421.5,1115.8 1425.7,1112.7 1430,1109.8 1434.3,1107.2 1438.7,1105 1443,1103.2 1447.3,1101.6 1451.6,1100.5 1455.9,1099.8 1460,1099.4 1464.1,1099.4 1468,1099.7 1471.8,1100.5 1475.4,1101.6 1478.8,1103.1 1482.1,1104.9 1485.1,1107.1 1511.7,1127.5 1514.5,1130.1 1517.1,1132.9 1519.5,1136.1 1521.5,1139.6 1523.3,1143.4 1524.8,1147.4 1526.1,1151.7 1527,1156.2 1527.6,1160.8 1528,1165.7 1528,1170.7 1527.7,1175.9 1527.1,1181.2 1526.2,1186.5 1525,1191.9 1523.6,1197.3 1521.8,1202.7 1519.8,1208.1 1517.5,1213.5 1515,1218.7 1512.2,1223.9 1509.2,1228.9 1506,1233.8 1502.6,1238.5 1499,1243 1495.2,1247.3 1491.3,1251.3 1487.3,1255.1 1483.1,1258.6 1478.9,1261.8 1474.6,1264.6 1470.3,1267.2 1466,1269.4 1461.6,1271.2 1457.3,1272.8 1453,1273.9 1448.7,1274.7 1444.6,1275 1440.5,1275 1436.6,1274.7 1432.8,1273.9 1429.2,1272.8 1425.8,1271.3 1422.5,1269.5 1419.5,1267.3 1392.9,1246.9 1390,1244.3 1387.5,1241.5 1385.1,1238.3 1383.1,1234.8 1381.3,1231 1379.8,1227 1378.5,1222.8 1377.6,1218.2 1377,1213.6 1376.7,1208.7" stroke-width="2.4" fill="#fff"/>
<ellipse cx="1447" cy="1183.1" rx="53.6" ry="84" stroke-width="1.6" fill="none" transform="rotate(29.6 1447 1183.1)"/>
<ellipse cx="1450.2" cy="1185.6" rx="53.6" ry="84" stroke-width="1.6" fill="none" transform="rotate(29.6 1450.2 1185.6)"/>
<ellipse cx="1465.6" cy="1197.4" rx="53.6" ry="84" stroke-width="2.4" fill="#fff" transform="rotate(29.6 1465.6 1197.4)"/>
<ellipse cx="1465.6" cy="1197.4" rx="50" ry="80" stroke-width="1.6" fill="none" transform="rotate(29.6 1465.6 1197.4)"/>
<path d="M1430,1126 L1438,1110 L1470,1104 L1478,1112 L1476,1132 L1446,1140 Z" stroke-width="2.2" fill="#fff" />
<path d="M1446,1140 L1446,1122 L1476,1114 M1446,1122 L1438,1112" stroke-width="1.6" fill="none" />
<circle cx="1458" cy="1116" r="1.8" stroke-width="1.2" fill="none"/>
<circle cx="1518.2" cy="1141.5" r="2.2" stroke-width="1.6" fill="#fff"/>
<circle cx="1518.8" cy="1200.4" r="2.2" stroke-width="1.6" fill="#fff"/>
<circle cx="1461.7" cy="1267.2" r="2.2" stroke-width="1.6" fill="#fff"/>
<circle cx="1411.6" cy="1250.4" r="2.2" stroke-width="1.6" fill="#fff"/>
<path d="M1444,1190 L1452,1174 L1478,1168 L1486,1176 L1484,1204 L1474,1214 L1452,1216 L1444,1206 Z" stroke-width="2.2" fill="#fff" />
<ellipse cx="1466" cy="1194" rx="9" ry="13" stroke-width="2" fill="#fff" transform="rotate(29.6 1466 1194)"/>
<ellipse cx="1467" cy="1195" rx="5" ry="8" stroke-width="1.6" fill="none" transform="rotate(29.6 1467 1195)"/>
<circle cx="1449" cy="1195" r="2" stroke-width="1.4" fill="none"/>
<circle cx="1481" cy="1174" r="2" stroke-width="1.4" fill="none"/>
<circle cx="1464" cy="1214" r="2" stroke-width="1.4" fill="none"/>
<line x1="1466" y1="1196" x2="1492" y2="1211" stroke-width="1.8"/>
<ellipse cx="1530.5" cy="1247" rx="52.5" ry="83.5" stroke-width="2.4" fill="#fff" transform="rotate(26 1530.5 1247)"/>
<ellipse cx="1533" cy="1248" rx="49" ry="80" stroke-width="1.4" fill="none" transform="rotate(26 1533 1248)"/>
<path d="M1563.5,1259.9 Q1581.3,1269.3 1584.5,1298.2" stroke-width="2.5" fill="none" />
<path d="M1561.9,1262.7 Q1577.9,1275.3 1579.3,1304.4" stroke-width="1.5" fill="none" />
<path d="M1584.5,1298.2 L1579.3,1304.4" stroke-width="2.2" fill="none" />
<path d="M1558.4,1267.7 Q1572.4,1283.0 1568.9,1314.4" stroke-width="2.5" fill="none" />
<path d="M1556.4,1270.1 Q1568.0,1288.0 1563.1,1319.0" stroke-width="1.5" fill="none" />
<path d="M1568.9,1314.4 L1563.1,1319.0" stroke-width="2.2" fill="none" />
<path d="M1552.2,1274.0 Q1561.4,1294.1 1551.9,1325.6" stroke-width="2.5" fill="none" />
<path d="M1549.9,1275.8 Q1556.5,1297.8 1545.8,1328.1" stroke-width="1.5" fill="none" />
<path d="M1551.9,1325.6 L1545.8,1328.1" stroke-width="2.2" fill="none" />
<path d="M1545.4,1278.5 Q1549.4,1301.8 1534.6,1330.8" stroke-width="2.5" fill="none" />
<path d="M1543.0,1279.5 Q1544.3,1303.8 1528.8,1331.1" stroke-width="1.5" fill="none" />
<path d="M1534.6,1330.8 L1528.8,1331.1" stroke-width="2.2" fill="none" />
<path d="M1538.6,1280.6 Q1537.3,1305.3 1518.6,1329.6" stroke-width="2.5" fill="none" />
<path d="M1536.3,1280.8 Q1532.4,1305.5 1513.6,1327.7" stroke-width="1.5" fill="none" />
<path d="M1518.6,1329.6 L1513.6,1327.7" stroke-width="2.2" fill="none" />
<path d="M1532.3,1280.2 Q1526.0,1304.4 1505.2,1322.1" stroke-width="2.5" fill="none" />
<path d="M1530.3,1279.5 Q1521.8,1302.7 1501.3,1318.1" stroke-width="1.5" fill="none" />
<path d="M1505.2,1322.1 L1501.3,1318.1" stroke-width="2.2" fill="none" />
<path d="M1527.0,1277.4 Q1516.5,1299.2 1495.4,1309.0" stroke-width="2.5" fill="none" />
<path d="M1525.5,1275.9 Q1513.3,1295.8 1493.0,1303.2" stroke-width="1.5" fill="none" />
<path d="M1495.4,1309.0 L1493.0,1303.2" stroke-width="2.2" fill="none" />
<path d="M1523.2,1272.4 Q1509.6,1290.1 1490.0,1291.2" stroke-width="2.5" fill="none" />
<path d="M1522.3,1270.2 Q1507.6,1285.3 1489.2,1284.2" stroke-width="1.5" fill="none" />
<path d="M1490.0,1291.2 L1489.2,1284.2" stroke-width="2.2" fill="none" />
<path d="M1521.1,1265.6 Q1505.8,1277.8 1489.5,1270.3" stroke-width="2.5" fill="none" />
<path d="M1520.9,1262.8 Q1505.2,1271.9 1490.4,1262.5" stroke-width="1.5" fill="none" />
<path d="M1489.5,1270.3 L1490.4,1262.5" stroke-width="2.2" fill="none" />
<path d="M1521.0,1257.5 Q1505.4,1263.4 1493.8,1247.8" stroke-width="2.5" fill="none" />
<path d="M1521.4,1254.4 Q1506.2,1256.9 1496.5,1240.0" stroke-width="1.5" fill="none" />
<path d="M1493.8,1247.8 L1496.5,1240.0" stroke-width="2.2" fill="none" />
<path d="M1522.8,1248.7 Q1508.4,1247.9 1502.8,1225.7" stroke-width="2.5" fill="none" />
<path d="M1523.9,1245.7 Q1510.7,1241.4 1506.8,1218.4" stroke-width="1.5" fill="none" />
<path d="M1502.8,1225.7 L1506.8,1218.4" stroke-width="2.2" fill="none" />
<path d="M1526.5,1240.1 Q1514.7,1232.7 1515.5,1205.8" stroke-width="2.5" fill="none" />
<path d="M1528.1,1237.3 Q1518.1,1226.7 1520.7,1199.6" stroke-width="1.5" fill="none" />
<path d="M1515.5,1205.8 L1520.7,1199.6" stroke-width="2.2" fill="none" />
<path d="M1531.6,1232.3 Q1523.6,1219.0 1531.1,1189.6" stroke-width="2.5" fill="none" />
<path d="M1533.6,1229.9 Q1528.0,1214.0 1536.9,1185.0" stroke-width="1.5" fill="none" />
<path d="M1531.1,1189.6 L1536.9,1185.0" stroke-width="2.2" fill="none" />
<path d="M1537.8,1226.0 Q1534.6,1207.9 1548.1,1178.4" stroke-width="2.5" fill="none" />
<path d="M1540.1,1224.2 Q1539.5,1204.2 1554.2,1175.9" stroke-width="1.5" fill="none" />
<path d="M1548.1,1178.4 L1554.2,1175.9" stroke-width="2.2" fill="none" />
<path d="M1544.6,1221.5 Q1546.6,1200.2 1565.4,1173.2" stroke-width="2.5" fill="none" />
<path d="M1547.0,1220.5 Q1551.7,1198.2 1571.2,1172.9" stroke-width="1.5" fill="none" />
<path d="M1565.4,1173.2 L1571.2,1172.9" stroke-width="2.2" fill="none" />
<path d="M1551.4,1219.4 Q1558.7,1196.7 1581.4,1174.4" stroke-width="2.5" fill="none" />
<path d="M1553.7,1219.2 Q1563.6,1196.5 1586.4,1176.3" stroke-width="1.5" fill="none" />
<path d="M1581.4,1174.4 L1586.4,1176.3" stroke-width="2.2" fill="none" />
<path d="M1557.7,1219.8 Q1570.0,1197.6 1594.8,1181.9" stroke-width="2.5" fill="none" />
<path d="M1559.7,1220.5 Q1574.2,1199.3 1598.7,1185.9" stroke-width="1.5" fill="none" />
<path d="M1594.8,1181.9 L1598.7,1185.9" stroke-width="2.2" fill="none" />
<path d="M1563.0,1222.6 Q1579.5,1202.8 1604.6,1195.0" stroke-width="2.5" fill="none" />
<path d="M1564.5,1224.1 Q1582.7,1206.2 1607.0,1200.8" stroke-width="1.5" fill="none" />
<path d="M1604.6,1195.0 L1607.0,1200.8" stroke-width="2.2" fill="none" />
<path d="M1566.8,1227.6 Q1586.4,1211.9 1610.0,1212.8" stroke-width="2.5" fill="none" />
<path d="M1567.7,1229.8 Q1588.4,1216.7 1610.8,1219.8" stroke-width="1.5" fill="none" />
<path d="M1610.0,1212.8 L1610.8,1219.8" stroke-width="2.2" fill="none" />
<path d="M1568.9,1234.4 Q1590.2,1224.2 1610.5,1233.7" stroke-width="2.5" fill="none" />
<path d="M1569.1,1237.2 Q1590.8,1230.1 1609.6,1241.5" stroke-width="1.5" fill="none" />
<path d="M1610.5,1233.7 L1609.6,1241.5" stroke-width="2.2" fill="none" />
<path d="M1569.0,1242.5 Q1590.6,1238.6 1606.2,1256.2" stroke-width="2.5" fill="none" />
<path d="M1568.6,1245.6 Q1589.8,1245.1 1603.5,1264.0" stroke-width="1.5" fill="none" />
<path d="M1606.2,1256.2 L1603.5,1264.0" stroke-width="2.2" fill="none" />
<path d="M1567.2,1251.3 Q1587.6,1254.1 1597.2,1278.3" stroke-width="2.5" fill="none" />
<path d="M1566.1,1254.3 Q1585.3,1260.6 1593.2,1285.6" stroke-width="1.5" fill="none" />
<path d="M1597.2,1278.3 L1593.2,1285.6" stroke-width="2.2" fill="none" />
<ellipse cx="1545" cy="1250" rx="21" ry="33" stroke-width="2" fill="#fff" transform="rotate(28 1545 1250)"/>
<ellipse cx="1545" cy="1250" rx="12" ry="20" stroke-width="2" fill="#fff" transform="rotate(40 1545 1250)"/>
<circle cx="1554.5" cy="1228.3" r="2.4" stroke-width="1.6" fill="#000"/>
<circle cx="1555.6" cy="1262.1" r="2.4" stroke-width="1.6" fill="#000"/>
<circle cx="1524.8" cy="1259.4" r="2.4" stroke-width="1.6" fill="#000"/>
<line x1="1547" y1="1255" x2="1606" y2="1289" stroke-width="1.8"/>
<polygon points="1598.5,1304.1 1598.5,1301.7 1598.7,1299.2 1599.1,1296.7 1599.6,1294.1 1600.3,1291.4 1601.1,1288.8 1602,1286.1 1603.1,1283.3 1604.4,1280.7 1605.7,1278 1607.2,1275.3 1608.8,1272.7 1610.5,1270.2 1612.3,1267.7 1614.2,1265.3 1616.2,1263 1618.3,1260.8 1620.4,1258.7 1622.6,1256.7 1624.8,1254.9 1627,1253.2 1629.3,1251.7 1631.5,1250.3 1633.8,1249.2 1636,1248.1 1638.3,1247.3 1640.5,1246.6 1642.6,1246.1 1644.7,1245.8 1646.7,1245.7 1648.7,1245.8 1650.5,1246.1 1652.3,1246.5 1654,1247.2 1655.5,1248 1656.9,1249 1680.9,1266.5 1682.2,1267.7 1683.4,1269 1684.4,1270.5 1685.3,1272.2 1686.1,1274 1686.7,1275.9 1687.1,1278 1687.4,1280.1 1687.5,1282.4 1687.5,1284.8 1687.3,1287.3 1686.9,1289.8 1686.4,1292.4 1685.7,1295.1 1684.9,1297.7 1684,1300.4 1682.9,1303.2 1681.6,1305.8 1680.3,1308.5 1678.8,1311.2 1677.2,1313.8 1675.5,1316.3 1673.7,1318.8 1671.8,1321.2 1669.8,1323.5 1667.7,1325.7 1665.6,1327.8 1663.4,1329.8 1661.2,1331.6 1659,1333.3 1656.7,1334.8 1654.5,1336.2 1652.2,1337.3 1650,1338.4 1647.7,1339.2 1645.5,1339.9 1643.4,1340.4 1641.3,1340.7 1639.3,1340.8 1637.3,1340.7 1635.5,1340.4 1633.7,1340 1632,1339.3 1630.5,1338.5 1629.1,1337.5 1605.1,1320 1603.8,1318.8 1602.6,1317.5 1601.6,1316 1600.7,1314.3 1599.9,1312.5 1599.3,1310.6 1598.9,1308.5 1598.6,1306.4" stroke-width="2.4" fill="#fff"/>
<ellipse cx="1655" cy="1302" rx="25" ry="44" stroke-width="2.4" fill="#fff" transform="rotate(35 1655 1302)"/>
<ellipse cx="1655" cy="1302" rx="21" ry="40" stroke-width="1.8" fill="none" transform="rotate(35 1655 1302)"/>
<path d="M1641,1270 L1660,1264 L1665,1278 L1648,1284 Z M1652,1324 L1670,1320 L1670,1334 L1656,1338 Z M1670,1290 L1678,1288 L1680,1303 L1672,1304 Z" stroke-width="1.8" fill="none" />
<path d="M1612,1268 Q1622,1276 1628,1282 M1604,1322 L1624,1316" stroke-width="1.6" fill="none" />
<line x1="1650" y1="1296" x2="1682" y2="1315" stroke-width="1.8"/>
<ellipse cx="1688" cy="1324" rx="12" ry="13" stroke-width="2.4" fill="#fff"/>
<polygon points="1699.9,1328 1693,1332 1686.1,1328 1686.1,1320 1693,1316 1699.9,1320" stroke-width="2.2" fill="#fff"/>
<circle cx="1693" cy="1324" r="3.6" stroke-width="2.2" fill="none"/>
<circle cx="1693" cy="1324" r="4" stroke-width="1.6" fill="#333"/>
<path d="M1719.1,1325.2 L1726.4,1323.4 L1733.6,1330.7 L1824.2,1296.2 L1856.8,1289 L1882.2,1287.2 L1889.4,1294.4 L1885.8,1307.1 L1914.8,1323.4 L1947.4,1354.2 L1952.8,1404.9 L1940.1,1462.9 L1896.7,1506.4 L1827.8,1535.4 L1806,1531.7 L1748.1,1510 L1697.4,1491.9 L1690.1,1484.6 L1690.1,1441.2 L1697.4,1433.9 L1740.9,1448.4 L1742.7,1419.4 L1708.3,1401.3 L1697.4,1379.6 L1690.1,1365.1 L1688.3,1356 L1704.6,1347 L1715.5,1332.5 Z" stroke-width="2.6" fill="#fff" />
<path d="M1733.6,1330.7 L1745,1345 L1738,1360 L1712,1368 L1700,1372 M1762.6,1383.2 L1907.5,1321.6 M1755.4,1390.4 L1759,1513.6 M1762,1392 L1766,1515 M1690,1440 L1740,1455 L1745,1505" stroke-width="1.8" fill="none" />
<path d="M1700,1372 L1708,1400 M1742,1419 L1755,1392" stroke-width="1.8" fill="none" />
<ellipse cx="1869.6" cy="1417.6" rx="69" ry="104" stroke-width="2.4" fill="#fff" transform="rotate(33 1869.6 1417.6)"/>
<ellipse cx="1869.6" cy="1417.6" rx="65" ry="100" stroke-width="1.6" fill="none" transform="rotate(33 1869.6 1417.6)"/>
<ellipse cx="1868.3" cy="1419.5" rx="49" ry="83" stroke-width="2.4" fill="#fff" transform="rotate(34 1868.3 1419.5)"/>
<ellipse cx="1868.3" cy="1419.5" rx="46" ry="79" stroke-width="1.6" fill="none" transform="rotate(34 1868.3 1419.5)"/>
<circle cx="1906.2" cy="1465.3" r="2.6" stroke-width="1.8" fill="#000"/>
<circle cx="1906.2" cy="1465.3" r="0.9" stroke-width="0.8" fill="#fff"/>
<circle cx="1876.5" cy="1490.9" r="2.6" stroke-width="1.8" fill="#000"/>
<circle cx="1876.5" cy="1490.9" r="0.9" stroke-width="0.8" fill="#fff"/>
<circle cx="1845.4" cy="1502.1" r="2.6" stroke-width="1.8" fill="#000"/>
<circle cx="1845.4" cy="1502.1" r="0.9" stroke-width="0.8" fill="#fff"/>
<circle cx="1818.9" cy="1496.8" r="2.6" stroke-width="1.8" fill="#000"/>
<circle cx="1818.9" cy="1496.8" r="0.9" stroke-width="0.8" fill="#fff"/>
<circle cx="1802.3" cy="1476" r="2.6" stroke-width="1.8" fill="#000"/>
<circle cx="1802.3" cy="1476" r="0.9" stroke-width="0.8" fill="#fff"/>
<circle cx="1799" cy="1443.8" r="2.6" stroke-width="1.8" fill="#000"/>
<circle cx="1799" cy="1443.8" r="0.9" stroke-width="0.8" fill="#fff"/>
<circle cx="1809.5" cy="1406.6" r="2.6" stroke-width="1.8" fill="#000"/>
<circle cx="1809.5" cy="1406.6" r="0.9" stroke-width="0.8" fill="#fff"/>
<circle cx="1831.8" cy="1371.7" r="2.6" stroke-width="1.8" fill="#000"/>
<circle cx="1831.8" cy="1371.7" r="0.9" stroke-width="0.8" fill="#fff"/>
<circle cx="1861.5" cy="1346.1" r="2.6" stroke-width="1.8" fill="#000"/>
<circle cx="1861.5" cy="1346.1" r="0.9" stroke-width="0.8" fill="#fff"/>
<circle cx="1892.6" cy="1334.9" r="2.6" stroke-width="1.8" fill="#000"/>
<circle cx="1892.6" cy="1334.9" r="0.9" stroke-width="0.8" fill="#fff"/>
<circle cx="1919.1" cy="1340.2" r="2.6" stroke-width="1.8" fill="#000"/>
<circle cx="1919.1" cy="1340.2" r="0.9" stroke-width="0.8" fill="#fff"/>
<circle cx="1935.7" cy="1361" r="2.6" stroke-width="1.8" fill="#000"/>
<circle cx="1935.7" cy="1361" r="0.9" stroke-width="0.8" fill="#fff"/>
<circle cx="1939" cy="1393.2" r="2.6" stroke-width="1.8" fill="#000"/>
<circle cx="1939" cy="1393.2" r="0.9" stroke-width="0.8" fill="#fff"/>
<circle cx="1928.5" cy="1430.4" r="2.6" stroke-width="1.8" fill="#000"/>
<circle cx="1928.5" cy="1430.4" r="0.9" stroke-width="0.8" fill="#fff"/>
<path d="M1896,1350 Q1890,1420 1838,1468 L1816,1480 M1838,1467 L1874,1486 M1846,1461 L1880,1478" stroke-width="1.8" fill="none" />
<circle cx="1728" cy="1330" r="2.3" stroke-width="1.6" fill="#000"/>
<circle cx="1885" cy="1292" r="2.3" stroke-width="1.6" fill="#000"/>
<path d="M1720,1345 L1725,1337 L1730,1345 Z" stroke-width="1.8" fill="none" />
<line x1="1847.7" y1="1414" x2="1920" y2="1455" stroke-width="1.8"/>
<polygon points="1958.6,1308.2 1953,1311.5 1947.4,1308.2 1947.4,1301.8 1953,1298.5 1958.6,1301.8" stroke-width="2.2" fill="#fff"/>
<circle cx="1953" cy="1305" r="2.9" stroke-width="2.2" fill="none"/>
<circle cx="1953" cy="1305" r="3.5" stroke-width="1.4" fill="#333"/>
<path d="M1501.7,1448.4 L1556,1403.1 L1567,1403.1 L1585,1408.6 L1585,1462.9 L1596,1472 L1635.8,1484.6 L1650.3,1488.3 L1704.6,1528.1 L1719.1,1546.2 L1715.5,1555.3 L1708.3,1553.5 L1701,1539 L1632.2,1535.4 L1628.6,1539 L1592.3,1537.2 L1545.2,1515.4 L1505.4,1477.4 L1500,1455.6 Z" stroke-width="2.6" fill="#fff" />
<path d="M1523.5,1473.8 L1523.5,1450 Q1530,1440 1540,1441 L1548.8,1445 L1548.8,1473.8" stroke-width="2" fill="none" />
<circle cx="1536" cy="1458.6" r="2.3" stroke-width="1.6" fill="#000"/>
<path d="M1567,1403.1 L1570,1462 L1585,1462.9 M1505,1470 L1570,1462 M1590,1504 L1636,1484.6 L1650,1490 L1640,1523 M1590,1504 L1640,1523 L1700,1530" stroke-width="1.8" fill="none" />
<path d="M1505,1477 L1545,1505 L1592,1525 L1630,1532" stroke-width="1.6" fill="none" />
<line x1="1536" y1="1543" x2="1538" y2="1525" stroke-width="3.5"/>
<line x1="1536.6" y1="1537.6" x2="1537.8" y2="1526.5" stroke-width="1.2999999999999998" stroke="#fff" stroke-linecap="butt" stroke-dasharray="0.9,1.8"/>
<ellipse cx="1536" cy="1543" rx="3.4" ry="4.5" stroke-width="2.2" fill="#fff" transform="rotate(-83.7 1536 1543)"/>
<ellipse cx="1535.7" cy="1545.5" rx="2.5" ry="4.7" stroke-width="2.0" fill="#fff" transform="rotate(-83.7 1535.7 1545.5)"/>
<line x1="1788" y1="1550" x2="1780" y2="1543" stroke-width="3.5"/>
<line x1="1783.9" y1="1546.4" x2="1781.1" y2="1544" stroke-width="1.2999999999999998" stroke="#fff" stroke-linecap="butt" stroke-dasharray="0.9,1.8"/>
<ellipse cx="1788" cy="1550" rx="3.4" ry="4.5" stroke-width="2.2" fill="#fff" transform="rotate(-138.8 1788 1550)"/>
<ellipse cx="1789.9" cy="1551.6" rx="2.5" ry="4.7" stroke-width="2.0" fill="#fff" transform="rotate(-138.8 1789.9 1551.6)"/>
<line x1="1734" y1="841" x2="1746" y2="848" stroke-width="4"/>
<line x1="1740.2" y1="844.6" x2="1744.7" y2="847.2" stroke-width="1.7999999999999998" stroke="#fff" stroke-linecap="butt" stroke-dasharray="0.9,1.8"/>
<ellipse cx="1734" cy="841" rx="4.5" ry="6" stroke-width="2.2" fill="#fff" transform="rotate(30.3 1734 841)"/>
<ellipse cx="1731.8" cy="839.7" rx="3.3" ry="6.3" stroke-width="2.0" fill="#fff" transform="rotate(30.3 1731.8 839.7)"/>
<ellipse cx="1769" cy="861" rx="17.8" ry="20.2" stroke-width="2.4" fill="#fff" transform="rotate(20 1769 861)"/>
<ellipse cx="1770" cy="862" rx="12" ry="14" stroke-width="2" fill="none" transform="rotate(20 1770 862)"/>
<path d="M1762,850 L1778,858 L1776,872 L1764,868 Z" stroke-width="2" fill="#222" />
<ellipse cx="1790" cy="873" rx="4" ry="5" stroke-width="2.5" fill="none"/>
<path d="M1797,886 L1805,884 L1806,902 L1799,904 Z" stroke-width="2" fill="#fff" />
<path d="M1797,904 L1812,907 L1812,912 L1799,910 Z" stroke-width="2" fill="#fff" />
<path d="M1833,880 L1840,876 L1848,882 L1846,895 L1838,898 L1835,890 Z" stroke-width="2" fill="#fff" />
<path d="M1850.1,893.4L1854.6,887.8M1852.9,894.7L1857.4,889.1M1855.6,895.9L1860.1,890.3M1858.4,897.2L1862.9,891.6" stroke-width="2" fill="none" />
<path d="M1818.1,918.4L1822.6,912.8M1820.9,919.7L1825.4,914.1M1823.6,920.9L1828.1,915.3M1826.4,922.2L1830.9,916.6" stroke-width="2" fill="none" />
<polygon points="1846.1,950.7 1846.1,946.7 1846.4,942.6 1846.9,938.5 1847.7,934.4 1848.7,930.2 1850,926 1851.4,921.9 1853.1,917.9 1855,913.9 1857.2,910 1859.5,906.2 1862,902.6 1864.6,899.1 1867.5,895.7 1870.4,892.6 1873.5,889.6 1876.7,886.9 1880,884.4 1883.4,882.1 1886.9,880 1890.4,878.2 1893.9,876.7 1897.5,875.5 1901,874.5 1904.6,873.9 1908.1,873.5 1911.5,873.4 1914.9,873.6 1918.2,874.1 1921.3,874.9 1924.4,875.9 1927.3,877.2 1930.1,878.8 1936.1,882.8 1938.7,884.7 1941.2,886.8 1943.4,889.2 1945.5,891.8 1947.4,894.6 1949,897.7 1950.4,900.9 1951.6,904.3 1952.5,907.8 1953.2,911.5 1953.7,915.3 1953.9,919.3 1953.9,923.3 1953.6,927.4 1953.1,931.5 1952.3,935.6 1951.3,939.8 1950,944 1948.6,948.1 1946.9,952.1 1945,956.1 1942.8,960 1940.5,963.8 1938,967.4 1935.4,970.9 1932.5,974.3 1929.6,977.4 1926.5,980.4 1923.3,983.1 1920,985.6 1916.6,987.9 1913.1,990 1909.6,991.8 1906.1,993.3 1902.5,994.5 1899,995.5 1895.4,996.1 1891.9,996.5 1888.5,996.6 1885.1,996.4 1881.8,995.9 1878.7,995.1 1875.6,994.1 1872.7,992.8 1869.9,991.2 1863.9,987.2 1861.3,985.3 1858.8,983.2 1856.6,980.8 1854.5,978.2 1852.6,975.4 1851,972.3 1849.6,969.1 1848.4,965.7 1847.5,962.2 1846.8,958.5 1846.3,954.7" stroke-width="2.4" fill="#fff"/>
<ellipse cx="1902.5" cy="936.4" rx="46" ry="63.5" stroke-width="2.4" fill="#fff" transform="rotate(30 1902.5 936.4)"/>
<ellipse cx="1903" cy="937" rx="42" ry="59" stroke-width="1.8" fill="none" transform="rotate(30 1903 937)"/>
<ellipse cx="1903.5" cy="937.5" rx="38" ry="54.5" stroke-width="1.8" fill="none" transform="rotate(30 1903.5 937.5)"/>
<ellipse cx="1905" cy="939" rx="21" ry="30" stroke-width="2" fill="none" transform="rotate(30 1905 939)"/>
<path d="M1919.8,954.5 L1930.3,965.5" stroke-width="3" fill="none" />
<path d="M1906.2,965.2 L1905.7,985.1" stroke-width="3" fill="none" />
<path d="M1892.2,966.0 L1880.2,986.6" stroke-width="3" fill="none" />
<path d="M1883.0,956.5 L1863.6,969.3" stroke-width="3" fill="none" />
<path d="M1882.2,940.2 L1862.2,939.8" stroke-width="3" fill="none" />
<path d="M1890.2,923.5 L1876.7,909.5" stroke-width="3" fill="none" />
<path d="M1903.8,912.8 L1901.3,889.9" stroke-width="3" fill="none" />
<path d="M1917.8,912.0 L1926.8,888.4" stroke-width="3" fill="none" />
<path d="M1927.0,921.5 L1943.4,905.7" stroke-width="3" fill="none" />
<path d="M1927.8,937.8 L1944.8,935.2" stroke-width="3" fill="none" />
<ellipse cx="1906" cy="939" rx="7" ry="9" stroke-width="2" fill="#fff" transform="rotate(30 1906 939)"/>
<path d="M1893,925 L1912,950 M1898,920 L1908,932 M1920,930 L1928,942" stroke-width="2.6" fill="none" />
<ellipse cx="1982" cy="981" rx="37" ry="55" stroke-width="2.4" fill="#fff" transform="rotate(33 1982 981)"/>
<path d="M2013.2,1001.6 2010.2,1005.7 2007.0,1009.6 2003.7,1013.3 2000.1,1016.6 1996.4,1019.6 1992.6,1022.3 1988.7,1024.6 1984.8,1026.5 1980.9,1028.0 1977.1,1029.1 1973.3,1029.8 1969.6,1030.1 1966.0,1029.9 1962.6,1029.3 1959.5,1028.3 1956.5,1026.9 1953.8,1025.0 1951.3,1022.8 1949.1,1020.3 1947.3,1017.4 1945.8,1014.3 1944.6,1010.8 1943.7,1007.1 1943.2,1003.3 1943.1,999.2 1943.3,995.0 1943.9,990.7 1944.8,986.4 1946.0,982.0 1947.6,977.6 1949.5,973.4 1951.6,969.2 1954.1,965.1 1956.8,961.2 1959.7,957.5 1962.7,954.1 1966.0,950.9 1969.4,948.0 1972.9,945.4 1976.5,943.1 1980.1,941.2 1983.7,939.7 1987.3,938.6 1990.8,937.8 1994.3,937.5 1997.6,937.5 2000.8,937.9 2003.9,938.8 2006.7,940.0 2009.3,941.5 2011.6,943.4 2013.7,945.7 2015.5,948.3 2017.0,951.1 2018.2,954.2 2019.1,957.6 2019.7,961.1 2019.9,964.8 2019.8,968.7 2019.4,972.6 2018.6,976.6 2017.6,980.7 2016.2,984.7 2014.6,988.7 2012.7,992.6 2010.5,996.4 2008.1,1000.0 2005.5,1003.5 2002.7,1006.8 1999.7,1009.8 1996.6,1012.6 1993.4,1015.0 1990.1,1017.2 1986.8,1019.1 1983.5,1020.6 1980.1,1021.7 1976.8,1022.5 1973.6,1023.0 1970.5,1023.1 1967.5,1022.8 1964.7,1022.1 1962.0,1021.1 1959.6,1019.8 1957.3,1018.1 1955.3,1016.1 1953.6,1013.9 1952.1,1011.3 1950.9,1008.5 1950.0,1005.5 1949.4,1002.3 1949.1,998.9 1949.1,995.4 1949.4,991.8 1950.0,988.2 1950.9,984.5 1952.0,980.8 1953.5,977.1 1955.2,973.5 1957.1,970.0 1959.2,966.6 1961.6,963.3 1964.1,960.3 1966.8,957.4 1969.6,954.8 1972.5,952.5 1975.5,950.4 1978.5,948.6 1981.6,947.1 1984.6,945.9 1987.6,945.1 1990.6,944.6 1993.5,944.4 1996.3,944.6 1998.9,945.1 2001.4,945.9 2003.7,947.0 2005.8,948.5 2007.7,950.2 2009.4,952.2 2010.8,954.4 2012.0,956.9 2012.9,959.6 2013.5,962.5 2013.9,965.5 2014.0,968.7 2013.8,971.9 2013.3,975.3 2012.6,978.6 2011.6,982.0 2010.4,985.4 2008.9,988.7 2007.2,991.9 2005.3,995.0 2003.2,998.0 2001.0,1000.9 1998.6,1003.5 1996.1,1006.0 1993.5,1008.2 1990.8,1010.1 1988.0,1011.8 1985.2,1013.3 1982.5,1014.4 1979.7,1015.3 1977.0,1015.8 1974.4,1016.1 1971.8,1016.0 1969.4,1015.7 1967.1,1015.0 1964.9,1014.1 1963.0,1012.9 1961.2,1011.4 1959.6,1009.6 1958.3,1007.7 1957.1,1005.5 1956.2,1003.1 1955.6,1000.5 1955.2,997.8 1955.0,995.0 1955.1,992.1 1955.5,989.1 1956.1,986.1 1956.9,983.0 1957.9,980.0 1959.2,977.0 1960.6,974.0 1962.3,971.2 1964.1,968.4 1966.1,965.8 1968.2,963.4 1970.5,961.1 1972.8,959.1 1975.2,957.3 1977.7,955.6 1980.2,954.3 1982.7,953.2 1985.1,952.3 1987.6,951.8 1990.0,951.5 1992.3,951.4 1994.5,951.7 1996.6,952.2 1998.6,952.9 2000.4,954.0 2002.0,955.2 2003.5,956.7 2004.8,958.4 2005.8,960.3 2006.7,962.4 2007.3,964.6 2007.8,967.0 2008.0,969.5 2007.9,972.1 2007.7,974.8 2007.2,977.5 2006.6,980.2 2005.7,982.9 2004.6,985.6 2003.4,988.2 2001.9,990.8 2000.4,993.3 1998.6,995.6 1996.8,997.8 1994.8,999.9 1992.8,1001.8 1990.6,1003.5 1988.5,1005.0 1986.3,1006.2 1984.0,1007.3 1981.8,1008.1 1979.7,1008.7 1977.5,1009.0 1975.4,1009.1 1973.5,1009.0 1971.6,1008.6 1969.8,1008.0 1968.1,1007.1 1966.6,1006.1 1965.3,1004.8 1964.1,1003.3 1963.1,1001.7 1962.3,999.9 1961.7,998.0 1961.3,995.9 1961.0,993.7 1961.0,991.5 1961.2,989.2 1961.5,986.8 1962.1,984.4 1962.8,982.0 1963.7,979.6 1964.7,977.3 1965.9,975.0 1967.3,972.8 1968.8,970.7 1970.4,968.8 1972.1,966.9 1973.8,965.2 1975.7,963.7 1977.6,962.3 1979.5,961.2 1981.4,960.2 1983.4,959.4 1985.3,958.9 1987.2,958.5 1989.0,958.4 1990.7,958.5 1992.4,958.7 1994.0,959.2 1995.4,959.9 1996.8,960.8 1998.0,961.8 1999.0,963.0 2000.0,964.4 2000.7,965.9 2001.3,967.6 2001.7,969.4 2001.9,971.2 2002.0,973.1 2001.9,975.1 2001.7,977.2 2001.2,979.2 2000.7,981.3 1999.9,983.4 1999.0,985.4 1998.0,987.4 1996.9,989.3 1995.7,991.1 1994.3,992.8 1992.9,994.4 1991.4,995.9 1989.8,997.3 1988.2,998.5 1986.5,999.5 1984.9,1000.4 1983.2,1001.1 1981.6,1001.6 1980.0,1001.9 1978.4,1002.1 1976.9,1002.1 1975.5,1001.9 1974.1,1001.5 1972.8,1001.0 1971.7,1000.3 1970.6,999.4 1969.7,998.4 1968.9,997.3 1968.2,996.0 1967.7,994.7 1967.3,993.2 1967.1,991.6 1967.0,990.0 1967.0,988.3 1967.2,986.6 1967.5,984.9 1968.0,983.2 1968.6,981.4 1969.3,979.7 1970.1,978.0 1971.0,976.4 1972.1,974.9 1973.2,973.4 1974.3,972.1 1975.6,970.8 1976.9,969.6 1978.2,968.6 1979.6,967.7 1981.0,967.0 1982.4,966.4 1983.7,965.9 1985.1,965.6 1986.4,965.4 1987.6,965.4 1988.8,965.5 1990.0,965.8 1991.0,966.2 1992.0,966.7 1992.9,967.4 1993.7,968.2 1994.4,969.1 1994.9,970.2 1995.4,971.3 1995.7,972.5 1996.0,973.7 1996.1,975.0 1996.0,976.4 1995.9,977.8 1995.7,979.2 1995.3,980.6 1994.9,982.0 1994.3,983.4 1993.6,984.7 1992.9,986.1 1992.1,987.3 1991.2,988.5 1990.3,989.6 1989.3,990.7 1988.2,991.6 1987.2,992.4 1986.1,993.2 1985.0,993.8 1983.9,994.3 1982.8,994.7 1981.7,995.0 1980.7,995.1 1979.7,995.1 1978.7,995.1 1977.8,994.9 1976.9,994.5 1976.2,994.1 1975.5,993.6 1974.8,993.0 1974.3,992.3 1973.8,991.5 1973.5,990.6 1973.2,989.7 1973.0,988.8 1972.9,987.7 1972.9,986.7 1973.0,985.6 1973.2,984.5 1973.5,983.4 1973.8,982.4 1974.2,981.3 1974.7,980.2 1975.3,979.2 1975.9,978.3 1976.6,977.4 1977.3,976.5 1978.0,975.7 1978.8,975.0 1979.6,974.4 1980.4,973.8 1981.2,973.4 1982.1,973.0 1982.9,972.7 1983.7,972.5 1984.5,972.4 1985.2,972.3 1985.9,972.4 1986.6,972.5 1987.2,972.8 1987.8,973.1 1988.3,973.5 1988.7,973.9 1989.1,974.4 1989.5,975.0 1989.7,975.6 1989.9,976.3 1990.1,977.0 1990.1,977.7 1990.1,978.4 1990.0,979.2 1989.9,980.0 1989.7,980.7 1989.5,981.5 1989.2,982.2 1988.8,983.0 1988.4,983.7 1988.0,984.3 " stroke-width="1.8" fill="none" />
<ellipse cx="1982" cy="981" rx="33" ry="51" stroke-width="1.8" fill="none" transform="rotate(33 1982 981)"/>
<path d="M1980,926 L1990,924 L1992,932" stroke-width="2" fill="none" />
<path d="M1918,987 Q1905,1020 1916,1044 Q1930,1062 1960,1059 L2007,1050 L2032,1048" stroke-width="3.5" fill="none" />
<path d="M1918,987 Q1905,1020 1916,1044 Q1930,1062 1960,1059 L2007,1050 L2032,1048" stroke-width="1.2" fill="none" stroke="#fff"/>
<polygon points="2031.9,1044.1 2031.9,1040.8 2032.1,1037.3 2032.6,1033.8 2033.3,1030.3 2034.2,1026.7 2035.3,1023.1 2036.6,1019.5 2038.1,1015.9 2039.8,1012.4 2041.6,1008.9 2043.7,1005.5 2045.9,1002.2 2048.2,999 2050.7,995.9 2053.3,993 2056.1,990.2 2058.9,987.5 2061.9,985.1 2064.9,982.8 2067.9,980.8 2071,978.9 2074.2,977.3 2077.3,975.9 2080.5,974.7 2083.6,973.8 2086.7,973.1 2089.8,972.7 2092.7,972.5 2095.7,972.5 2098.5,972.9 2101.2,973.4 2103.8,974.2 2106.3,975.3 2108.6,976.6 2110.8,978.1 2152.3,1011.6 2154.3,1013.3 2156.1,1015.3 2157.8,1017.5 2159.2,1019.8 2160.5,1022.4 2161.5,1025.1 2162.4,1028 2163,1031 2163.4,1034.1 2163.6,1037.4 2163.6,1040.7 2163.4,1044.2 2162.9,1047.7 2162.2,1051.2 2161.3,1054.8 2160.2,1058.4 2158.9,1062 2157.4,1065.6 2155.7,1069.1 2153.9,1072.6 2151.8,1076 2149.6,1079.3 2147.3,1082.5 2144.8,1085.6 2142.2,1088.5 2139.4,1091.3 2136.6,1094 2133.6,1096.4 2130.6,1098.7 2127.6,1100.7 2124.5,1102.6 2121.3,1104.2 2118.2,1105.6 2115,1106.8 2111.9,1107.7 2108.8,1108.4 2105.8,1108.8 2102.8,1109 2099.8,1109 2097,1108.6 2094.3,1108.1 2091.7,1107.3 2089.2,1106.2 2086.9,1104.9 2084.7,1103.4 2043.2,1069.9 2041.2,1068.2 2039.4,1066.2 2037.8,1064 2036.3,1061.7 2035,1059.1 2034,1056.4 2033.1,1053.5 2032.5,1050.5 2032.1,1047.4" stroke-width="2.4" fill="#fff"/>
<ellipse cx="2118.5" cy="1057.5" rx="38" ry="57" stroke-width="2.4" fill="#fff" transform="rotate(35 2118.5 1057.5)"/>
<path d="M2139.7,1071.3 L2146.9,1077.0" stroke-width="4.6" fill="none" />
<path d="M2139.7,1071.3 L2146.9,1077.0" stroke-width="1.6" fill="none" stroke="#fff"/>
<path d="M2134.4,1077.5 L2138.9,1086.6" stroke-width="4.6" fill="none" />
<path d="M2134.4,1077.5 L2138.9,1086.6" stroke-width="1.6" fill="none" stroke="#fff"/>
<path d="M2128.3,1082.6 L2129.8,1094.6" stroke-width="4.6" fill="none" />
<path d="M2128.3,1082.6 L2129.8,1094.6" stroke-width="1.6" fill="none" stroke="#fff"/>
<path d="M2121.8,1086.3 L2120.1,1100.3" stroke-width="4.6" fill="none" />
<path d="M2121.8,1086.3 L2120.1,1100.3" stroke-width="1.6" fill="none" stroke="#fff"/>
<path d="M2115.1,1088.2 L2110.3,1103.6" stroke-width="4.6" fill="none" />
<path d="M2115.1,1088.2 L2110.3,1103.6" stroke-width="1.6" fill="none" stroke="#fff"/>
<path d="M2108.7,1088.4 L2101.0,1104.2" stroke-width="4.6" fill="none" />
<path d="M2108.7,1088.4 L2101.0,1104.2" stroke-width="1.6" fill="none" stroke="#fff"/>
<path d="M2103.0,1086.8 L2092.7,1102.1" stroke-width="4.6" fill="none" />
<path d="M2103.0,1086.8 L2092.7,1102.1" stroke-width="1.6" fill="none" stroke="#fff"/>
<path d="M2098.3,1083.5 L2086.0,1097.4" stroke-width="4.6" fill="none" />
<path d="M2098.3,1083.5 L2086.0,1097.4" stroke-width="1.6" fill="none" stroke="#fff"/>
<path d="M2094.8,1078.7 L2081.2,1090.4" stroke-width="4.6" fill="none" />
<path d="M2094.8,1078.7 L2081.2,1090.4" stroke-width="1.6" fill="none" stroke="#fff"/>
<path d="M2092.8,1072.6 L2078.6,1081.5" stroke-width="4.6" fill="none" />
<path d="M2092.8,1072.6 L2078.6,1081.5" stroke-width="1.6" fill="none" stroke="#fff"/>
<path d="M2092.4,1065.7 L2078.4,1071.1" stroke-width="4.6" fill="none" />
<path d="M2092.4,1065.7 L2078.4,1071.1" stroke-width="1.6" fill="none" stroke="#fff"/>
<path d="M2093.5,1058.3 L2080.5,1060.0" stroke-width="4.6" fill="none" />
<path d="M2093.5,1058.3 L2080.5,1060.0" stroke-width="1.6" fill="none" stroke="#fff"/>
<path d="M2096.2,1050.8 L2084.8,1048.8" stroke-width="4.6" fill="none" />
<path d="M2096.2,1050.8 L2084.8,1048.8" stroke-width="1.6" fill="none" stroke="#fff"/>
<path d="M2100.3,1043.7 L2091.1,1038.0" stroke-width="4.6" fill="none" />
<path d="M2100.3,1043.7 L2091.1,1038.0" stroke-width="1.6" fill="none" stroke="#fff"/>
<path d="M2105.6,1037.5 L2099.1,1028.4" stroke-width="4.6" fill="none" />
<path d="M2105.6,1037.5 L2099.1,1028.4" stroke-width="1.6" fill="none" stroke="#fff"/>
<path d="M2111.7,1032.4 L2108.2,1020.4" stroke-width="4.6" fill="none" />
<path d="M2111.7,1032.4 L2108.2,1020.4" stroke-width="1.6" fill="none" stroke="#fff"/>
<path d="M2118.2,1028.7 L2117.9,1014.7" stroke-width="4.6" fill="none" />
<path d="M2118.2,1028.7 L2117.9,1014.7" stroke-width="1.6" fill="none" stroke="#fff"/>
<path d="M2124.9,1026.8 L2127.7,1011.4" stroke-width="4.6" fill="none" />
<path d="M2124.9,1026.8 L2127.7,1011.4" stroke-width="1.6" fill="none" stroke="#fff"/>
<path d="M2131.3,1026.6 L2137.0,1010.8" stroke-width="4.6" fill="none" />
<path d="M2131.3,1026.6 L2137.0,1010.8" stroke-width="1.6" fill="none" stroke="#fff"/>
<path d="M2137.0,1028.2 L2145.3,1012.9" stroke-width="4.6" fill="none" />
<path d="M2137.0,1028.2 L2145.3,1012.9" stroke-width="1.6" fill="none" stroke="#fff"/>
<path d="M2141.7,1031.5 L2152.0,1017.6" stroke-width="4.6" fill="none" />
<path d="M2141.7,1031.5 L2152.0,1017.6" stroke-width="1.6" fill="none" stroke="#fff"/>
<path d="M2145.2,1036.3 L2156.8,1024.6" stroke-width="4.6" fill="none" />
<path d="M2145.2,1036.3 L2156.8,1024.6" stroke-width="1.6" fill="none" stroke="#fff"/>
<path d="M2147.2,1042.4 L2159.4,1033.5" stroke-width="4.6" fill="none" />
<path d="M2147.2,1042.4 L2159.4,1033.5" stroke-width="1.6" fill="none" stroke="#fff"/>
<path d="M2147.6,1049.3 L2159.6,1043.9" stroke-width="4.6" fill="none" />
<path d="M2147.6,1049.3 L2159.6,1043.9" stroke-width="1.6" fill="none" stroke="#fff"/>
<path d="M2146.5,1056.7 L2157.5,1055.0" stroke-width="4.6" fill="none" />
<path d="M2146.5,1056.7 L2157.5,1055.0" stroke-width="1.6" fill="none" stroke="#fff"/>
<path d="M2143.8,1064.2 L2153.2,1066.2" stroke-width="4.6" fill="none" />
<path d="M2143.8,1064.2 L2153.2,1066.2" stroke-width="1.6" fill="none" stroke="#fff"/>
<ellipse cx="2121" cy="1057.5" rx="18" ry="29" stroke-width="2.2" fill="#fff" transform="rotate(35 2121 1057.5)"/>
<path d="M2084,985 L2090,970 L2110,966 L2122,976 L2120,1000 L2104,1000 Z" stroke-width="2" fill="#fff" />
<circle cx="2094" cy="980" r="2.6" stroke-width="1.6" fill="none"/>
<path d="M2068,1002 L2075,997" stroke-width="4.2" fill="none" />
<path d="M2072,1014 L2079,1009" stroke-width="4.2" fill="none" />
<path d="M2078,997 L2085,992" stroke-width="4.2" fill="none" />
<path d="M2082,1009 L2089,1004" stroke-width="4.2" fill="none" />
<path d="M2088,992 L2095,987" stroke-width="4.2" fill="none" />
<path d="M2092,1004 L2099,999" stroke-width="4.2" fill="none" />
<path d="M2118,985 L2140,990 M2122,995 L2146,998" stroke-width="3.5" fill="none" />
<path d="M2038,1030 L2058,1024 L2075,1034 L2070,1048 L2044,1048 Z" stroke-width="2" fill="#fff" />
<circle cx="2048" cy="1036" r="3" stroke-width="1.6" fill="none"/>
<path d="M2050,1056 L2060,1080 L2068,1066 Z" stroke-width="1.8" fill="none" />
<line x1="2121" y1="1057.5" x2="2225" y2="1105" stroke-width="1.8"/>
<path d="M2058,1069 Q2030,1075 2020,1085 Q2012,1092 1994,1093" stroke-width="3" fill="none" />
<ellipse cx="2058" cy="1068" rx="4" ry="5" stroke-width="2" fill="#fff"/>
<path d="M1990,1083 L1995,1095 M1996,1086 Q2004,1090 1998,1098" stroke-width="2" fill="none" />
<path d="M1941,1098 Q1943,1084 1956,1082 L1966,1086 Q1970,1082 1976,1082 Q1982,1085 1978,1094 L1974,1100 L1972,1130 Q1968,1138 1958,1136 L1944,1132 Q1938,1125 1939,1110 Z" stroke-width="2.4" fill="#fff" />
<path d="M1944,1100 L1956,1097 L1958,1132 L1946,1129 Z" stroke-width="1.8" fill="none" />
<path d="M1946,1104 L1954,1102 L1954,1108 L1946,1110 Z M1946,1119 L1954,1117 L1954,1123 L1946,1125 Z" stroke-width="1.6" fill="none" />
<text x="0" y="0" transform="translate(1961,1100) rotate(72)" style="text-anchor:start;font-size:9px;font-weight:bold">START</text>
<line x1="2136" y1="1156" x2="2124" y2="1148" stroke-width="3.5"/>
<line x1="2131" y1="1152.7" x2="2125.2" y2="1148.8" stroke-width="1.2999999999999998" stroke="#fff" stroke-linecap="butt" stroke-dasharray="0.9,1.8"/>
<ellipse cx="2136" cy="1156" rx="3.8" ry="5" stroke-width="2.2" fill="#fff" transform="rotate(-146.3 2136 1156)"/>
<ellipse cx="2138.1" cy="1157.4" rx="2.8" ry="5.2" stroke-width="2.0" fill="#fff" transform="rotate(-146.3 2138.1 1157.4)"/>
<path d="M1190,1016 Q1197,1020 1197,1040 L1197,1072" stroke-width="1.7" fill="none" />
<path d="M1193,1016 Q1200,1020 1200,1040 L1200,1072" stroke-width="1.7" fill="none" />
<path d="M1199,1018 Q1206,1022 1206,1042 L1206,1072" stroke-width="1.7" fill="none" />
<path d="M1202,1018 Q1209,1022 1209,1042 L1209,1072" stroke-width="1.7" fill="none" />
<path d="M1208,1020 Q1215,1024 1215,1044 L1215,1072" stroke-width="1.7" fill="none" />
<path d="M1211,1020 Q1218,1024 1218,1044 L1218,1072" stroke-width="1.7" fill="none" />
<path d="M1217,1022 Q1224,1026 1224,1046 L1224,1072" stroke-width="1.7" fill="none" />
<path d="M1220,1022 Q1227,1026 1227,1046 L1227,1072" stroke-width="1.7" fill="none" />
<path d="M1172,1088 Q1176,1092 1176,1105 L1176,1152" stroke-width="1.7" fill="none" />
<path d="M1177,1088 Q1181,1092 1181,1105 L1181,1150" stroke-width="1.7" fill="none" />
<path d="M1182,1088 Q1186,1092 1186,1105 L1186,1148" stroke-width="1.7" fill="none" />
<path d="M1187,1088 Q1191,1092 1191,1105 L1191,1146" stroke-width="1.7" fill="none" />
<path d="M1214,1002 L1214,1010 M1206,1002 L1226,1012" stroke-width="2" fill="none" />
<path d="M1230,1068 L1240,1060 L1244,1072 L1234,1078 Z" stroke-width="2" fill="#fff" />
<path d="M1253,1069 L1268,1066 L1270,1078 L1256,1082 Z" stroke-width="2" fill="#fff" />
</svg>
</body></html>
